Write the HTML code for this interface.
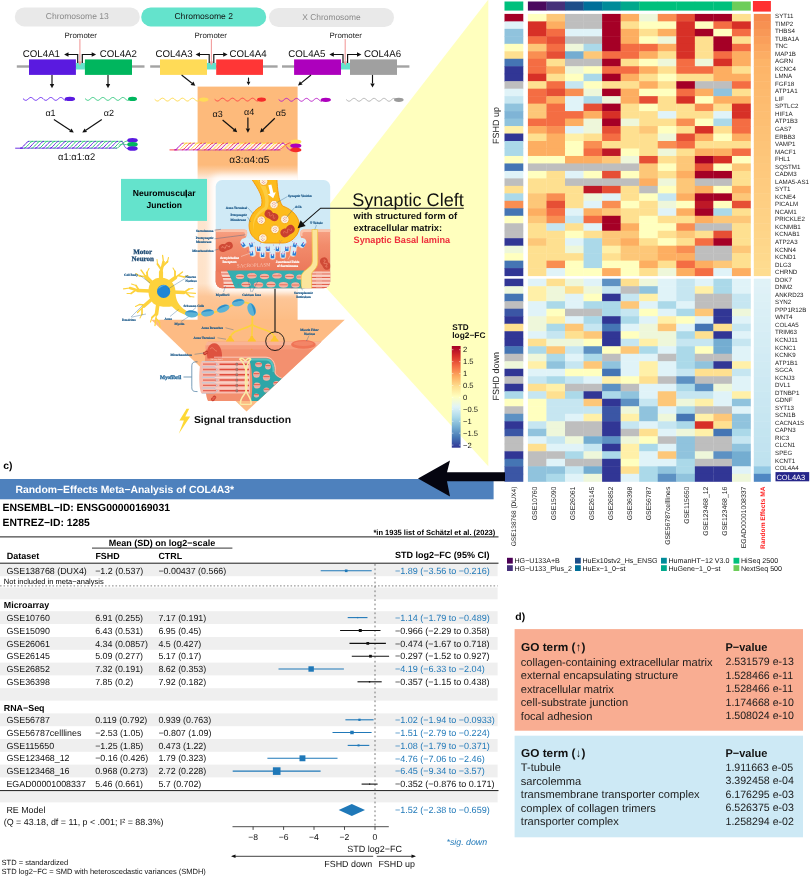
<!DOCTYPE html>
<html><head><meta charset="utf-8"><title>Figure</title>
<style>
html,body{margin:0;padding:0;background:#fff;}
body{width:811px;height:877px;overflow:hidden;font-family:"Liberation Sans",sans-serif;}
svg{display:block;font-family:"Liberation Sans",sans-serif;will-change:transform;text-rendering:geometricPrecision;}
</style></head><body>
<svg width="811" height="877" viewBox="0 0 811 877">
<rect width="811" height="877" fill="#fff"/>
<g id="diagram">
<polygon points="488.0,0 488.3,0 488.3,466.2 324,285.6 324,211.4" fill="#ffffbe"/>
<defs>
<linearGradient id="colg" x1="0" y1="0" x2="0" y2="1" gradientUnits="objectBoundingBox">
<stop offset="0" stop-color="#fdba7b"/><stop offset="0.334" stop-color="#fdba7b"/><stop offset="0.365" stop-color="#fdd2aa"/><stop offset="0.392" stop-color="#feeadb"/>
<stop offset="0.45" stop-color="#fee6d2"/><stop offset="0.84" stop-color="#fee2c8"/><stop offset="0.895" stop-color="#fdc698"/><stop offset="1" stop-color="#fdbd84"/>
</linearGradient>
<filter id="blur4" x="-20%" y="-20%" width="140%" height="140%"><feGaussianBlur stdDeviation="3"/></filter>
<filter id="blur1"><feGaussianBlur stdDeviation="0.6"/></filter>
<clipPath id="headclip"><polygon points="100,319.7 344.8,319.7 237,420.5 100,420.5"/></clipPath>
<clipPath id="insclip"><rect x="215.7" y="180" width="114.5" height="108.2" rx="6.5"/></clipPath>
<linearGradient id="musg" x1="0" y1="0" x2="0" y2="1"><stop offset="0" stop-color="#f7a284"/><stop offset="0.25" stop-color="#f28c6c"/><stop offset="1" stop-color="#e76a4e"/></linearGradient>
<linearGradient id="cbar" x1="0" y1="0" x2="0" y2="1">
<stop offset="0" stop-color="#a50026"/><stop offset="0.1" stop-color="#d73027"/><stop offset="0.2" stop-color="#f46d43"/><stop offset="0.3" stop-color="#fdae61"/><stop offset="0.4" stop-color="#fee090"/><stop offset="0.5" stop-color="#ffffbf"/><stop offset="0.6" stop-color="#e0f3f8"/><stop offset="0.7" stop-color="#abd9e9"/><stop offset="0.8" stop-color="#74add1"/><stop offset="0.9" stop-color="#4575b4"/><stop offset="1" stop-color="#313695"/>
</linearGradient>
</defs>
<rect x="197.60" y="86.60" width="100.00" height="234.40" fill="url(#colg)"/>
<polygon points="151.2,319.7 344.8,319.7 246.5,411.5" fill="#fdbb84"/>
<g clip-path="url(#colclip)"><rect x="210" y="175" width="126" height="118" rx="9" fill="#fff" opacity="0.95" filter="url(#blur4)"/></g>
<defs><clipPath id="colclip"><rect x="197.6" y="160" width="100" height="160"/></clipPath></defs>
<rect x="14.8" y="7.4" width="125.00000000000001" height="19.0" rx="9.5" fill="#e9e9e9"/>
<text x="77.3" y="19.4" font-size="8.5" text-anchor="middle" fill="#8a8a8a" textLength="63.0" lengthAdjust="spacingAndGlyphs">Chromosome 13</text>
<text x="80.8" y="37.7" font-size="7.8" text-anchor="middle" fill="#222" textLength="32.4" lengthAdjust="spacingAndGlyphs">Promoter</text>
<rect x="16.80" y="65.30" width="127.70" height="2.40" fill="#a3a3a3"/>
<rect x="75.90" y="62.90" width="9.00" height="6.60" fill="#64e3cc"/>
<rect x="29.00" y="59.40" width="46.90" height="15.50" fill="#5a1ae0"/>
<rect x="84.90" y="59.40" width="47.10" height="15.50" fill="#00b65e"/>
<line x1="79.9" y1="39" x2="79.9" y2="62.5" stroke="#f29c9c" stroke-width="1.1"/>
<polygon points="78.0,61.6 81.80000000000001,61.6 79.9,65.4" fill="#f29c9c"/>
<path d="M77.7,63 L77.7,54.5 L67.7,54.5" fill="none" stroke="#111" stroke-width="1.15"/>
<polygon points="64.10000000000001,54.5 68.5,52.3 68.5,56.7" fill="#111"/>
<path d="M82.30000000000001,63 L82.30000000000001,54.5 L92.30000000000001,54.5" fill="none" stroke="#111" stroke-width="1.15"/>
<polygon points="96.10000000000001,54.5 91.70000000000002,52.3 91.70000000000002,56.7" fill="#111"/>
<text x="22.8" y="56.7" font-size="9.8" fill="#111" textLength="37.2" lengthAdjust="spacingAndGlyphs">COL4A1</text>
<text x="99.7" y="56.7" font-size="9.8" fill="#111" textLength="37.2" lengthAdjust="spacingAndGlyphs">COL4A2</text>
<rect x="141.2" y="7.4" width="125.0" height="19.0" rx="9.5" fill="#64e3cc"/>
<text x="203.7" y="19.4" font-size="8.5" text-anchor="middle" fill="#111" textLength="58.5" lengthAdjust="spacingAndGlyphs">Chromosome 2</text>
<text x="210.8" y="37.7" font-size="7.8" text-anchor="middle" fill="#222" textLength="32.4" lengthAdjust="spacingAndGlyphs">Promoter</text>
<rect x="150.20" y="65.30" width="127.40" height="2.40" fill="#a3a3a3"/>
<rect x="207.00" y="62.90" width="9.20" height="6.60" fill="#64e3cc"/>
<rect x="160.00" y="59.40" width="47.00" height="15.50" fill="#ffdb57"/>
<rect x="216.20" y="59.40" width="46.80" height="15.50" fill="#ff3636"/>
<line x1="211.4" y1="39" x2="211.4" y2="62.5" stroke="#f29c9c" stroke-width="1.1"/>
<polygon points="209.5,61.6 213.3,61.6 211.4,65.4" fill="#f29c9c"/>
<path d="M209.20000000000002,63 L209.20000000000002,54.5 L199.20000000000002,54.5" fill="none" stroke="#111" stroke-width="1.15"/>
<polygon points="195.60000000000002,54.5 200.00000000000003,52.3 200.00000000000003,56.7" fill="#111"/>
<path d="M213.8,63 L213.8,54.5 L223.8,54.5" fill="none" stroke="#111" stroke-width="1.15"/>
<polygon points="227.60000000000002,54.5 223.20000000000002,52.3 223.20000000000002,56.7" fill="#111"/>
<text x="155.4" y="56.7" font-size="9.8" fill="#111" textLength="37.2" lengthAdjust="spacingAndGlyphs">COL4A3</text>
<text x="229.4" y="56.7" font-size="9.8" fill="#111" textLength="37.2" lengthAdjust="spacingAndGlyphs">COL4A4</text>
<rect x="269" y="8" width="125" height="19" rx="9.5" fill="#e9e9e9"/>
<text x="331.5" y="20.0" font-size="8.5" text-anchor="middle" fill="#8a8a8a" textLength="58.3" lengthAdjust="spacingAndGlyphs">X Chromosome</text>
<text x="345.7" y="37.7" font-size="7.8" text-anchor="middle" fill="#222" textLength="32.4" lengthAdjust="spacingAndGlyphs">Promoter</text>
<rect x="282.00" y="65.30" width="127.40" height="2.40" fill="#a3a3a3"/>
<rect x="341.00" y="62.90" width="9.00" height="6.60" fill="#64e3cc"/>
<rect x="294.10" y="59.40" width="46.90" height="15.50" fill="#ad00bd"/>
<rect x="350.00" y="59.40" width="47.00" height="15.50" fill="#a0a0a0"/>
<line x1="345.2" y1="39" x2="345.2" y2="62.5" stroke="#f29c9c" stroke-width="1.1"/>
<polygon points="343.3,61.6 347.09999999999997,61.6 345.2,65.4" fill="#f29c9c"/>
<path d="M343.0,63 L343.0,54.5 L333.0,54.5" fill="none" stroke="#111" stroke-width="1.15"/>
<polygon points="329.4,54.5 333.8,52.3 333.8,56.7" fill="#111"/>
<path d="M347.59999999999997,63 L347.59999999999997,54.5 L357.59999999999997,54.5" fill="none" stroke="#111" stroke-width="1.15"/>
<polygon points="361.4,54.5 356.99999999999994,52.3 356.99999999999994,56.7" fill="#111"/>
<text x="288.2" y="56.7" font-size="9.8" fill="#111" textLength="37.2" lengthAdjust="spacingAndGlyphs">COL4A5</text>
<text x="363.9" y="56.7" font-size="9.8" fill="#111" textLength="37.2" lengthAdjust="spacingAndGlyphs">COL4A6</text>
<line x1="52.0" y1="74.9" x2="52.0" y2="84.0" stroke="#111" stroke-width="1.15"/><polygon points="52.0,88.2 49.8,84.0 54.2,84.0" fill="#111"/>
<line x1="108.0" y1="74.9" x2="108.0" y2="84.0" stroke="#111" stroke-width="1.15"/><polygon points="108.0,88.2 105.8,84.0 110.2,84.0" fill="#111"/>
<line x1="181.6" y1="75.0" x2="192.0" y2="83.2" stroke="#111" stroke-width="1.15"/><polygon points="195.3,85.8 190.6,84.9 193.4,81.5" fill="#111"/>
<line x1="248.5" y1="77.6" x2="248.5" y2="81.7" stroke="#111" stroke-width="1.15"/><polygon points="248.5,85.3 246.6,81.7 250.4,81.7" fill="#111"/>
<line x1="311.0" y1="75.0" x2="301.3" y2="82.9" stroke="#111" stroke-width="1.15"/><polygon points="298.0,85.6 299.9,81.3 302.6,84.6" fill="#111"/>
<line x1="372.5" y1="74.9" x2="372.5" y2="83.4" stroke="#111" stroke-width="1.15"/><polygon points="372.5,87.6 370.3,83.4 374.7,83.4" fill="#111"/>
<polyline points="23.3,98.90 24.1,99.56 24.8,100.08 25.6,100.34 26.3,100.27 27.1,99.90 27.8,99.31 28.6,98.63 29.4,98.01 30.1,97.58 30.9,97.45 31.6,97.64 32.4,98.11 33.1,98.76 33.9,99.43 34.7,99.99 35.4,100.31 36.2,100.31 36.9,100.00 37.7,99.45 38.4,98.77 39.2,98.12 40.0,97.65 40.7,97.45 41.5,97.58 42.2,98.00 43.0,98.62 43.7,99.30 44.5,99.89 45.3,100.27 46.0,100.34 46.8,100.09 47.5,99.58 48.3,98.91 49.0,98.25 49.8,97.73 50.6,97.47 51.3,97.53 52.1,97.89 52.8,98.48 53.6,99.16 54.3,99.78 55.1,100.21 55.9,100.35 56.6,100.16 57.4,99.70 58.1,99.06 58.9,98.38 59.6,97.82 60.4,97.50 61.2,97.49 61.9,97.79 62.7,98.34 63.4,99.02 64.2,99.67 64.9,100.14 65.7,100.35" fill="none" stroke="#6a2af0" stroke-width="0.95" stroke-linecap="round"/><ellipse cx="69.9" cy="98.9" rx="5.2" ry="2.15" fill="#5a1ae0"/>
<polyline points="85.4,98.90 86.2,99.56 86.9,100.07 87.7,100.33 88.4,100.28 89.2,99.92 89.9,99.34 90.7,98.66 91.4,98.04 92.2,97.60 92.9,97.45 93.7,97.62 94.4,98.06 95.2,98.69 95.9,99.37 96.7,99.94 97.4,100.29 98.2,100.33 98.9,100.06 99.7,99.53 100.4,98.87 101.2,98.21 101.9,97.71 102.7,97.46 103.4,97.53 104.2,97.90 104.9,98.49 105.7,99.17 106.4,99.79 107.2,100.21 108.0,100.35 108.7,100.17 109.5,99.71 110.2,99.08 111.0,98.40 111.7,97.84 112.5,97.50 113.2,97.48 114.0,97.76 114.7,98.30 115.5,98.96 116.2,99.62 117.0,100.11 117.7,100.34 118.5,100.26 119.2,99.87 120.0,99.28 120.7,98.60 121.5,97.99 122.2,97.57 123.0,97.45 123.7,97.65 124.5,98.12 125.2,98.76 126.0,99.43 126.7,99.98 127.5,100.30 128.2,100.32 129.0,100.02" fill="none" stroke="#2fc77c" stroke-width="0.95" stroke-linecap="round"/><ellipse cx="132.5" cy="98.9" rx="4.5" ry="2.15" fill="#00b65e"/>
<polyline points="155.0,99.60 155.8,100.26 156.5,100.77 157.2,101.03 158.0,100.98 158.8,100.63 159.5,100.05 160.2,99.37 161.0,98.75 161.8,98.31 162.5,98.15 163.2,98.31 164.0,98.75 164.8,99.37 165.5,100.05 166.2,100.63 167.0,100.98 167.8,101.03 168.5,100.77 169.2,100.26 170.0,99.60 170.8,98.94 171.5,98.43 172.2,98.17 173.0,98.22 173.8,98.57 174.5,99.15 175.2,99.83 176.0,100.45 176.8,100.89 177.5,101.05 178.2,100.89 179.0,100.45 179.8,99.83 180.5,99.15 181.2,98.57 182.0,98.22 182.8,98.17 183.5,98.43 184.2,98.94 185.0,99.60 185.8,100.26 186.5,100.77 187.2,101.03 188.0,100.98 188.8,100.63 189.5,100.05 190.2,99.37 191.0,98.75 191.8,98.31 192.5,98.15 193.2,98.31 194.0,98.75 194.8,99.37 195.5,100.05 196.2,100.63 197.0,100.98 197.8,101.03 198.5,100.77 199.2,100.26 200.0,99.60" fill="none" stroke="#ffd84a" stroke-width="0.95" stroke-linecap="round"/><ellipse cx="203.7" cy="99.6" rx="4.7" ry="2.15" fill="#ffdb57"/>
<polyline points="215.0,99.60 215.8,100.26 216.5,100.78 217.3,101.03 218.0,100.97 218.8,100.61 219.5,100.03 220.3,99.35 221.0,98.72 221.8,98.29 222.5,98.15 223.3,98.33 224.1,98.79 224.8,99.42 225.6,100.10 226.3,100.67 227.1,101.00 227.8,101.02 228.6,100.73 229.3,100.19 230.1,99.52 230.8,98.87 231.6,98.38 232.4,98.16 233.1,98.25 233.9,98.65 234.6,99.25 235.4,99.93 236.1,100.54 236.9,100.94 237.6,101.05 238.4,100.83 239.1,100.35 239.9,99.70 240.6,99.02 241.4,98.48 242.2,98.18 242.9,98.20 243.7,98.52 244.4,99.08 245.2,99.76 245.9,100.40 246.7,100.86 247.4,101.05 248.2,100.91 248.9,100.49 249.7,99.87 250.5,99.19 251.2,98.60 252.0,98.23 252.7,98.16 253.5,98.41 254.2,98.92 255.0,99.58 255.7,100.25 256.5,100.77 257.2,101.03 258.0,100.98" fill="none" stroke="#ff4545" stroke-width="0.95" stroke-linecap="round"/><ellipse cx="261.5" cy="99.6" rx="4.5" ry="2.15" fill="#f52a2a"/>
<polyline points="279.0,99.80 279.8,100.47 280.5,100.99 281.3,101.24 282.1,101.16 282.8,100.78 283.6,100.18 284.3,99.49 285.1,98.88 285.9,98.46 286.6,98.35 287.4,98.57 288.1,99.06 288.9,99.72 289.7,100.40 290.4,100.94 291.2,101.22 292.0,101.19 292.7,100.84 293.5,100.26 294.2,99.57 295.0,98.94 295.8,98.50 296.5,98.35 297.3,98.53 298.1,98.99 298.8,99.64 299.6,100.32 300.4,100.89 301.1,101.21 301.9,101.21 302.6,100.90 303.4,100.33 304.2,99.65 304.9,99.00 305.7,98.53 306.4,98.35 307.2,98.49 308.0,98.93 308.7,99.56 309.5,100.25 310.3,100.83 311.0,101.19 311.8,101.23 312.6,100.95 313.3,100.41 314.1,99.73 314.8,99.07 315.6,98.58 316.4,98.36 317.1,98.46 317.9,98.87 318.6,99.48 319.4,100.17 320.2,100.78 320.9,101.16 321.7,101.24" fill="none" stroke="#b820c8" stroke-width="0.95" stroke-linecap="round"/><ellipse cx="325.8" cy="99.8" rx="5.1" ry="2.15" fill="#ad00bd"/>
<polyline points="346.5,99.80 347.3,100.46 348.0,100.98 348.8,101.24 349.5,101.17 350.3,100.80 351.0,100.21 351.8,99.52 352.6,98.90 353.3,98.48 354.1,98.35 354.8,98.55 355.6,99.02 356.4,99.66 357.1,100.34 357.9,100.90 358.6,101.21 359.4,101.21 360.1,100.89 360.9,100.34 361.7,99.66 362.4,99.01 363.2,98.54 363.9,98.35 364.7,98.48 365.4,98.91 366.2,99.53 367.0,100.21 367.7,100.80 368.5,101.17 369.2,101.23 370.0,100.98 370.8,100.46 371.5,99.79 372.3,99.13 373.0,98.61 373.8,98.36 374.5,98.43 375.3,98.81 376.1,99.40 376.8,100.08 377.6,100.70 378.3,101.12 379.1,101.25 379.8,101.05 380.6,100.58 381.4,99.93 382.1,99.25 382.9,98.70 383.6,98.39 384.4,98.39 385.1,98.71 385.9,99.27 386.7,99.95 387.4,100.59 388.2,101.06 388.9,101.25 389.7,101.11 390.5,100.69 391.2,100.06 392.0,99.38 392.7,98.79 393.5,98.43 394.2,98.37 395.0,98.63" fill="none" stroke="#b0b0b0" stroke-width="0.95" stroke-linecap="round"/><ellipse cx="398.8" cy="99.8" rx="4.8" ry="2.15" fill="#9a9a9a"/>
<text x="50.5" y="116.1" font-size="9.0" text-anchor="middle" fill="#111">α1</text>
<text x="108.8" y="116.1" font-size="9.0" text-anchor="middle" fill="#111">α2</text>
<line x1="53.9" y1="119.6" x2="70.3" y2="130.3" stroke="#111" stroke-width="1.2"/><polygon points="73.8,132.6 69.1,132.1 71.5,128.5" fill="#111"/>
<line x1="101.8" y1="119.6" x2="85.8" y2="130.3" stroke="#111" stroke-width="1.2"/><polygon points="82.3,132.6 84.6,128.5 87.0,132.1" fill="#111"/>
<text x="217.6" y="116.5" font-size="9.0" text-anchor="middle" fill="#111">α3</text>
<text x="249.2" y="114.8" font-size="9.0" text-anchor="middle" fill="#111">α4</text>
<text x="280.8" y="115.5" font-size="9.0" text-anchor="middle" fill="#111">α5</text>
<line x1="222.6" y1="120.0" x2="234.0" y2="129.5" stroke="#111" stroke-width="1.2"/><polygon points="237.2,132.2 232.6,131.2 235.4,127.8" fill="#111"/>
<line x1="247.9" y1="117.6" x2="247.9" y2="128.6" stroke="#111" stroke-width="1.2"/><polygon points="247.9,132.8 245.7,128.6 250.1,128.6" fill="#111"/>
<line x1="274.8" y1="118.3" x2="262.9" y2="129.7" stroke="#111" stroke-width="1.2"/><polygon points="259.9,132.6 261.4,128.1 264.4,131.3" fill="#111"/>
<path d="M15.2,148.2 L23.2,148.2" stroke="#5a1ae0" stroke-width="0.9" fill="none"/>
<polygon points="22.2,148.2 117,148.2 123,141.3 28.2,141.3" fill="#fff" opacity="0.8"/>
<line x1="20.2" y1="148.2" x2="117" y2="148.2" stroke="#5a1ae0" stroke-width="0.7"/>
<line x1="28.2" y1="141.3" x2="123" y2="141.3" stroke="#22c070" stroke-width="0.7"/>
<path d="M20.2,148.2 C23.2,148.2 26.2,141.3 29.2,141.3" stroke="#5a1ae0" stroke-width="0.95" fill="none"/>
<path d="M23.9,148.2 C26.9,148.2 29.9,141.3 32.9,141.3" stroke="#22c070" stroke-width="0.95" fill="none"/>
<path d="M27.6,148.2 C30.6,148.2 33.6,141.3 36.6,141.3" stroke="#5a1ae0" stroke-width="0.95" fill="none"/>
<path d="M31.3,148.2 C34.3,148.2 37.3,141.3 40.3,141.3" stroke="#22c070" stroke-width="0.95" fill="none"/>
<path d="M35.0,148.2 C38.0,148.2 41.0,141.3 44.0,141.3" stroke="#5a1ae0" stroke-width="0.95" fill="none"/>
<path d="M38.7,148.2 C41.7,148.2 44.7,141.3 47.7,141.3" stroke="#22c070" stroke-width="0.95" fill="none"/>
<path d="M42.4,148.2 C45.4,148.2 48.4,141.3 51.4,141.3" stroke="#5a1ae0" stroke-width="0.95" fill="none"/>
<path d="M46.1,148.2 C49.1,148.2 52.1,141.3 55.1,141.3" stroke="#22c070" stroke-width="0.95" fill="none"/>
<path d="M49.8,148.2 C52.8,148.2 55.8,141.3 58.8,141.3" stroke="#5a1ae0" stroke-width="0.95" fill="none"/>
<path d="M53.5,148.2 C56.5,148.2 59.5,141.3 62.5,141.3" stroke="#22c070" stroke-width="0.95" fill="none"/>
<path d="M57.2,148.2 C60.2,148.2 63.2,141.3 66.2,141.3" stroke="#5a1ae0" stroke-width="0.95" fill="none"/>
<path d="M60.9,148.2 C63.9,148.2 66.9,141.3 69.9,141.3" stroke="#22c070" stroke-width="0.95" fill="none"/>
<path d="M64.6,148.2 C67.6,148.2 70.6,141.3 73.6,141.3" stroke="#5a1ae0" stroke-width="0.95" fill="none"/>
<path d="M68.3,148.2 C71.3,148.2 74.3,141.3 77.3,141.3" stroke="#22c070" stroke-width="0.95" fill="none"/>
<path d="M72.0,148.2 C75.0,148.2 78.0,141.3 81.0,141.3" stroke="#5a1ae0" stroke-width="0.95" fill="none"/>
<path d="M75.7,148.2 C78.7,148.2 81.7,141.3 84.7,141.3" stroke="#22c070" stroke-width="0.95" fill="none"/>
<path d="M79.4,148.2 C82.4,148.2 85.4,141.3 88.4,141.3" stroke="#5a1ae0" stroke-width="0.95" fill="none"/>
<path d="M83.1,148.2 C86.1,148.2 89.1,141.3 92.1,141.3" stroke="#22c070" stroke-width="0.95" fill="none"/>
<path d="M86.8,148.2 C89.8,148.2 92.8,141.3 95.8,141.3" stroke="#5a1ae0" stroke-width="0.95" fill="none"/>
<path d="M90.5,148.2 C93.5,148.2 96.5,141.3 99.5,141.3" stroke="#22c070" stroke-width="0.95" fill="none"/>
<path d="M94.2,148.2 C97.2,148.2 100.2,141.3 103.2,141.3" stroke="#5a1ae0" stroke-width="0.95" fill="none"/>
<path d="M97.9,148.2 C100.9,148.2 103.9,141.3 106.9,141.3" stroke="#22c070" stroke-width="0.95" fill="none"/>
<path d="M101.6,148.2 C104.6,148.2 107.6,141.3 110.6,141.3" stroke="#5a1ae0" stroke-width="0.95" fill="none"/>
<path d="M105.3,148.2 C108.3,148.2 111.3,141.3 114.3,141.3" stroke="#22c070" stroke-width="0.95" fill="none"/>
<path d="M109.0,148.2 C112.0,148.2 115.0,141.3 118.0,141.3" stroke="#5a1ae0" stroke-width="0.95" fill="none"/>
<path d="M112.7,148.2 C115.7,148.2 118.7,141.3 121.7,141.3" stroke="#22c070" stroke-width="0.95" fill="none"/>
<path d="M120.7,141.3 C124.7,141.3 123.0,148.55 128.0,148.55" stroke="#5a1ae0" stroke-width="0.8" fill="none"/>
<path d="M115.7,148.2 C120.7,148.2 122.0,140.95 128.0,140.95" stroke="#22c070" stroke-width="0.8" fill="none"/>
<path d="M118.7,145.75 C121.7,142.75 124.0,144.75 128.0,144.75" stroke="#22c070" stroke-width="0.8" fill="none"/>
<ellipse cx="132.5" cy="140.3" rx="5.2" ry="2.3" fill="#5a1ae0"/>
<ellipse cx="132.5" cy="144.4" rx="5.2" ry="2.3" fill="#00b65e"/>
<ellipse cx="132.5" cy="148.5" rx="5.2" ry="2.3" fill="#5a1ae0"/>
<path d="M169.5,149.9 L177.5,149.9" stroke="#ff3636" stroke-width="0.9" fill="none"/>
<polygon points="176.5,149.9 280.5,149.9 286.5,143.1 182.5,143.1" fill="#fff" opacity="0.8"/>
<line x1="174.5" y1="149.9" x2="280.5" y2="149.9" stroke="#ad00bd" stroke-width="0.7"/>
<line x1="182.5" y1="143.1" x2="286.5" y2="143.1" stroke="#ffcf30" stroke-width="0.7"/>
<path d="M174.5,149.9 C177.5,149.9 180.5,143.1 183.5,143.1" stroke="#ad00bd" stroke-width="0.95" fill="none"/>
<path d="M178.2,149.9 C181.2,149.9 184.2,143.1 187.2,143.1" stroke="#ffcf30" stroke-width="0.95" fill="none"/>
<path d="M181.9,149.9 C184.9,149.9 187.9,143.1 190.9,143.1" stroke="#ff3636" stroke-width="0.95" fill="none"/>
<path d="M185.6,149.9 C188.6,149.9 191.6,143.1 194.6,143.1" stroke="#ad00bd" stroke-width="0.95" fill="none"/>
<path d="M189.3,149.9 C192.3,149.9 195.3,143.1 198.3,143.1" stroke="#ffcf30" stroke-width="0.95" fill="none"/>
<path d="M193.0,149.9 C196.0,149.9 199.0,143.1 202.0,143.1" stroke="#ff3636" stroke-width="0.95" fill="none"/>
<path d="M196.7,149.9 C199.7,149.9 202.7,143.1 205.7,143.1" stroke="#ad00bd" stroke-width="0.95" fill="none"/>
<path d="M200.4,149.9 C203.4,149.9 206.4,143.1 209.4,143.1" stroke="#ffcf30" stroke-width="0.95" fill="none"/>
<path d="M204.1,149.9 C207.1,149.9 210.1,143.1 213.1,143.1" stroke="#ff3636" stroke-width="0.95" fill="none"/>
<path d="M207.8,149.9 C210.8,149.9 213.8,143.1 216.8,143.1" stroke="#ad00bd" stroke-width="0.95" fill="none"/>
<path d="M211.5,149.9 C214.5,149.9 217.5,143.1 220.5,143.1" stroke="#ffcf30" stroke-width="0.95" fill="none"/>
<path d="M215.2,149.9 C218.2,149.9 221.2,143.1 224.2,143.1" stroke="#ff3636" stroke-width="0.95" fill="none"/>
<path d="M218.9,149.9 C221.9,149.9 224.9,143.1 227.9,143.1" stroke="#ad00bd" stroke-width="0.95" fill="none"/>
<path d="M222.6,149.9 C225.6,149.9 228.6,143.1 231.6,143.1" stroke="#ffcf30" stroke-width="0.95" fill="none"/>
<path d="M226.3,149.9 C229.3,149.9 232.3,143.1 235.3,143.1" stroke="#ff3636" stroke-width="0.95" fill="none"/>
<path d="M230.0,149.9 C233.0,149.9 236.0,143.1 239.0,143.1" stroke="#ad00bd" stroke-width="0.95" fill="none"/>
<path d="M233.7,149.9 C236.7,149.9 239.7,143.1 242.7,143.1" stroke="#ffcf30" stroke-width="0.95" fill="none"/>
<path d="M237.4,149.9 C240.4,149.9 243.4,143.1 246.4,143.1" stroke="#ff3636" stroke-width="0.95" fill="none"/>
<path d="M241.1,149.9 C244.1,149.9 247.1,143.1 250.1,143.1" stroke="#ad00bd" stroke-width="0.95" fill="none"/>
<path d="M244.8,149.9 C247.8,149.9 250.8,143.1 253.8,143.1" stroke="#ffcf30" stroke-width="0.95" fill="none"/>
<path d="M248.5,149.9 C251.5,149.9 254.5,143.1 257.5,143.1" stroke="#ff3636" stroke-width="0.95" fill="none"/>
<path d="M252.2,149.9 C255.2,149.9 258.2,143.1 261.2,143.1" stroke="#ad00bd" stroke-width="0.95" fill="none"/>
<path d="M255.9,149.9 C258.9,149.9 261.9,143.1 264.9,143.1" stroke="#ffcf30" stroke-width="0.95" fill="none"/>
<path d="M259.6,149.9 C262.6,149.9 265.6,143.1 268.6,143.1" stroke="#ff3636" stroke-width="0.95" fill="none"/>
<path d="M263.3,149.9 C266.3,149.9 269.3,143.1 272.3,143.1" stroke="#ad00bd" stroke-width="0.95" fill="none"/>
<path d="M267.0,149.9 C270.0,149.9 273.0,143.1 276.0,143.1" stroke="#ffcf30" stroke-width="0.95" fill="none"/>
<path d="M270.7,149.9 C273.7,149.9 276.7,143.1 279.7,143.1" stroke="#ff3636" stroke-width="0.95" fill="none"/>
<path d="M274.4,149.9 C277.4,149.9 280.4,143.1 283.4,143.1" stroke="#ad00bd" stroke-width="0.95" fill="none"/>
<path d="M282.4,143.1 C286.4,143.1 286.5,150.3 291.5,150.3" stroke="#ad00bd" stroke-width="0.8" fill="none"/>
<path d="M277.4,149.9 C282.4,149.9 285.5,142.7 291.5,142.7" stroke="#ff3636" stroke-width="0.8" fill="none"/>
<path d="M280.4,147.5 C283.4,144.5 287.5,146.5 291.5,146.5" stroke="#ffcf30" stroke-width="0.8" fill="none"/>
<ellipse cx="295.8" cy="141.8" rx="5.6" ry="2.4" fill="#ffdb57"/>
<ellipse cx="295.8" cy="145.8" rx="5.6" ry="2.4" fill="#ad00bd"/>
<ellipse cx="295.8" cy="149.9" rx="5.6" ry="2.4" fill="#f52a2a"/>
<text x="76.6" y="159.7" font-size="9.7" text-anchor="middle" fill="#111" textLength="37.1" lengthAdjust="spacingAndGlyphs">α1:α1:α2</text>
<text x="249.4" y="162.7" font-size="10.2" text-anchor="middle" fill="#111" textLength="40.1" lengthAdjust="spacingAndGlyphs">α3:α4:α5</text>
<rect x="121.00" y="178.90" width="86.00" height="42.00" fill="#64e3cc"/>
<text x="164.2" y="195.8" font-size="8.6" text-anchor="middle" font-weight="bold" fill="#000" textLength="62.8" lengthAdjust="spacingAndGlyphs">Neuromuscular</text>
<rect x="185.80" y="190.40" width="1.10" height="7.20" fill="#000"/>
<text x="164.2" y="208.1" font-size="8.6" text-anchor="middle" font-weight="bold" fill="#000" textLength="35.4" lengthAdjust="spacingAndGlyphs">Junction</text>
<text x="352.2" y="205.7" font-size="18.2" fill="#111" textLength="111.6" lengthAdjust="spacingAndGlyphs">Synaptic Cleft</text>
<text x="353.6" y="219.0" font-size="9.3" font-weight="bold" fill="#111" textLength="103.5" lengthAdjust="spacingAndGlyphs">with structured form of</text>
<text x="353.6" y="231.2" font-size="9.3" font-weight="bold" fill="#111" textLength="88.5" lengthAdjust="spacingAndGlyphs">extracellular matrix:</text>
<text x="353.6" y="243.4" font-size="9.3" font-weight="bold" fill="#ee2f3c" textLength="96.5" lengthAdjust="spacingAndGlyphs">Synaptic Basal lamina</text>
<text x="452.3" y="329.5" font-size="8.2" font-weight="bold" fill="#111" textLength="16.3" lengthAdjust="spacingAndGlyphs">STD</text>
<text x="452.3" y="338.3" font-size="8.2" font-weight="bold" fill="#111" textLength="33.2" lengthAdjust="spacingAndGlyphs">log2−FC</text>
<rect x="451.80" y="346.00" width="8.80" height="101.70" fill="url(#cbar)"/>
<line x1="451.8" y1="349.7" x2="453.4" y2="349.7" stroke="#fff" stroke-width="0.5"/>
<line x1="459.0" y1="349.7" x2="460.6" y2="349.7" stroke="#fff" stroke-width="0.5"/>
<text x="463.0" y="352.4" font-size="7.6" fill="#111">2</text>
<line x1="451.8" y1="361.6" x2="453.4" y2="361.6" stroke="#fff" stroke-width="0.5"/>
<line x1="459.0" y1="361.6" x2="460.6" y2="361.6" stroke="#fff" stroke-width="0.5"/>
<text x="463.0" y="364.3" font-size="7.6" fill="#111">1.5</text>
<line x1="451.8" y1="373.6" x2="453.4" y2="373.6" stroke="#fff" stroke-width="0.5"/>
<line x1="459.0" y1="373.6" x2="460.6" y2="373.6" stroke="#fff" stroke-width="0.5"/>
<text x="463.0" y="376.2" font-size="7.6" fill="#111">1</text>
<line x1="451.8" y1="385.5" x2="453.4" y2="385.5" stroke="#fff" stroke-width="0.5"/>
<line x1="459.0" y1="385.5" x2="460.6" y2="385.5" stroke="#fff" stroke-width="0.5"/>
<text x="463.0" y="388.2" font-size="7.6" fill="#111">0.5</text>
<line x1="451.8" y1="397.4" x2="453.4" y2="397.4" stroke="#fff" stroke-width="0.5"/>
<line x1="459.0" y1="397.4" x2="460.6" y2="397.4" stroke="#fff" stroke-width="0.5"/>
<text x="463.0" y="400.1" font-size="7.6" fill="#111">0</text>
<line x1="451.8" y1="409.3" x2="453.4" y2="409.3" stroke="#fff" stroke-width="0.5"/>
<line x1="459.0" y1="409.3" x2="460.6" y2="409.3" stroke="#fff" stroke-width="0.5"/>
<text x="463.0" y="412.0" font-size="7.6" fill="#111">−0.5</text>
<line x1="451.8" y1="421.3" x2="453.4" y2="421.3" stroke="#fff" stroke-width="0.5"/>
<line x1="459.0" y1="421.3" x2="460.6" y2="421.3" stroke="#fff" stroke-width="0.5"/>
<text x="463.0" y="423.9" font-size="7.6" fill="#111">−1</text>
<line x1="451.8" y1="433.2" x2="453.4" y2="433.2" stroke="#fff" stroke-width="0.5"/>
<line x1="459.0" y1="433.2" x2="460.6" y2="433.2" stroke="#fff" stroke-width="0.5"/>
<text x="463.0" y="435.9" font-size="7.6" fill="#111">−1.5</text>
<line x1="451.8" y1="445.1" x2="453.4" y2="445.1" stroke="#fff" stroke-width="0.5"/>
<line x1="459.0" y1="445.1" x2="460.6" y2="445.1" stroke="#fff" stroke-width="0.5"/>
<text x="463.0" y="447.8" font-size="7.6" fill="#111">−2</text>
<text x="193.9" y="422.6" font-size="10.2" font-weight="bold" fill="#111" textLength="97.2" lengthAdjust="spacingAndGlyphs">Signal transduction</text>
<polygon points="186.6,408.8 179.4,420.6 183.9,420.6 178.8,433.8 190.2,416.6 185.3,416.6 189.2,408.8" fill="#fdd835"/>
<g clip-path="url(#headclip)">
<path d="M208,341.8 L360,341.8 L360,401 L208,401 C203.5,394 203.5,350 208,341.8 Z" fill="#f3906f"/>
<path d="M207,341.8 L360,341.8 L360,345.4 L205.6,345.4 Z" fill="#f9b496"/>
<rect x="205" y="345.4" width="160" height="4" fill="#f6a283" opacity="0.7"/>
<ellipse cx="303.4" cy="344.4" rx="12.2" ry="4.4" fill="#f07456"/>
<ellipse cx="303.4" cy="343.6" rx="10" ry="2.4" fill="#f48a6c" opacity="0.8"/>
<path d="M207.5,358.5 C205.5,349.5 209,343 214.5,343.2 C219.5,343.4 222.5,350 222,358.5 Z" fill="#de5240"/>
<path d="M210,349 q2,-3 4,0 t3,2" fill="none" stroke="#f08a70" stroke-width="0.7"/>
<g transform="translate(205.6,352.8) rotate(-30)"><path d="M-2.7,0 C-2.7,-2.21 -0.54,-1.87 0,-1.19 C0.81,-2.04 2.7,-2.04 2.7,0 C2.7,2.21 0.54,1.7 0,1.7 C-1.08,2.04 -2.7,2.04 -2.7,0 Z" fill="#c63c2e"/><path d="M-1.62,0 q0.405,-1.19 0.81,0 t0.81,0 t0.81,0 t0.81,0" fill="none" stroke="#e8715a" stroke-width="0.7"/></g>
<path d="M214,357.2 L266,357.2 C274,357.2 276,366 275,372 C276,376 280,378 284,379" fill="none" stroke="#fbd9cf" stroke-width="0.8"/>
<path d="M201.5,361.6 L250,361.6 L250,393.6 L201.5,393.6 C198.5,390 198.5,365 201.5,361.6 Z" fill="#f8bcae"/>
<line x1="203.0" y1="364.2" x2="216.0" y2="364.2" stroke="#e8685a" stroke-width="1.3"/>
<line x1="219.5" y1="364.2" x2="249.0" y2="364.2" stroke="#e04c3c" stroke-width="1.5"/>
<line x1="202.0" y1="361.6" x2="249.0" y2="361.6" stroke="#fbe3dc" stroke-width="0.7"/>
<path d="M202,361.59999999999997 L214,361.59999999999997 L217.8,364.2 L214,366.8 L202,366.8" fill="none" stroke="#8fb6d8" stroke-width="0.4"/>
<rect x="235.60" y="363.00" width="2.40" height="2.40" fill="#9a6a62"/>
<line x1="203.0" y1="369.5" x2="216.0" y2="369.5" stroke="#e8685a" stroke-width="1.3"/>
<line x1="219.5" y1="369.5" x2="249.0" y2="369.5" stroke="#e04c3c" stroke-width="1.5"/>
<line x1="202.0" y1="366.9" x2="249.0" y2="366.9" stroke="#fbe3dc" stroke-width="0.7"/>
<path d="M202,366.9 L214,366.9 L217.8,369.5 L214,372.1 L202,372.1" fill="none" stroke="#8fb6d8" stroke-width="0.4"/>
<rect x="235.60" y="368.30" width="2.40" height="2.40" fill="#9a6a62"/>
<line x1="203.0" y1="374.8" x2="216.0" y2="374.8" stroke="#e8685a" stroke-width="1.3"/>
<line x1="219.5" y1="374.8" x2="249.0" y2="374.8" stroke="#e04c3c" stroke-width="1.5"/>
<line x1="202.0" y1="372.2" x2="249.0" y2="372.2" stroke="#fbe3dc" stroke-width="0.7"/>
<path d="M202,372.2 L214,372.2 L217.8,374.8 L214,377.40000000000003 L202,377.40000000000003" fill="none" stroke="#8fb6d8" stroke-width="0.4"/>
<rect x="235.60" y="373.60" width="2.40" height="2.40" fill="#9a6a62"/>
<line x1="203.0" y1="380.1" x2="216.0" y2="380.1" stroke="#e8685a" stroke-width="1.3"/>
<line x1="219.5" y1="380.1" x2="249.0" y2="380.1" stroke="#e04c3c" stroke-width="1.5"/>
<line x1="202.0" y1="377.5" x2="249.0" y2="377.5" stroke="#fbe3dc" stroke-width="0.7"/>
<path d="M202,377.5 L214,377.5 L217.8,380.1 L214,382.70000000000005 L202,382.70000000000005" fill="none" stroke="#8fb6d8" stroke-width="0.4"/>
<rect x="235.60" y="378.90" width="2.40" height="2.40" fill="#9a6a62"/>
<line x1="203.0" y1="385.4" x2="216.0" y2="385.4" stroke="#e8685a" stroke-width="1.3"/>
<line x1="219.5" y1="385.4" x2="249.0" y2="385.4" stroke="#e04c3c" stroke-width="1.5"/>
<line x1="202.0" y1="382.8" x2="249.0" y2="382.8" stroke="#fbe3dc" stroke-width="0.7"/>
<path d="M202,382.79999999999995 L214,382.79999999999995 L217.8,385.4 L214,388.0 L202,388.0" fill="none" stroke="#8fb6d8" stroke-width="0.4"/>
<rect x="235.60" y="384.20" width="2.40" height="2.40" fill="#9a6a62"/>
<line x1="203.0" y1="390.7" x2="216.0" y2="390.7" stroke="#e8685a" stroke-width="1.3"/>
<line x1="219.5" y1="390.7" x2="249.0" y2="390.7" stroke="#e04c3c" stroke-width="1.5"/>
<line x1="202.0" y1="388.1" x2="249.0" y2="388.1" stroke="#fbe3dc" stroke-width="0.7"/>
<path d="M202,388.09999999999997 L214,388.09999999999997 L217.8,390.7 L214,393.3 L202,393.3" fill="none" stroke="#8fb6d8" stroke-width="0.4"/>
<rect x="235.60" y="389.50" width="2.40" height="2.40" fill="#9a6a62"/>
<line x1="236.8" y1="362.0" x2="236.8" y2="393.0" stroke="#b88a80" stroke-width="0.5"/>
<path d="M249,358.4 L266,358.4 C273,358.4 275,366 274.2,372 C275,376 279,378 284,379.4 L284,386 L262,401 L251,401 C253,388 253,370 249,358.4 Z" fill="#2ea6a7"/>
<path d="M249,358.4 L266,358.4 C273,358.4 275,366 274.2,372 L272.5,372 C273,366 271,360.4 266,360.4 L249.6,360.4 Z" fill="#58c2bf"/>
<ellipse cx="258.6" cy="364.6" rx="3.4" ry="2.7" fill="#f6b1a2"/>
<line x1="255.60000000000002" y1="363.8" x2="261.6" y2="363.8" stroke="#e04c3c" stroke-width="0.9"/>
<line x1="255.8" y1="365.70000000000005" x2="261.4" y2="365.70000000000005" stroke="#8fb6d8" stroke-width="0.4"/>
<ellipse cx="268" cy="366.5" rx="2.9" ry="2.9" fill="#f6b1a2"/>
<line x1="265.5" y1="365.7" x2="270.5" y2="365.7" stroke="#e04c3c" stroke-width="0.9"/>
<line x1="265.70000000000005" y1="367.6" x2="270.29999999999995" y2="367.6" stroke="#8fb6d8" stroke-width="0.4"/>
<ellipse cx="256.5" cy="374.5" rx="3.3" ry="3.2" fill="#f6b1a2"/>
<line x1="253.6" y1="373.7" x2="259.40000000000003" y2="373.7" stroke="#e04c3c" stroke-width="0.9"/>
<line x1="253.79999999999998" y1="375.6" x2="259.2" y2="375.6" stroke="#8fb6d8" stroke-width="0.4"/>
<ellipse cx="266.5" cy="377.5" rx="3.6" ry="3.3" fill="#f6b1a2"/>
<line x1="263.29999999999995" y1="376.7" x2="269.70000000000005" y2="376.7" stroke="#e04c3c" stroke-width="0.9"/>
<line x1="263.5" y1="378.6" x2="269.5" y2="378.6" stroke="#8fb6d8" stroke-width="0.4"/>
<ellipse cx="276.5" cy="383.5" rx="3.2" ry="2.6" fill="#f6b1a2"/>
<line x1="273.7" y1="382.7" x2="279.3" y2="382.7" stroke="#e04c3c" stroke-width="0.9"/>
<line x1="273.90000000000003" y1="384.6" x2="279.09999999999997" y2="384.6" stroke="#8fb6d8" stroke-width="0.4"/>
<ellipse cx="257" cy="385.5" rx="3.4" ry="3" fill="#f6b1a2"/>
<line x1="254.0" y1="384.7" x2="260.0" y2="384.7" stroke="#e04c3c" stroke-width="0.9"/>
<line x1="254.2" y1="386.6" x2="259.79999999999995" y2="386.6" stroke="#8fb6d8" stroke-width="0.4"/>
<ellipse cx="266.5" cy="390" rx="3" ry="2.6" fill="#f6b1a2"/>
<line x1="263.9" y1="389.2" x2="269.1" y2="389.2" stroke="#e04c3c" stroke-width="0.9"/>
<line x1="264.1" y1="391.1" x2="268.9" y2="391.1" stroke="#8fb6d8" stroke-width="0.4"/>
<ellipse cx="256.5" cy="395.5" rx="2.6" ry="2" fill="#f6b1a2"/>
<line x1="254.3" y1="394.7" x2="258.70000000000005" y2="394.7" stroke="#e04c3c" stroke-width="0.9"/>
<line x1="254.5" y1="396.6" x2="258.5" y2="396.6" stroke="#8fb6d8" stroke-width="0.4"/>
<path d="M239.5,359 C247.5,363 249,388 244.5,394 C241.5,398 239.5,401 240.5,404.5" fill="none" stroke="#f9eca6" stroke-width="1.6"/>
<path d="M251,359 C245,363 244,388 247.5,394 C250,398 252,401 251,404.5" fill="none" stroke="#f9eca6" stroke-width="1.6"/>
<path d="M239.5,359.4 C242,356.6 243.8,359.6 245.3,360.8 C246.8,359.6 248.6,356.6 251,359.4" fill="none" stroke="#f9eca6" stroke-width="1.5"/>
<path d="M240.6,404.3 L251,404.3" stroke="#f9eca6" stroke-width="1.3"/>
<g transform="translate(213.6,398.4) rotate(-50)"><path d="M-3,0 C-3,-2.3400000000000003 -0.6000000000000001,-1.9800000000000002 0,-1.26 C0.8999999999999999,-2.16 3,-2.16 3,0 C3,2.3400000000000003 0.6000000000000001,1.8 0,1.8 C-1.2000000000000002,2.16 -3,2.16 -3,0 Z" fill="#d04434"/><path d="M-1.7999999999999998,0 q0.44999999999999996,-1.26 0.8999999999999999,0 t0.8999999999999999,0 t0.8999999999999999,0 t0.8999999999999999,0" fill="none" stroke="#e8715a" stroke-width="0.7"/></g>
<text x="210.5" y="360.2" font-size="2.6" font-family="Liberation Serif,serif" fill="#fde0d6">Sarcoplasm</text>
</g>
<path d="M252.3,318 L252.3,325.5" stroke="#fdd23c" stroke-width="1.8" fill="none"/>
<path d="M252.3,324.5 C246,329.5 232.5,329 230.2,337.5" stroke="#fdd23c" stroke-width="1.6" fill="none"/>
<path d="M252.3,324.5 L251.8,337.5" stroke="#fdd23c" stroke-width="1.6" fill="none"/>
<path d="M252.3,324.5 C258,329.5 272.5,329 274.6,337.5" stroke="#fdd23c" stroke-width="1.6" fill="none"/>
<path d="M229.2,336.0 L231.2,336.0 C231.6,338.8 234.0,339.2 234.39999999999998,341.40000000000003 L226.0,341.40000000000003 C226.39999999999998,339.2 228.79999999999998,338.8 229.2,336.0 Z" fill="#fdc62c"/>
<path d="M250.8,336.0 L252.8,336.0 C253.20000000000002,338.8 255.60000000000002,339.2 256.0,341.40000000000003 L247.60000000000002,341.40000000000003 C248.0,339.2 250.4,338.8 250.8,336.0 Z" fill="#fdc62c"/>
<path d="M273.6,336.0 L275.6,336.0 C276.0,338.8 278.40000000000003,339.2 278.8,341.40000000000003 L270.40000000000003,341.40000000000003 C270.8,339.2 273.20000000000005,338.8 273.6,336.0 Z" fill="#fdc62c"/>
<circle cx="251.8" cy="349.2" r="0.5" fill="#f5a020"/>
<circle cx="275" cy="341.2" r="9.3" fill="none" stroke="#111" stroke-width="0.9"/>
<line x1="275.0" y1="288.5" x2="275.0" y2="332.0" stroke="#111" stroke-width="1.1"/>
<text x="201.5" y="328.8" font-size="3.3" font-family="Liberation Serif,serif" font-weight="bold" fill="#1d5a8a" stroke="#1d5a8a" stroke-width="0.18">Axon Branches</text>
<line x1="225.5" y1="327.8" x2="233.5" y2="329.8" stroke="#1d5a8a" stroke-width="0.35"/>
<text x="193.5" y="338.8" font-size="3.3" font-family="Liberation Serif,serif" font-weight="bold" fill="#1d5a8a" stroke="#1d5a8a" stroke-width="0.18">Axon Terminal</text>
<line x1="217.5" y1="337.8" x2="226.0" y2="339.2" stroke="#1d5a8a" stroke-width="0.35"/>
<text x="309.5" y="330.6" font-size="3.3" font-family="Liberation Serif,serif" font-weight="bold" fill="#1d5a8a" stroke="#1d5a8a" stroke-width="0.18" text-anchor="middle">Muscle Fiber</text>
<text x="309.5" y="334.6" font-size="3.3" font-family="Liberation Serif,serif" font-weight="bold" fill="#1d5a8a" stroke="#1d5a8a" stroke-width="0.18" text-anchor="middle">Nucleus</text>
<line x1="309.0" y1="335.6" x2="306.5" y2="341.0" stroke="#1d5a8a" stroke-width="0.35"/>
<text x="170.5" y="355.5" font-size="3.3" font-family="Liberation Serif,serif" font-weight="bold" fill="#1d5a8a" stroke="#1d5a8a" stroke-width="0.18">Mitochondrion</text>
<line x1="194.5" y1="354.3" x2="204.0" y2="353.0" stroke="#1d5a8a" stroke-width="0.35"/>
<text x="160" y="378.8" font-size="5.4" font-family="Liberation Serif,serif" font-weight="bold" fill="#2b6d9e" stroke="#2b6d9e" stroke-width="0.3" textLength="21.2">Myofibril</text>
<line x1="183.5" y1="377.0" x2="191.5" y2="377.0" stroke="#1d5a8a" stroke-width="0.6"/>
<path d="M197.5,361.8 C192.5,361.8 191.8,363 191.8,367 L191.8,386.5 C191.8,390.5 192.5,391.6 197.5,391.6" fill="none" stroke="#1d5a8a" stroke-width="0.6"/>
<line x1="161.0" y1="285.0" x2="161.0" y2="272.0" stroke="#fdd23c" stroke-width="4.16" stroke-linecap="round"/><line x1="161.0" y1="272.0" x2="163.5" y2="262.0" stroke="#fdd23c" stroke-width="2.73" stroke-linecap="round"/><line x1="163.5" y1="262.0" x2="162.6" y2="255.5" stroke="#fdd23c" stroke-width="1.30" stroke-linecap="round"/>
<line x1="161.5" y1="270.0" x2="157.5" y2="264.0" stroke="#fdd23c" stroke-width="2.08" stroke-linecap="round"/><line x1="157.5" y1="264.0" x2="157.0" y2="259.5" stroke="#fdd23c" stroke-width="1.04" stroke-linecap="round"/>
<line x1="163.0" y1="266.0" x2="167.5" y2="261.5" stroke="#fdd23c" stroke-width="1.82" stroke-linecap="round"/><line x1="167.5" y1="261.5" x2="168.5" y2="257.5" stroke="#fdd23c" stroke-width="1.04" stroke-linecap="round"/>
<line x1="154.0" y1="285.0" x2="146.0" y2="277.0" stroke="#fdd23c" stroke-width="3.90" stroke-linecap="round"/><line x1="146.0" y1="277.0" x2="141.0" y2="270.0" stroke="#fdd23c" stroke-width="1.30" stroke-linecap="round"/>
<line x1="147.5" y1="279.0" x2="147.0" y2="272.5" stroke="#fdd23c" stroke-width="1.82" stroke-linecap="round"/><line x1="147.0" y1="272.5" x2="149.0" y2="268.5" stroke="#fdd23c" stroke-width="1.04" stroke-linecap="round"/>
<line x1="145.0" y1="276.5" x2="139.5" y2="276.0" stroke="#fdd23c" stroke-width="1.69" stroke-linecap="round"/><line x1="139.5" y1="276.0" x2="136.0" y2="273.5" stroke="#fdd23c" stroke-width="1.04" stroke-linecap="round"/>
<line x1="150.0" y1="291.0" x2="138.0" y2="290.5" stroke="#fdd23c" stroke-width="3.64" stroke-linecap="round"/><line x1="138.0" y1="290.5" x2="130.0" y2="288.0" stroke="#fdd23c" stroke-width="2.40" stroke-linecap="round"/><line x1="130.0" y1="288.0" x2="123.5" y2="288.8" stroke="#fdd23c" stroke-width="1.17" stroke-linecap="round"/>
<line x1="136.0" y1="290.0" x2="131.0" y2="293.5" stroke="#fdd23c" stroke-width="1.69" stroke-linecap="round"/><line x1="131.0" y1="293.5" x2="127.0" y2="293.5" stroke="#fdd23c" stroke-width="1.04" stroke-linecap="round"/>
<line x1="139.0" y1="290.3" x2="136.0" y2="285.5" stroke="#fdd23c" stroke-width="1.69" stroke-linecap="round"/><line x1="136.0" y1="285.5" x2="131.5" y2="284.0" stroke="#fdd23c" stroke-width="1.04" stroke-linecap="round"/>
<line x1="152.0" y1="299.0" x2="144.0" y2="306.0" stroke="#fdd23c" stroke-width="3.64" stroke-linecap="round"/><line x1="144.0" y1="306.0" x2="137.5" y2="312.5" stroke="#fdd23c" stroke-width="1.30" stroke-linecap="round"/>
<line x1="145.0" y1="305.0" x2="139.5" y2="304.5" stroke="#fdd23c" stroke-width="1.69" stroke-linecap="round"/><line x1="139.5" y1="304.5" x2="135.5" y2="306.5" stroke="#fdd23c" stroke-width="1.04" stroke-linecap="round"/>
<line x1="142.0" y1="308.5" x2="142.0" y2="314.0" stroke="#fdd23c" stroke-width="1.69" stroke-linecap="round"/><line x1="142.0" y1="314.0" x2="140.0" y2="318.0" stroke="#fdd23c" stroke-width="1.04" stroke-linecap="round"/>
<line x1="158.0" y1="303.0" x2="156.5" y2="314.0" stroke="#fdd23c" stroke-width="3.64" stroke-linecap="round"/><line x1="156.5" y1="314.0" x2="155.0" y2="325.5" stroke="#fdd23c" stroke-width="1.30" stroke-linecap="round"/>
<line x1="156.8" y1="313.0" x2="152.0" y2="317.5" stroke="#fdd23c" stroke-width="1.82" stroke-linecap="round"/><line x1="152.0" y1="317.5" x2="150.5" y2="322.0" stroke="#fdd23c" stroke-width="1.04" stroke-linecap="round"/>
<line x1="156.0" y1="318.5" x2="159.5" y2="322.5" stroke="#fdd23c" stroke-width="1.69" stroke-linecap="round"/><line x1="159.5" y1="322.5" x2="160.0" y2="327.0" stroke="#fdd23c" stroke-width="1.04" stroke-linecap="round"/>
<line x1="168.0" y1="283.0" x2="175.5" y2="277.5" stroke="#fdd23c" stroke-width="3.64" stroke-linecap="round"/><line x1="175.5" y1="277.5" x2="182.5" y2="272.0" stroke="#fdd23c" stroke-width="1.30" stroke-linecap="round"/>
<line x1="175.0" y1="278.0" x2="175.0" y2="271.5" stroke="#fdd23c" stroke-width="1.82" stroke-linecap="round"/><line x1="175.0" y1="271.5" x2="173.0" y2="268.0" stroke="#fdd23c" stroke-width="1.04" stroke-linecap="round"/>
<line x1="178.0" y1="275.5" x2="184.0" y2="277.0" stroke="#fdd23c" stroke-width="1.69" stroke-linecap="round"/><line x1="184.0" y1="277.0" x2="188.0" y2="275.5" stroke="#fdd23c" stroke-width="1.04" stroke-linecap="round"/>
<line x1="173.0" y1="292.0" x2="184.0" y2="292.5" stroke="#fdd23c" stroke-width="3.38" stroke-linecap="round"/><line x1="184.0" y1="292.5" x2="195.5" y2="293.3" stroke="#fdd23c" stroke-width="1.17" stroke-linecap="round"/>
<line x1="184.0" y1="292.5" x2="189.0" y2="289.0" stroke="#fdd23c" stroke-width="1.69" stroke-linecap="round"/><line x1="189.0" y1="289.0" x2="193.0" y2="288.5" stroke="#fdd23c" stroke-width="1.04" stroke-linecap="round"/>
<line x1="186.0" y1="292.8" x2="190.0" y2="296.5" stroke="#fdd23c" stroke-width="1.69" stroke-linecap="round"/><line x1="190.0" y1="296.5" x2="194.0" y2="297.0" stroke="#fdd23c" stroke-width="1.04" stroke-linecap="round"/>
<path d="M148.5,291 C148.5,282 154,277.5 161,277.8 C170,278 175.5,284 175.5,291.5 C175.5,298 177,303 183,308.5 C186,311 188,312 190,312.5 L188.5,315.5 C183,314.5 177,311.5 172,306.5 C168,306.8 160,307.5 155,304.5 C150.5,301.8 148.5,297 148.5,291 Z" fill="#fdd23c"/>
<circle cx="163.6" cy="291.4" r="6.6" fill="#1f86d6"/>
<path d="M158.2,289.5 C159,285.5 163,284.5 166,285.6 C162.5,286 160,287.5 158.2,289.5 Z" fill="#5fb4ec"/>
<text x="142.7" y="253.6" font-size="7" font-family="Liberation Serif,serif" font-weight="bold" fill="#17456f" stroke="#17456f" stroke-width="0.25" text-anchor="middle">Motor</text>
<text x="142.7" y="261.2" font-size="7" font-family="Liberation Serif,serif" font-weight="bold" fill="#17456f" stroke="#17456f" stroke-width="0.25" text-anchor="middle">Neuron</text>
<text x="124.0" y="275.5" font-size="3.3" font-family="Liberation Serif,serif" font-weight="bold" fill="#1d5a8a" stroke="#1d5a8a" stroke-width="0.18">Cell Body</text>
<line x1="139.5" y1="275.0" x2="150.0" y2="283.0" stroke="#1d5a8a" stroke-width="0.35"/>
<text x="185.5" y="278.0" font-size="3.3" font-family="Liberation Serif,serif" font-weight="bold" fill="#1d5a8a" stroke="#1d5a8a" stroke-width="0.18">Neuron</text>
<text x="185.5" y="282.2" font-size="3.3" font-family="Liberation Serif,serif" font-weight="bold" fill="#1d5a8a" stroke="#1d5a8a" stroke-width="0.18">Nucleus</text>
<line x1="185.0" y1="278.5" x2="168.0" y2="289.0" stroke="#1d5a8a" stroke-width="0.35"/>
<text x="122.0" y="320.7" font-size="3.3" font-family="Liberation Serif,serif" font-weight="bold" fill="#1d5a8a" stroke="#1d5a8a" stroke-width="0.18">Dendrites</text>
<line x1="131.0" y1="317.0" x2="142.5" y2="305.5" stroke="#1d5a8a" stroke-width="0.35"/>
<line x1="131.5" y1="317.2" x2="146.0" y2="314.0" stroke="#1d5a8a" stroke-width="0.35"/>
<text x="164.5" y="319.8" font-size="3.3" font-family="Liberation Serif,serif" font-weight="bold" fill="#1d5a8a" stroke="#1d5a8a" stroke-width="0.18">Axon</text>
<line x1="170.0" y1="316.5" x2="178.5" y2="309.5" stroke="#1d5a8a" stroke-width="0.35"/>
<text x="183.5" y="306.7" font-size="3.3" font-family="Liberation Serif,serif" font-weight="bold" fill="#1d5a8a" stroke="#1d5a8a" stroke-width="0.18">Schwann Cells</text>
<line x1="196.0" y1="307.5" x2="192.0" y2="311.0" stroke="#1d5a8a" stroke-width="0.35"/>
<text x="174.5" y="324.8" font-size="3.3" font-family="Liberation Serif,serif" font-weight="bold" fill="#1d5a8a" stroke="#1d5a8a" stroke-width="0.18">Myelin</text>
<line x1="181.0" y1="321.5" x2="190.5" y2="315.5" stroke="#1d5a8a" stroke-width="0.35"/>
<path d="M186,313.8 C200,316 215,313 226,308.5 C236,303 243,300.5 249,303.5 C253,306 253,312 252.4,318.5" fill="none" stroke="#fdd23c" stroke-width="1.6"/>
<g transform="translate(191.5,313.8) rotate(4)"><ellipse rx="6.6" ry="3.6" fill="#5cb3d6"/><path d="M-6.0,-0.9 C-3.9599999999999995,-4.1 3.9599999999999995,-4.1 6.0,-0.9 C3.3,-1.62 -3.3,-1.62 -6.0,-0.9 Z" fill="#2f8cc6"/></g>
<g transform="translate(207.6,312.8) rotate(-8)"><ellipse rx="6.6" ry="3.6" fill="#5cb3d6"/><path d="M-6.0,-0.9 C-3.9599999999999995,-4.1 3.9599999999999995,-4.1 6.0,-0.9 C3.3,-1.62 -3.3,-1.62 -6.0,-0.9 Z" fill="#2f8cc6"/></g>
<g transform="translate(223.2,308.6) rotate(-22)"><ellipse rx="6.6" ry="3.6" fill="#5cb3d6"/><path d="M-6.0,-0.9 C-3.9599999999999995,-4.1 3.9599999999999995,-4.1 6.0,-0.9 C3.3,-1.62 -3.3,-1.62 -6.0,-0.9 Z" fill="#2f8cc6"/></g>
<g transform="translate(238.2,302.6) rotate(-10)"><ellipse rx="6.4" ry="3.6" fill="#5cb3d6"/><path d="M-5.800000000000001,-0.9 C-3.84,-4.1 3.84,-4.1 5.800000000000001,-0.9 C3.2,-1.62 -3.2,-1.62 -5.800000000000001,-0.9 Z" fill="#2f8cc6"/></g>
<g transform="translate(251.6,309.5) rotate(72)"><ellipse rx="6.6" ry="3.9" fill="#5cb3d6"/><path d="M-6.0,-0.9 C-3.9599999999999995,-4.4 3.9599999999999995,-4.4 6.0,-0.9 C3.3,-1.755 -3.3,-1.755 -6.0,-0.9 Z" fill="#2f8cc6"/></g>
<g clip-path="url(#insclip)">
<rect x="215.00" y="179.00" width="116.00" height="111.00" fill="#d0eaf6"/>
<path d="M215,229.5 L244,229.5 C247,229.5 248,232 246.5,236 C245,240 241,240 241,243 L306,243 C306,240 301,239.5 300.5,236 C299.5,232 301,229.5 304,229.5 L331,229.5 L331,290 L215,290 Z" fill="url(#musg)"/>
<path d="M215,229.5 L244,229.5 C247,229.5 248,232 246.5,236 L244.5,236 C245.5,233 245,232 243,232 L215,232 Z" fill="#fbc3aa"/>
<path d="M331,229.5 L304,229.5 C301,229.5 299.5,232 300.5,236 L302.6,236 C302,233 302.5,232 304.5,232 L331,232 Z" fill="#fbc3aa"/>
<rect x="240.8" y="240" width="5.2" height="7.8" rx="2.4" fill="#d6edf8" stroke="#fbc3aa" stroke-width="1.1" transform="rotate(-21.0 243.4 242)"/>
<rect x="248.7" y="240" width="5.2" height="8.0" rx="2.4" fill="#d6edf8" stroke="#fbc3aa" stroke-width="1.1" transform="rotate(-9.0 251.3 242)"/>
<rect x="292.1" y="240" width="5.2" height="8.0" rx="2.4" fill="#d6edf8" stroke="#fbc3aa" stroke-width="1.1" transform="rotate(9.0 294.7 242)"/>
<rect x="300.4" y="240" width="5.2" height="7.8" rx="2.4" fill="#d6edf8" stroke="#fbc3aa" stroke-width="1.1" transform="rotate(21.0 303 242)"/>
<rect x="256.1" y="240" width="5.2" height="11.8" rx="2.4" fill="#d6edf8" stroke="#fbc3aa" stroke-width="1.1" transform="rotate(0.0 258.7 242)"/>
<rect x="265.4" y="240" width="5.2" height="12.0" rx="2.4" fill="#d6edf8" stroke="#fbc3aa" stroke-width="1.1" transform="rotate(0.0 268 242)"/>
<rect x="274.8" y="240" width="5.2" height="12.0" rx="2.4" fill="#d6edf8" stroke="#fbc3aa" stroke-width="1.1" transform="rotate(0.0 277.4 242)"/>
<rect x="284.2" y="240" width="5.2" height="11.8" rx="2.4" fill="#d6edf8" stroke="#fbc3aa" stroke-width="1.1" transform="rotate(0.0 286.8 242)"/>
<rect x="248.9" y="240" width="5.2" height="16.4" rx="2.4" fill="#d6edf8" stroke="#fbc3aa" stroke-width="1.1" transform="rotate(-6.0 251.5 242)"/>
<rect x="260.0" y="240" width="5.2" height="18.0" rx="2.4" fill="#d6edf8" stroke="#fbc3aa" stroke-width="1.1" transform="rotate(0.0 262.6 242)"/>
<rect x="269.9" y="240" width="5.2" height="19.2" rx="2.4" fill="#d6edf8" stroke="#fbc3aa" stroke-width="1.1" transform="rotate(0.0 272.5 242)"/>
<rect x="280.4" y="240" width="5.2" height="18.4" rx="2.4" fill="#d6edf8" stroke="#fbc3aa" stroke-width="1.1" transform="rotate(0.0 283 242)"/>
<rect x="291.7" y="240" width="5.2" height="16.4" rx="2.4" fill="#d6edf8" stroke="#fbc3aa" stroke-width="1.1" transform="rotate(6.0 294.3 242)"/>
<path d="M241.5,239.5 C243,237.5 249,237.5 252,239.5 L297,239.5 C300,237.5 304,237.5 305.5,239.5 C308,243 305,246.5 301,246.5 L246,246.5 C241.5,246.5 239,243 241.5,239.5 Z" fill="#d6edf8"/>
<rect x="240.8" y="240" width="5.2" height="7.8" rx="2.4" fill="#d6edf8" transform="rotate(-21.0 243.4 242)"/>
<rect x="248.7" y="240" width="5.2" height="8.0" rx="2.4" fill="#d6edf8" transform="rotate(-9.0 251.3 242)"/>
<rect x="292.1" y="240" width="5.2" height="8.0" rx="2.4" fill="#d6edf8" transform="rotate(9.0 294.7 242)"/>
<rect x="300.4" y="240" width="5.2" height="7.8" rx="2.4" fill="#d6edf8" transform="rotate(21.0 303 242)"/>
<rect x="256.1" y="240" width="5.2" height="11.8" rx="2.4" fill="#d6edf8" transform="rotate(0.0 258.7 242)"/>
<rect x="265.4" y="240" width="5.2" height="12.0" rx="2.4" fill="#d6edf8" transform="rotate(0.0 268 242)"/>
<rect x="274.8" y="240" width="5.2" height="12.0" rx="2.4" fill="#d6edf8" transform="rotate(0.0 277.4 242)"/>
<rect x="284.2" y="240" width="5.2" height="11.8" rx="2.4" fill="#d6edf8" transform="rotate(0.0 286.8 242)"/>
<rect x="248.9" y="240" width="5.2" height="16.4" rx="2.4" fill="#d6edf8" transform="rotate(-6.0 251.5 242)"/>
<rect x="260.0" y="240" width="5.2" height="18.0" rx="2.4" fill="#d6edf8" transform="rotate(0.0 262.6 242)"/>
<rect x="269.9" y="240" width="5.2" height="19.2" rx="2.4" fill="#d6edf8" transform="rotate(0.0 272.5 242)"/>
<rect x="280.4" y="240" width="5.2" height="18.4" rx="2.4" fill="#d6edf8" transform="rotate(0.0 283 242)"/>
<rect x="291.7" y="240" width="5.2" height="16.4" rx="2.4" fill="#d6edf8" transform="rotate(6.0 294.3 242)"/>
<path d="M251,178 C259,190 263.5,197 261.5,206 C251,211 246.5,223 250.5,233 C254,240 262,243 266,243 L283,243 C290,243 298,237 299.3,228 C300.5,218 293,209.5 282.5,206 C278.5,200 277.5,190 276.8,178 Z" fill="#fdbc1c" stroke="#f39a10" stroke-width="1"/>
<path d="M256,178 C263,190 267,198 264.5,207 C255,212 251,223 254,231 C252.5,222 257,214 266,210 C271,205 268.5,190 262,178 Z" fill="#fdd04a" opacity="0.8"/>
<path d="M268.3,185.2 L271.4,184.6 L273.4,192.8 L275.8,192.2 L273.2,198.2 L267.8,194.2 L270.2,193.6 Z" fill="#fff"/>
<circle cx="263.6" cy="181.2" r="4.3" fill="#fdf0d2" stroke="#f5a314" stroke-width="0.9"/><circle cx="262.3" cy="180.0" r="0.42" fill="#c0307a"/><circle cx="264.8" cy="179.8" r="0.42" fill="#c0307a"/><circle cx="263.6" cy="181.3" r="0.42" fill="#c0307a"/><circle cx="262.2" cy="182.5" r="0.42" fill="#c0307a"/><circle cx="264.9" cy="182.4" r="0.42" fill="#c0307a"/><circle cx="263.6" cy="179.0" r="0.42" fill="#c0307a"/><circle cx="263.8" cy="183.4" r="0.42" fill="#c0307a"/>
<circle cx="274" cy="204.6" r="4.3" fill="#fdf0d2" stroke="#f5a314" stroke-width="0.9"/><circle cx="272.7" cy="203.4" r="0.42" fill="#c0307a"/><circle cx="275.2" cy="203.2" r="0.42" fill="#c0307a"/><circle cx="274.0" cy="204.7" r="0.42" fill="#c0307a"/><circle cx="272.6" cy="205.9" r="0.42" fill="#c0307a"/><circle cx="275.3" cy="205.8" r="0.42" fill="#c0307a"/><circle cx="274.0" cy="202.4" r="0.42" fill="#c0307a"/><circle cx="274.2" cy="206.8" r="0.42" fill="#c0307a"/>
<circle cx="261.2" cy="220.2" r="4.3" fill="#fdf0d2" stroke="#f5a314" stroke-width="0.9"/><circle cx="259.9" cy="219.0" r="0.42" fill="#c0307a"/><circle cx="262.4" cy="218.8" r="0.42" fill="#c0307a"/><circle cx="261.2" cy="220.3" r="0.42" fill="#c0307a"/><circle cx="259.8" cy="221.5" r="0.42" fill="#c0307a"/><circle cx="262.5" cy="221.4" r="0.42" fill="#c0307a"/><circle cx="261.2" cy="218.0" r="0.42" fill="#c0307a"/><circle cx="261.4" cy="222.4" r="0.42" fill="#c0307a"/>
<circle cx="284.8" cy="219.4" r="4.3" fill="#fdf0d2" stroke="#f5a314" stroke-width="0.9"/><circle cx="283.5" cy="218.2" r="0.42" fill="#c0307a"/><circle cx="286.0" cy="218.0" r="0.42" fill="#c0307a"/><circle cx="284.8" cy="219.5" r="0.42" fill="#c0307a"/><circle cx="283.4" cy="220.7" r="0.42" fill="#c0307a"/><circle cx="286.1" cy="220.6" r="0.42" fill="#c0307a"/><circle cx="284.8" cy="217.2" r="0.42" fill="#c0307a"/><circle cx="285.0" cy="221.6" r="0.42" fill="#c0307a"/>
<circle cx="275" cy="229.4" r="4.3" fill="#fdf0d2" stroke="#f5a314" stroke-width="0.9"/><circle cx="273.7" cy="228.2" r="0.42" fill="#c0307a"/><circle cx="276.2" cy="228.0" r="0.42" fill="#c0307a"/><circle cx="275.0" cy="229.5" r="0.42" fill="#c0307a"/><circle cx="273.6" cy="230.7" r="0.42" fill="#c0307a"/><circle cx="276.3" cy="230.6" r="0.42" fill="#c0307a"/><circle cx="275.0" cy="227.2" r="0.42" fill="#c0307a"/><circle cx="275.2" cy="231.6" r="0.42" fill="#c0307a"/>
<circle cx="262.8" cy="238" r="4.3" fill="#fdf0d2" stroke="#f5a314" stroke-width="0.9"/><circle cx="261.5" cy="236.8" r="0.42" fill="#c0307a"/><circle cx="264.0" cy="236.6" r="0.42" fill="#c0307a"/><circle cx="262.8" cy="238.1" r="0.42" fill="#c0307a"/><circle cx="261.4" cy="239.3" r="0.42" fill="#c0307a"/><circle cx="264.1" cy="239.2" r="0.42" fill="#c0307a"/><circle cx="262.8" cy="235.8" r="0.42" fill="#c0307a"/><circle cx="263.0" cy="240.2" r="0.42" fill="#c0307a"/>
<g transform="translate(271.5,215.4) rotate(32)"><path d="M-7.4,0 C-7.4,-5.07 -1.4800000000000002,-4.29 0,-2.73 C2.22,-4.68 7.4,-4.68 7.4,0 C7.4,5.07 1.4800000000000002,3.9 0,3.9 C-2.9600000000000004,4.68 -7.4,4.68 -7.4,0 Z" fill="#c8402f"/><path d="M-4.44,0 q1.11,-2.73 2.22,0 t2.22,0 t2.22,0 t2.22,0" fill="none" stroke="#e8715a" stroke-width="0.7"/></g>
<g transform="translate(287.6,231.0) rotate(-32)"><path d="M-7.6,0 C-7.6,-5.460000000000001 -1.52,-4.620000000000001 0,-2.94 C2.28,-5.04 7.6,-5.04 7.6,0 C7.6,5.460000000000001 1.52,4.2 0,4.2 C-3.04,5.04 -7.6,5.04 -7.6,0 Z" fill="#c8402f"/><path d="M-4.56,0 q1.14,-2.94 2.28,0 t2.28,0 t2.28,0 t2.28,0" fill="none" stroke="#e8715a" stroke-width="0.7"/></g>
<g transform="translate(225.8,246.8) rotate(-18)"><path d="M-7.2,0 C-7.2,-4.9399999999999995 -1.4400000000000002,-4.18 0,-2.6599999999999997 C2.16,-4.56 7.2,-4.56 7.2,0 C7.2,4.9399999999999995 1.4400000000000002,3.8 0,3.8 C-2.8800000000000003,4.56 -7.2,4.56 -7.2,0 Z" fill="#d04a36"/><path d="M-4.32,0 q1.08,-2.6599999999999997 2.16,0 t2.16,0 t2.16,0 t2.16,0" fill="none" stroke="#f08a70" stroke-width="0.7"/></g>
<g transform="translate(325.5,263.5) rotate(60)"><path d="M-6.5,0 C-6.5,-4.9399999999999995 -1.3,-4.18 0,-2.6599999999999997 C1.95,-4.56 6.5,-4.56 6.5,0 C6.5,4.9399999999999995 1.3,3.8 0,3.8 C-2.6,4.56 -6.5,4.56 -6.5,0 Z" fill="#d04a36"/><path d="M-3.9,0 q0.975,-2.6599999999999997 1.95,0 t1.95,0 t1.95,0 t1.95,0" fill="none" stroke="#f08a70" stroke-width="0.7"/></g>
<g transform="translate(243.4,245.2) rotate(-35)"><path d="M-1.7,-1.9 L-1.7,1.7 L1.7,1.7 L1.7,-1.9 L0.6,-1.9 L0.6,-0.5 L-0.6,-0.5 L-0.6,-1.9 Z" fill="#2b7fd3"/><circle cx="-1.2" cy="-2.3" r="0.5" fill="#b03aa0"/><circle cx="1.2" cy="-2.3" r="0.5" fill="#b03aa0"/></g>
<g transform="translate(251.3,245.4) rotate(-15)"><path d="M-1.7,-1.9 L-1.7,1.7 L1.7,1.7 L1.7,-1.9 L0.6,-1.9 L0.6,-0.5 L-0.6,-0.5 L-0.6,-1.9 Z" fill="#2b7fd3"/><circle cx="-1.2" cy="-2.3" r="0.5" fill="#b03aa0"/><circle cx="1.2" cy="-2.3" r="0.5" fill="#b03aa0"/></g>
<g transform="translate(294.7,245.4) rotate(15)"><path d="M-1.7,-1.9 L-1.7,1.7 L1.7,1.7 L1.7,-1.9 L0.6,-1.9 L0.6,-0.5 L-0.6,-0.5 L-0.6,-1.9 Z" fill="#2b7fd3"/><circle cx="-1.2" cy="-2.3" r="0.5" fill="#b03aa0"/><circle cx="1.2" cy="-2.3" r="0.5" fill="#b03aa0"/></g>
<g transform="translate(303.0,245.2) rotate(35)"><path d="M-1.7,-1.9 L-1.7,1.7 L1.7,1.7 L1.7,-1.9 L0.6,-1.9 L0.6,-0.5 L-0.6,-0.5 L-0.6,-1.9 Z" fill="#2b7fd3"/><circle cx="-1.2" cy="-2.3" r="0.5" fill="#b03aa0"/><circle cx="1.2" cy="-2.3" r="0.5" fill="#b03aa0"/></g>
<g transform="translate(258.7,249.2) rotate(0)"><path d="M-1.7,-1.9 L-1.7,1.7 L1.7,1.7 L1.7,-1.9 L0.6,-1.9 L0.6,-0.5 L-0.6,-0.5 L-0.6,-1.9 Z" fill="#2b7fd3"/><circle cx="-1.2" cy="-2.3" r="0.5" fill="#b03aa0"/><circle cx="1.2" cy="-2.3" r="0.5" fill="#b03aa0"/></g>
<g transform="translate(268.0,249.4) rotate(0)"><path d="M-1.7,-1.9 L-1.7,1.7 L1.7,1.7 L1.7,-1.9 L0.6,-1.9 L0.6,-0.5 L-0.6,-0.5 L-0.6,-1.9 Z" fill="#2b7fd3"/><circle cx="-1.2" cy="-2.3" r="0.5" fill="#b03aa0"/><circle cx="1.2" cy="-2.3" r="0.5" fill="#b03aa0"/></g>
<g transform="translate(277.4,249.4) rotate(0)"><path d="M-1.7,-1.9 L-1.7,1.7 L1.7,1.7 L1.7,-1.9 L0.6,-1.9 L0.6,-0.5 L-0.6,-0.5 L-0.6,-1.9 Z" fill="#2b7fd3"/><circle cx="-1.2" cy="-2.3" r="0.5" fill="#b03aa0"/><circle cx="1.2" cy="-2.3" r="0.5" fill="#b03aa0"/></g>
<g transform="translate(286.8,249.2) rotate(0)"><path d="M-1.7,-1.9 L-1.7,1.7 L1.7,1.7 L1.7,-1.9 L0.6,-1.9 L0.6,-0.5 L-0.6,-0.5 L-0.6,-1.9 Z" fill="#2b7fd3"/><circle cx="-1.2" cy="-2.3" r="0.5" fill="#b03aa0"/><circle cx="1.2" cy="-2.3" r="0.5" fill="#b03aa0"/></g>
<g transform="translate(251.5,253.8) rotate(-10)"><path d="M-1.7,-1.9 L-1.7,1.7 L1.7,1.7 L1.7,-1.9 L0.6,-1.9 L0.6,-0.5 L-0.6,-0.5 L-0.6,-1.9 Z" fill="#2b7fd3"/><circle cx="-1.2" cy="-2.3" r="0.5" fill="#b03aa0"/><circle cx="1.2" cy="-2.3" r="0.5" fill="#b03aa0"/></g>
<g transform="translate(262.6,255.4) rotate(0)"><path d="M-1.7,-1.9 L-1.7,1.7 L1.7,1.7 L1.7,-1.9 L0.6,-1.9 L0.6,-0.5 L-0.6,-0.5 L-0.6,-1.9 Z" fill="#2b7fd3"/><circle cx="-1.2" cy="-2.3" r="0.5" fill="#b03aa0"/><circle cx="1.2" cy="-2.3" r="0.5" fill="#b03aa0"/></g>
<g transform="translate(272.5,256.6) rotate(0)"><path d="M-1.7,-1.9 L-1.7,1.7 L1.7,1.7 L1.7,-1.9 L0.6,-1.9 L0.6,-0.5 L-0.6,-0.5 L-0.6,-1.9 Z" fill="#2b7fd3"/><circle cx="-1.2" cy="-2.3" r="0.5" fill="#b03aa0"/><circle cx="1.2" cy="-2.3" r="0.5" fill="#b03aa0"/></g>
<g transform="translate(283.0,255.8) rotate(0)"><path d="M-1.7,-1.9 L-1.7,1.7 L1.7,1.7 L1.7,-1.9 L0.6,-1.9 L0.6,-0.5 L-0.6,-0.5 L-0.6,-1.9 Z" fill="#2b7fd3"/><circle cx="-1.2" cy="-2.3" r="0.5" fill="#b03aa0"/><circle cx="1.2" cy="-2.3" r="0.5" fill="#b03aa0"/></g>
<g transform="translate(294.3,253.8) rotate(10)"><path d="M-1.7,-1.9 L-1.7,1.7 L1.7,1.7 L1.7,-1.9 L0.6,-1.9 L0.6,-0.5 L-0.6,-0.5 L-0.6,-1.9 Z" fill="#2b7fd3"/><circle cx="-1.2" cy="-2.3" r="0.5" fill="#b03aa0"/><circle cx="1.2" cy="-2.3" r="0.5" fill="#b03aa0"/></g>
<circle cx="259.4" cy="247.1" r="0.4" fill="#a040a0"/>
<circle cx="266.2" cy="247.9" r="0.4" fill="#a040a0"/>
<circle cx="279.5" cy="240.9" r="0.4" fill="#a040a0"/>
<circle cx="247.7" cy="250.9" r="0.4" fill="#a040a0"/>
<circle cx="260.5" cy="243.0" r="0.4" fill="#a040a0"/>
<circle cx="298.8" cy="246.1" r="0.4" fill="#a040a0"/>
<circle cx="290.5" cy="246.2" r="0.4" fill="#a040a0"/>
<circle cx="280.2" cy="242.0" r="0.4" fill="#a040a0"/>
<circle cx="280.0" cy="251.3" r="0.4" fill="#a040a0"/>
<circle cx="274.2" cy="249.6" r="0.4" fill="#a040a0"/>
<circle cx="281.9" cy="240.8" r="0.4" fill="#a040a0"/>
<circle cx="286.4" cy="247.7" r="0.4" fill="#a040a0"/>
<circle cx="262.7" cy="240.4" r="0.4" fill="#a040a0"/>
<circle cx="292.0" cy="246.1" r="0.4" fill="#a040a0"/>
<circle cx="284.4" cy="251.4" r="0.4" fill="#a040a0"/>
<circle cx="284.1" cy="252.0" r="0.4" fill="#a040a0"/>
<circle cx="267.5" cy="250.4" r="0.4" fill="#a040a0"/>
<circle cx="270.1" cy="252.2" r="0.4" fill="#a040a0"/>
<circle cx="292.7" cy="241.3" r="0.4" fill="#a040a0"/>
<circle cx="254.1" cy="242.8" r="0.4" fill="#a040a0"/>
<circle cx="297.2" cy="245.7" r="0.4" fill="#a040a0"/>
<circle cx="279.6" cy="243.9" r="0.4" fill="#a040a0"/>
<circle cx="273.4" cy="245.0" r="0.4" fill="#a040a0"/>
<circle cx="265.2" cy="247.6" r="0.4" fill="#a040a0"/>
<circle cx="277.4" cy="251.8" r="0.4" fill="#a040a0"/>
<circle cx="282.5" cy="252.1" r="0.4" fill="#a040a0"/>
<rect x="221.00" y="271.50" width="110.00" height="18.50" fill="#f8c9bb"/>
<line x1="221.0" y1="274.0" x2="331.0" y2="274.0" stroke="#e2604c" stroke-width="1.0"/>
<line x1="221.0" y1="275.3" x2="331.0" y2="275.3" stroke="#fbe0d8" stroke-width="0.6"/>
<line x1="221.0" y1="277.5" x2="331.0" y2="277.5" stroke="#e2604c" stroke-width="1.0"/>
<line x1="221.0" y1="278.8" x2="331.0" y2="278.8" stroke="#fbe0d8" stroke-width="0.6"/>
<line x1="221.0" y1="281.0" x2="331.0" y2="281.0" stroke="#e2604c" stroke-width="1.0"/>
<line x1="221.0" y1="282.3" x2="331.0" y2="282.3" stroke="#fbe0d8" stroke-width="0.6"/>
<line x1="221.0" y1="284.5" x2="331.0" y2="284.5" stroke="#e2604c" stroke-width="1.0"/>
<line x1="221.0" y1="285.8" x2="331.0" y2="285.8" stroke="#fbe0d8" stroke-width="0.6"/>
<line x1="221.0" y1="287.5" x2="331.0" y2="287.5" stroke="#e2604c" stroke-width="1.0"/>
<line x1="221.0" y1="288.8" x2="331.0" y2="288.8" stroke="#fbe0d8" stroke-width="0.6"/>
<rect x="316.00" y="271.50" width="6.00" height="18.50" fill="#f8c9bb" opacity="0.3"/>
<path d="M227,270.5 L304.5,270.5 L304.5,290 L236,290 C233,284 231,277 227,270.5 Z" fill="#35aeb0"/>
<ellipse cx="240" cy="276.5" rx="4.2" ry="2.6" fill="#f6b3a2"/>
<line x1="236.4" y1="276.5" x2="243.6" y2="276.5" stroke="#e2604c" stroke-width="0.8"/>
<ellipse cx="252" cy="275.8" rx="4.8" ry="2.8" fill="#f6b3a2"/>
<line x1="247.79999999999998" y1="275.8" x2="256.2" y2="275.8" stroke="#e2604c" stroke-width="0.8"/>
<ellipse cx="264.5" cy="276.5" rx="4.6" ry="2.8" fill="#f6b3a2"/>
<line x1="260.5" y1="276.5" x2="268.5" y2="276.5" stroke="#e2604c" stroke-width="0.8"/>
<ellipse cx="277" cy="275.8" rx="4.8" ry="2.8" fill="#f6b3a2"/>
<line x1="272.8" y1="275.8" x2="281.2" y2="275.8" stroke="#e2604c" stroke-width="0.8"/>
<ellipse cx="289.5" cy="276.5" rx="4.6" ry="2.8" fill="#f6b3a2"/>
<line x1="285.5" y1="276.5" x2="293.5" y2="276.5" stroke="#e2604c" stroke-width="0.8"/>
<ellipse cx="299.5" cy="277" rx="3.2" ry="2.6" fill="#f6b3a2"/>
<line x1="296.90000000000003" y1="277" x2="302.09999999999997" y2="277" stroke="#e2604c" stroke-width="0.8"/>
<ellipse cx="246" cy="284.5" rx="4.6" ry="2.8" fill="#f6b3a2"/>
<line x1="242.0" y1="284.5" x2="250.0" y2="284.5" stroke="#e2604c" stroke-width="0.8"/>
<ellipse cx="258.5" cy="284.8" rx="4.8" ry="2.9" fill="#f6b3a2"/>
<line x1="254.29999999999998" y1="284.8" x2="262.7" y2="284.8" stroke="#e2604c" stroke-width="0.8"/>
<ellipse cx="271" cy="284.5" rx="4.6" ry="2.9" fill="#f6b3a2"/>
<line x1="267.0" y1="284.5" x2="275.0" y2="284.5" stroke="#e2604c" stroke-width="0.8"/>
<ellipse cx="283.5" cy="284.8" rx="4.8" ry="2.9" fill="#f6b3a2"/>
<line x1="279.3" y1="284.8" x2="287.7" y2="284.8" stroke="#e2604c" stroke-width="0.8"/>
<ellipse cx="295.5" cy="285" rx="4.2" ry="2.8" fill="#f6b3a2"/>
<line x1="291.90000000000003" y1="285" x2="299.09999999999997" y2="285" stroke="#e2604c" stroke-width="0.8"/>
<circle cx="291.9" cy="287.9" r="0.45" fill="#d03a8a"/>
<circle cx="279.0" cy="274.6" r="0.45" fill="#d03a8a"/>
<circle cx="292.2" cy="287.4" r="0.45" fill="#d03a8a"/>
<circle cx="295.3" cy="281.1" r="0.45" fill="#d03a8a"/>
<circle cx="282.0" cy="275.4" r="0.45" fill="#d03a8a"/>
<circle cx="290.2" cy="281.2" r="0.45" fill="#d03a8a"/>
<circle cx="251.9" cy="273.0" r="0.45" fill="#d03a8a"/>
<circle cx="291.8" cy="287.8" r="0.45" fill="#d03a8a"/>
<circle cx="238.2" cy="284.8" r="0.45" fill="#d03a8a"/>
<circle cx="260.7" cy="274.4" r="0.45" fill="#d03a8a"/>
<circle cx="252.6" cy="284.3" r="0.45" fill="#d03a8a"/>
<circle cx="293.1" cy="272.7" r="0.45" fill="#d03a8a"/>
<circle cx="275.0" cy="272.7" r="0.45" fill="#d03a8a"/>
<circle cx="282.3" cy="277.3" r="0.45" fill="#d03a8a"/>
<path d="M312,229.5 L317.6,229.5 L317.8,262 C317.8,268 313.5,270 311.6,273.5 L311.6,290 L301.2,290 L301.2,277 C301.2,270 312.4,268.5 312.4,261 Z" fill="#fbe59c" stroke="#f4c640" stroke-width="0.7"/>
<path d="M215,271 C222,271 225,280 223,290 L215,290 Z" fill="#ee7d60"/>
<text x="237" y="266.8" font-size="4.8" font-family="Liberation Serif,serif" fill="#f9c5b4" textLength="33.5" transform="rotate(-2 254 265)">SACROPLASM</text>
<text x="288.0" y="197.2" font-size="3.3" font-family="Liberation Serif,serif" font-weight="bold" fill="#1d5a8a" stroke="#1d5a8a" stroke-width="0.18">Synaptic Vesicles</text>
<line x1="276.0" y1="203.0" x2="287.5" y2="196.5" stroke="#1d5a8a" stroke-width="0.35"/>
<text x="295.0" y="207.7" font-size="3.3" font-family="Liberation Serif,serif" font-weight="bold" fill="#1d5a8a" stroke="#1d5a8a" stroke-width="0.18">ACh</text>
<line x1="286.5" y1="217.5" x2="294.5" y2="207.5" stroke="#1d5a8a" stroke-width="0.35"/>
<text x="247.0" y="208.7" font-size="3.3" font-family="Liberation Serif,serif" font-weight="bold" fill="#1d5a8a" stroke="#1d5a8a" stroke-width="0.18" text-anchor="end">Axon Terminal</text>
<line x1="247.5" y1="207.5" x2="253.0" y2="213.5" stroke="#1d5a8a" stroke-width="0.35"/>
<text x="247.0" y="216.4" font-size="3.3" font-family="Liberation Serif,serif" font-weight="bold" fill="#1d5a8a" stroke="#1d5a8a" stroke-width="0.18" text-anchor="end">Presynaptic</text>
<text x="246.0" y="220.7" font-size="3.3" font-family="Liberation Serif,serif" font-weight="bold" fill="#1d5a8a" stroke="#1d5a8a" stroke-width="0.18" text-anchor="end">Membrane</text>
<line x1="247.5" y1="217.0" x2="250.5" y2="222.0" stroke="#1d5a8a" stroke-width="0.35"/>
<text x="310.0" y="223.7" font-size="3.3" font-family="Liberation Serif,serif" font-weight="bold" fill="#1d5a8a" stroke="#1d5a8a" stroke-width="0.18">T Tubule</text>
<line x1="316.5" y1="225.0" x2="314.8" y2="229.5" stroke="#1d5a8a" stroke-width="0.35"/>
<text x="229.5" y="258.7" font-size="3.3" font-family="Liberation Serif,serif" font-weight="bold" fill="#fff" stroke="#fff" stroke-width="0.18" text-anchor="middle">Acetylcholine</text>
<text x="229.5" y="262.8" font-size="3.3" font-family="Liberation Serif,serif" font-weight="bold" fill="#fff" stroke="#fff" stroke-width="0.18" text-anchor="middle">Receptors</text>
<line x1="241.0" y1="256.5" x2="252.0" y2="252.5" stroke="#fff" stroke-width="0.35"/>
<text x="287.5" y="263.0" font-size="3.3" font-family="Liberation Serif,serif" font-weight="bold" fill="#fff" stroke="#fff" stroke-width="0.18" text-anchor="middle">Junctional Folds</text>
<text x="287.5" y="267.1" font-size="3.3" font-family="Liberation Serif,serif" font-weight="bold" fill="#fff" stroke="#fff" stroke-width="0.18" text-anchor="middle">of Sarcolemma</text>
<line x1="291.0" y1="254.0" x2="288.0" y2="259.5" stroke="#fff" stroke-width="0.35"/>
</g>
<text x="213.5" y="231.5" font-size="3.3" font-family="Liberation Serif,serif" font-weight="bold" fill="#1d5a8a" stroke="#1d5a8a" stroke-width="0.18" text-anchor="end">Sarcolemma</text>
<line x1="214.5" y1="230.2" x2="221.0" y2="229.3" stroke="#1d5a8a" stroke-width="0.35"/>
<text x="213.5" y="238.5" font-size="3.3" font-family="Liberation Serif,serif" font-weight="bold" fill="#1d5a8a" stroke="#1d5a8a" stroke-width="0.18" text-anchor="end">Postsynaptic</text>
<text x="211.5" y="242.5" font-size="3.3" font-family="Liberation Serif,serif" font-weight="bold" fill="#1d5a8a" stroke="#1d5a8a" stroke-width="0.18" text-anchor="end">Membrane</text>
<line x1="214.5" y1="238.8" x2="245.5" y2="234.8" stroke="#1d5a8a" stroke-width="0.35"/>
<text x="213.5" y="251.7" font-size="3.3" font-family="Liberation Serif,serif" font-weight="bold" fill="#1d5a8a" stroke="#1d5a8a" stroke-width="0.18" text-anchor="end">Mitochondrion</text>
<line x1="214.5" y1="250.3" x2="219.0" y2="249.0" stroke="#1d5a8a" stroke-width="0.35"/>
<text x="222.6" y="295.5" font-size="3.3" font-family="Liberation Serif,serif" font-weight="bold" fill="#1d5a8a" stroke="#1d5a8a" stroke-width="0.18" text-anchor="middle">Myofibril</text>
<line x1="223.5" y1="292.0" x2="225.5" y2="286.0" stroke="#1d5a8a" stroke-width="0.35"/>
<text x="251.6" y="295.5" font-size="3.3" font-family="Liberation Serif,serif" font-weight="bold" fill="#1d5a8a" stroke="#1d5a8a" stroke-width="0.18" text-anchor="middle">Calcium Ions</text>
<line x1="251.0" y1="292.0" x2="248.0" y2="279.5" stroke="#1d5a8a" stroke-width="0.35"/>
<line x1="252.0" y1="292.0" x2="258.0" y2="281.0" stroke="#1d5a8a" stroke-width="0.35"/>
<text x="303.5" y="293.5" font-size="3.3" font-family="Liberation Serif,serif" font-weight="bold" fill="#1d5a8a" stroke="#1d5a8a" stroke-width="0.18" text-anchor="middle">Sarcoplasmic</text>
<text x="303.5" y="297.5" font-size="3.3" font-family="Liberation Serif,serif" font-weight="bold" fill="#1d5a8a" stroke="#1d5a8a" stroke-width="0.18" text-anchor="middle">Reticulum</text>
<line x1="302.5" y1="290.3" x2="299.5" y2="283.0" stroke="#1d5a8a" stroke-width="0.35"/>
<path d="M463.8,208.2 L320.6,208.2 L301.4,224.8" fill="none" stroke="#111" stroke-width="1.05"/>
<polygon points="297.6,228.2 305.6,225.9 300.6,220.2" fill="#111"/>
</g>
<g id="heatmap">
<rect x="504.50" y="1.50" width="18.80" height="9.10" fill="#00c07c"/>
<rect x="527.90" y="1.50" width="18.85" height="9.10" fill="#4b0a5e"/>
<rect x="546.45" y="1.50" width="18.85" height="9.10" fill="#45307a"/>
<rect x="565.00" y="1.50" width="18.85" height="9.10" fill="#1d4e89"/>
<rect x="583.55" y="1.50" width="18.85" height="9.10" fill="#006f99"/>
<rect x="602.10" y="1.50" width="18.85" height="9.10" fill="#008b99"/>
<rect x="620.65" y="1.50" width="18.85" height="9.10" fill="#00a88c"/>
<rect x="639.20" y="1.50" width="18.85" height="9.10" fill="#00c07c"/>
<rect x="657.75" y="1.50" width="18.85" height="9.10" fill="#00c07c"/>
<rect x="676.30" y="1.50" width="18.85" height="9.10" fill="#00c07c"/>
<rect x="694.85" y="1.50" width="18.85" height="9.10" fill="#00c07c"/>
<rect x="713.40" y="1.50" width="18.85" height="9.10" fill="#00c07c"/>
<rect x="731.95" y="1.50" width="18.85" height="9.10" fill="#6dcd59"/>
<rect x="752.90" y="1.00" width="18.00" height="10.60" fill="#ff3030"/>
<rect x="504.50" y="13.90" width="18.80" height="7.98" fill="#a50026"/>
<rect x="527.90" y="13.90" width="18.85" height="7.98" fill="#ffffbf"/>
<rect x="546.45" y="13.90" width="18.85" height="7.98" fill="#fdc778"/>
<rect x="565.00" y="13.90" width="18.85" height="7.98" fill="#bebebe"/>
<rect x="583.55" y="13.90" width="18.85" height="7.98" fill="#bebebe"/>
<rect x="602.10" y="13.90" width="18.85" height="7.98" fill="#a50026"/>
<rect x="620.65" y="13.90" width="18.85" height="7.98" fill="#fdae61"/>
<rect x="639.20" y="13.90" width="18.85" height="7.98" fill="#eef7da"/>
<rect x="657.75" y="13.90" width="18.85" height="7.98" fill="#f98e52"/>
<rect x="676.30" y="13.90" width="18.85" height="7.98" fill="#e64f35"/>
<rect x="694.85" y="13.90" width="18.85" height="7.98" fill="#a50026"/>
<rect x="713.40" y="13.90" width="18.85" height="7.98" fill="#a50026"/>
<rect x="731.95" y="13.90" width="18.85" height="7.98" fill="#fee090"/>
<rect x="753.80" y="13.90" width="17.00" height="7.98" fill="#f68a4e"/>
<text x="775.0" y="17.97" font-size="6.2" fill="#222">SYT11</text>
<rect x="504.50" y="21.38" width="18.80" height="7.98" fill="#e0f3f8"/>
<rect x="527.90" y="21.38" width="18.85" height="7.98" fill="#d73027"/>
<rect x="546.45" y="21.38" width="18.85" height="7.98" fill="#fdae61"/>
<rect x="565.00" y="21.38" width="18.85" height="7.98" fill="#bebebe"/>
<rect x="583.55" y="21.38" width="18.85" height="7.98" fill="#bebebe"/>
<rect x="602.10" y="21.38" width="18.85" height="7.98" fill="#a50026"/>
<rect x="620.65" y="21.38" width="18.85" height="7.98" fill="#fee090"/>
<rect x="639.20" y="21.38" width="18.85" height="7.98" fill="#ffffbf"/>
<rect x="657.75" y="21.38" width="18.85" height="7.98" fill="#ffffbf"/>
<rect x="676.30" y="21.38" width="18.85" height="7.98" fill="#d73027"/>
<rect x="694.85" y="21.38" width="18.85" height="7.98" fill="#ffffbf"/>
<rect x="713.40" y="21.38" width="18.85" height="7.98" fill="#f46d43"/>
<rect x="731.95" y="21.38" width="18.85" height="7.98" fill="#d73027"/>
<rect x="753.80" y="21.38" width="17.00" height="7.98" fill="#f79152"/>
<text x="775.0" y="25.51" font-size="6.2" fill="#222">TIMP2</text>
<rect x="504.50" y="28.85" width="18.80" height="7.98" fill="#90c3dd"/>
<rect x="527.90" y="28.85" width="18.85" height="7.98" fill="#d73027"/>
<rect x="546.45" y="28.85" width="18.85" height="7.98" fill="#f46d43"/>
<rect x="565.00" y="28.85" width="18.85" height="7.98" fill="#e0f3f8"/>
<rect x="583.55" y="28.85" width="18.85" height="7.98" fill="#e0f3f8"/>
<rect x="602.10" y="28.85" width="18.85" height="7.98" fill="#a50026"/>
<rect x="620.65" y="28.85" width="18.85" height="7.98" fill="#fdae61"/>
<rect x="639.20" y="28.85" width="18.85" height="7.98" fill="#fee090"/>
<rect x="657.75" y="28.85" width="18.85" height="7.98" fill="#fdae61"/>
<rect x="676.30" y="28.85" width="18.85" height="7.98" fill="#d73027"/>
<rect x="694.85" y="28.85" width="18.85" height="7.98" fill="#a50026"/>
<rect x="713.40" y="28.85" width="18.85" height="7.98" fill="#ffffbf"/>
<rect x="731.95" y="28.85" width="18.85" height="7.98" fill="#f46d43"/>
<rect x="753.80" y="28.85" width="17.00" height="7.98" fill="#f89857"/>
<text x="775.0" y="33.04" font-size="6.2" fill="#222">THBS4</text>
<rect x="504.50" y="36.33" width="18.80" height="7.98" fill="#90c3dd"/>
<rect x="527.90" y="36.33" width="18.85" height="7.98" fill="#f46d43"/>
<rect x="546.45" y="36.33" width="18.85" height="7.98" fill="#e64f35"/>
<rect x="565.00" y="36.33" width="18.85" height="7.98" fill="#bebebe"/>
<rect x="583.55" y="36.33" width="18.85" height="7.98" fill="#bebebe"/>
<rect x="602.10" y="36.33" width="18.85" height="7.98" fill="#a50026"/>
<rect x="620.65" y="36.33" width="18.85" height="7.98" fill="#fdae61"/>
<rect x="639.20" y="36.33" width="18.85" height="7.98" fill="#ffffbf"/>
<rect x="657.75" y="36.33" width="18.85" height="7.98" fill="#eef7da"/>
<rect x="676.30" y="36.33" width="18.85" height="7.98" fill="#d73027"/>
<rect x="694.85" y="36.33" width="18.85" height="7.98" fill="#fee090"/>
<rect x="713.40" y="36.33" width="18.85" height="7.98" fill="#a50026"/>
<rect x="731.95" y="36.33" width="18.85" height="7.98" fill="#fee090"/>
<rect x="753.80" y="36.33" width="17.00" height="7.98" fill="#fa9f5b"/>
<text x="775.0" y="40.58" font-size="6.2" fill="#222">TUBA1A</text>
<rect x="504.50" y="43.81" width="18.80" height="7.98" fill="#ffffbf"/>
<rect x="527.90" y="43.81" width="18.85" height="7.98" fill="#fdc778"/>
<rect x="546.45" y="43.81" width="18.85" height="7.98" fill="#f46d43"/>
<rect x="565.00" y="43.81" width="18.85" height="7.98" fill="#eef7da"/>
<rect x="583.55" y="43.81" width="18.85" height="7.98" fill="#abd9e9"/>
<rect x="602.10" y="43.81" width="18.85" height="7.98" fill="#a50026"/>
<rect x="620.65" y="43.81" width="18.85" height="7.98" fill="#f46d43"/>
<rect x="639.20" y="43.81" width="18.85" height="7.98" fill="#f46d43"/>
<rect x="657.75" y="43.81" width="18.85" height="7.98" fill="#fdae61"/>
<rect x="676.30" y="43.81" width="18.85" height="7.98" fill="#d73027"/>
<rect x="694.85" y="43.81" width="18.85" height="7.98" fill="#fee090"/>
<rect x="713.40" y="43.81" width="18.85" height="7.98" fill="#a50026"/>
<rect x="731.95" y="43.81" width="18.85" height="7.98" fill="#f46d43"/>
<rect x="753.80" y="43.81" width="17.00" height="7.98" fill="#fba65f"/>
<text x="775.0" y="48.11" font-size="6.2" fill="#222">TNC</text>
<rect x="504.50" y="51.29" width="18.80" height="7.98" fill="#fee090"/>
<rect x="527.90" y="51.29" width="18.85" height="7.98" fill="#f98e52"/>
<rect x="546.45" y="51.29" width="18.85" height="7.98" fill="#e64f35"/>
<rect x="565.00" y="51.29" width="18.85" height="7.98" fill="#74add1"/>
<rect x="583.55" y="51.29" width="18.85" height="7.98" fill="#fdc778"/>
<rect x="602.10" y="51.29" width="18.85" height="7.98" fill="#f46d43"/>
<rect x="620.65" y="51.29" width="18.85" height="7.98" fill="#f46d43"/>
<rect x="639.20" y="51.29" width="18.85" height="7.98" fill="#fdae61"/>
<rect x="657.75" y="51.29" width="18.85" height="7.98" fill="#fee090"/>
<rect x="676.30" y="51.29" width="18.85" height="7.98" fill="#d73027"/>
<rect x="694.85" y="51.29" width="18.85" height="7.98" fill="#fee090"/>
<rect x="713.40" y="51.29" width="18.85" height="7.98" fill="#f46d43"/>
<rect x="731.95" y="51.29" width="18.85" height="7.98" fill="#fdae61"/>
<rect x="753.80" y="51.29" width="17.00" height="7.98" fill="#fcad64"/>
<text x="775.0" y="55.64" font-size="6.2" fill="#222">MAP1B</text>
<rect x="504.50" y="58.76" width="18.80" height="7.98" fill="#4575b4"/>
<rect x="527.90" y="58.76" width="18.85" height="7.98" fill="#f46d43"/>
<rect x="546.45" y="58.76" width="18.85" height="7.98" fill="#fee090"/>
<rect x="565.00" y="58.76" width="18.85" height="7.98" fill="#bebebe"/>
<rect x="583.55" y="58.76" width="18.85" height="7.98" fill="#bebebe"/>
<rect x="602.10" y="58.76" width="18.85" height="7.98" fill="#a50026"/>
<rect x="620.65" y="58.76" width="18.85" height="7.98" fill="#fee090"/>
<rect x="639.20" y="58.76" width="18.85" height="7.98" fill="#ffffbf"/>
<rect x="657.75" y="58.76" width="18.85" height="7.98" fill="#eef7da"/>
<rect x="676.30" y="58.76" width="18.85" height="7.98" fill="#f46d43"/>
<rect x="694.85" y="58.76" width="18.85" height="7.98" fill="#eef7da"/>
<rect x="713.40" y="58.76" width="18.85" height="7.98" fill="#d73027"/>
<rect x="731.95" y="58.76" width="18.85" height="7.98" fill="#fdae61"/>
<rect x="753.80" y="58.76" width="17.00" height="7.98" fill="#fdb468"/>
<text x="775.0" y="63.18" font-size="6.2" fill="#222">AGRN</text>
<rect x="504.50" y="66.24" width="18.80" height="7.98" fill="#313695"/>
<rect x="527.90" y="66.24" width="18.85" height="7.98" fill="#f46d43"/>
<rect x="546.45" y="66.24" width="18.85" height="7.98" fill="#fdae61"/>
<rect x="565.00" y="66.24" width="18.85" height="7.98" fill="#eef7da"/>
<rect x="583.55" y="66.24" width="18.85" height="7.98" fill="#ffffbf"/>
<rect x="602.10" y="66.24" width="18.85" height="7.98" fill="#f46d43"/>
<rect x="620.65" y="66.24" width="18.85" height="7.98" fill="#f46d43"/>
<rect x="639.20" y="66.24" width="18.85" height="7.98" fill="#fdae61"/>
<rect x="657.75" y="66.24" width="18.85" height="7.98" fill="#fee090"/>
<rect x="676.30" y="66.24" width="18.85" height="7.98" fill="#f46d43"/>
<rect x="694.85" y="66.24" width="18.85" height="7.98" fill="#f46d43"/>
<rect x="713.40" y="66.24" width="18.85" height="7.98" fill="#fdae61"/>
<rect x="731.95" y="66.24" width="18.85" height="7.98" fill="#fee090"/>
<rect x="753.80" y="66.24" width="17.00" height="7.98" fill="#fdb569"/>
<text x="775.0" y="70.72" font-size="6.2" fill="#222">KCNC4</text>
<rect x="504.50" y="73.72" width="18.80" height="7.98" fill="#313695"/>
<rect x="527.90" y="73.72" width="18.85" height="7.98" fill="#d73027"/>
<rect x="546.45" y="73.72" width="18.85" height="7.98" fill="#fee090"/>
<rect x="565.00" y="73.72" width="18.85" height="7.98" fill="#ffffbf"/>
<rect x="583.55" y="73.72" width="18.85" height="7.98" fill="#abd9e9"/>
<rect x="602.10" y="73.72" width="18.85" height="7.98" fill="#a50026"/>
<rect x="620.65" y="73.72" width="18.85" height="7.98" fill="#fdae61"/>
<rect x="639.20" y="73.72" width="18.85" height="7.98" fill="#fee090"/>
<rect x="657.75" y="73.72" width="18.85" height="7.98" fill="#ffffbf"/>
<rect x="676.30" y="73.72" width="18.85" height="7.98" fill="#fee090"/>
<rect x="694.85" y="73.72" width="18.85" height="7.98" fill="#fee090"/>
<rect x="713.40" y="73.72" width="18.85" height="7.98" fill="#fdae61"/>
<rect x="731.95" y="73.72" width="18.85" height="7.98" fill="#fdae61"/>
<rect x="753.80" y="73.72" width="17.00" height="7.98" fill="#fdb76b"/>
<text x="775.0" y="78.25" font-size="6.2" fill="#222">LMNA</text>
<rect x="504.50" y="81.19" width="18.80" height="7.98" fill="#bebebe"/>
<rect x="527.90" y="81.19" width="18.85" height="7.98" fill="#fee090"/>
<rect x="546.45" y="81.19" width="18.85" height="7.98" fill="#f46d43"/>
<rect x="565.00" y="81.19" width="18.85" height="7.98" fill="#c6e6f1"/>
<rect x="583.55" y="81.19" width="18.85" height="7.98" fill="#ffffbf"/>
<rect x="602.10" y="81.19" width="18.85" height="7.98" fill="#fee090"/>
<rect x="620.65" y="81.19" width="18.85" height="7.98" fill="#fee090"/>
<rect x="639.20" y="81.19" width="18.85" height="7.98" fill="#fdae61"/>
<rect x="657.75" y="81.19" width="18.85" height="7.98" fill="#fee090"/>
<rect x="676.30" y="81.19" width="18.85" height="7.98" fill="#a50026"/>
<rect x="694.85" y="81.19" width="18.85" height="7.98" fill="#bebebe"/>
<rect x="713.40" y="81.19" width="18.85" height="7.98" fill="#bebebe"/>
<rect x="731.95" y="81.19" width="18.85" height="7.98" fill="#f46d43"/>
<rect x="753.80" y="81.19" width="17.00" height="7.98" fill="#fdb86c"/>
<text x="775.0" y="85.78" font-size="6.2" fill="#222">FGF18</text>
<rect x="504.50" y="88.67" width="18.80" height="7.98" fill="#e0f3f8"/>
<rect x="527.90" y="88.67" width="18.85" height="7.98" fill="#f46d43"/>
<rect x="546.45" y="88.67" width="18.85" height="7.98" fill="#e64f35"/>
<rect x="565.00" y="88.67" width="18.85" height="7.98" fill="#f98e52"/>
<rect x="583.55" y="88.67" width="18.85" height="7.98" fill="#eef7da"/>
<rect x="602.10" y="88.67" width="18.85" height="7.98" fill="#a50026"/>
<rect x="620.65" y="88.67" width="18.85" height="7.98" fill="#fdae61"/>
<rect x="639.20" y="88.67" width="18.85" height="7.98" fill="#ffffbf"/>
<rect x="657.75" y="88.67" width="18.85" height="7.98" fill="#ffffbf"/>
<rect x="676.30" y="88.67" width="18.85" height="7.98" fill="#f46d43"/>
<rect x="694.85" y="88.67" width="18.85" height="7.98" fill="#fdae61"/>
<rect x="713.40" y="88.67" width="18.85" height="7.98" fill="#90c3dd"/>
<rect x="731.95" y="88.67" width="18.85" height="7.98" fill="#fee090"/>
<rect x="753.80" y="88.67" width="17.00" height="7.98" fill="#fdba6e"/>
<text x="775.0" y="93.32" font-size="6.2" fill="#222">ATP1A1</text>
<rect x="504.50" y="96.15" width="18.80" height="7.98" fill="#c6e6f1"/>
<rect x="527.90" y="96.15" width="18.85" height="7.98" fill="#f46d43"/>
<rect x="546.45" y="96.15" width="18.85" height="7.98" fill="#fdae61"/>
<rect x="565.00" y="96.15" width="18.85" height="7.98" fill="#e0f3f8"/>
<rect x="583.55" y="96.15" width="18.85" height="7.98" fill="#abd9e9"/>
<rect x="602.10" y="96.15" width="18.85" height="7.98" fill="#eef7da"/>
<rect x="620.65" y="96.15" width="18.85" height="7.98" fill="#fdae61"/>
<rect x="639.20" y="96.15" width="18.85" height="7.98" fill="#e64f35"/>
<rect x="657.75" y="96.15" width="18.85" height="7.98" fill="#fee090"/>
<rect x="676.30" y="96.15" width="18.85" height="7.98" fill="#d73027"/>
<rect x="694.85" y="96.15" width="18.85" height="7.98" fill="#ffffbf"/>
<rect x="713.40" y="96.15" width="18.85" height="7.98" fill="#fdae61"/>
<rect x="731.95" y="96.15" width="18.85" height="7.98" fill="#fdae61"/>
<rect x="753.80" y="96.15" width="17.00" height="7.98" fill="#fdbb6f"/>
<text x="775.0" y="100.86" font-size="6.2" fill="#222">LIF</text>
<rect x="504.50" y="103.62" width="18.80" height="7.98" fill="#90c3dd"/>
<rect x="527.90" y="103.62" width="18.85" height="7.98" fill="#fdc778"/>
<rect x="546.45" y="103.62" width="18.85" height="7.98" fill="#f46d43"/>
<rect x="565.00" y="103.62" width="18.85" height="7.98" fill="#e0f3f8"/>
<rect x="583.55" y="103.62" width="18.85" height="7.98" fill="#e64f35"/>
<rect x="602.10" y="103.62" width="18.85" height="7.98" fill="#a50026"/>
<rect x="620.65" y="103.62" width="18.85" height="7.98" fill="#fee090"/>
<rect x="639.20" y="103.62" width="18.85" height="7.98" fill="#ffffbf"/>
<rect x="657.75" y="103.62" width="18.85" height="7.98" fill="#fee090"/>
<rect x="676.30" y="103.62" width="18.85" height="7.98" fill="#fee090"/>
<rect x="694.85" y="103.62" width="18.85" height="7.98" fill="#f98e52"/>
<rect x="713.40" y="103.62" width="18.85" height="7.98" fill="#fee090"/>
<rect x="731.95" y="103.62" width="18.85" height="7.98" fill="#d73027"/>
<rect x="753.80" y="103.62" width="17.00" height="7.98" fill="#fdbd71"/>
<text x="775.0" y="108.39" font-size="6.2" fill="#222">SPTLC2</text>
<rect x="504.50" y="111.10" width="18.80" height="7.98" fill="#7fb4d6"/>
<rect x="527.90" y="111.10" width="18.85" height="7.98" fill="#fdc778"/>
<rect x="546.45" y="111.10" width="18.85" height="7.98" fill="#f46d43"/>
<rect x="565.00" y="111.10" width="18.85" height="7.98" fill="#f46d43"/>
<rect x="583.55" y="111.10" width="18.85" height="7.98" fill="#fdae61"/>
<rect x="602.10" y="111.10" width="18.85" height="7.98" fill="#d73027"/>
<rect x="620.65" y="111.10" width="18.85" height="7.98" fill="#fee090"/>
<rect x="639.20" y="111.10" width="18.85" height="7.98" fill="#fee090"/>
<rect x="657.75" y="111.10" width="18.85" height="7.98" fill="#e0f3f8"/>
<rect x="676.30" y="111.10" width="18.85" height="7.98" fill="#fee090"/>
<rect x="694.85" y="111.10" width="18.85" height="7.98" fill="#fee090"/>
<rect x="713.40" y="111.10" width="18.85" height="7.98" fill="#e0f3f8"/>
<rect x="731.95" y="111.10" width="18.85" height="7.98" fill="#d73027"/>
<rect x="753.80" y="111.10" width="17.00" height="7.98" fill="#fdbe72"/>
<text x="775.0" y="115.92" font-size="6.2" fill="#222">HIF1A</text>
<rect x="504.50" y="118.58" width="18.80" height="7.98" fill="#90c3dd"/>
<rect x="527.90" y="118.58" width="18.85" height="7.98" fill="#f46d43"/>
<rect x="546.45" y="118.58" width="18.85" height="7.98" fill="#f46d43"/>
<rect x="565.00" y="118.58" width="18.85" height="7.98" fill="#fdae61"/>
<rect x="583.55" y="118.58" width="18.85" height="7.98" fill="#eef7da"/>
<rect x="602.10" y="118.58" width="18.85" height="7.98" fill="#a50026"/>
<rect x="620.65" y="118.58" width="18.85" height="7.98" fill="#eef7da"/>
<rect x="639.20" y="118.58" width="18.85" height="7.98" fill="#fee090"/>
<rect x="657.75" y="118.58" width="18.85" height="7.98" fill="#fee090"/>
<rect x="676.30" y="118.58" width="18.85" height="7.98" fill="#f98e52"/>
<rect x="694.85" y="118.58" width="18.85" height="7.98" fill="#ffffbf"/>
<rect x="713.40" y="118.58" width="18.85" height="7.98" fill="#abd9e9"/>
<rect x="731.95" y="118.58" width="18.85" height="7.98" fill="#f46d43"/>
<rect x="753.80" y="118.58" width="17.00" height="7.98" fill="#fdbf73"/>
<text x="775.0" y="123.46" font-size="6.2" fill="#222">ATP1B3</text>
<rect x="504.50" y="126.06" width="18.80" height="7.98" fill="#fff0a8"/>
<rect x="527.90" y="126.06" width="18.85" height="7.98" fill="#fdae61"/>
<rect x="546.45" y="126.06" width="18.85" height="7.98" fill="#f98e52"/>
<rect x="565.00" y="126.06" width="18.85" height="7.98" fill="#e0f3f8"/>
<rect x="583.55" y="126.06" width="18.85" height="7.98" fill="#eef7da"/>
<rect x="602.10" y="126.06" width="18.85" height="7.98" fill="#e64f35"/>
<rect x="620.65" y="126.06" width="18.85" height="7.98" fill="#fee090"/>
<rect x="639.20" y="126.06" width="18.85" height="7.98" fill="#fdc778"/>
<rect x="657.75" y="126.06" width="18.85" height="7.98" fill="#ffffbf"/>
<rect x="676.30" y="126.06" width="18.85" height="7.98" fill="#fee090"/>
<rect x="694.85" y="126.06" width="18.85" height="7.98" fill="#d73027"/>
<rect x="713.40" y="126.06" width="18.85" height="7.98" fill="#fee090"/>
<rect x="731.95" y="126.06" width="18.85" height="7.98" fill="#f46d43"/>
<rect x="753.80" y="126.06" width="17.00" height="7.98" fill="#fdc175"/>
<text x="775.0" y="131.00" font-size="6.2" fill="#222">GAS7</text>
<rect x="504.50" y="133.53" width="18.80" height="7.98" fill="#313695"/>
<rect x="527.90" y="133.53" width="18.85" height="7.98" fill="#fee090"/>
<rect x="546.45" y="133.53" width="18.85" height="7.98" fill="#fdae61"/>
<rect x="565.00" y="133.53" width="18.85" height="7.98" fill="#fff0a8"/>
<rect x="583.55" y="133.53" width="18.85" height="7.98" fill="#fee090"/>
<rect x="602.10" y="133.53" width="18.85" height="7.98" fill="#f46d43"/>
<rect x="620.65" y="133.53" width="18.85" height="7.98" fill="#fee090"/>
<rect x="639.20" y="133.53" width="18.85" height="7.98" fill="#fee090"/>
<rect x="657.75" y="133.53" width="18.85" height="7.98" fill="#eef7da"/>
<rect x="676.30" y="133.53" width="18.85" height="7.98" fill="#e64f35"/>
<rect x="694.85" y="133.53" width="18.85" height="7.98" fill="#fdae61"/>
<rect x="713.40" y="133.53" width="18.85" height="7.98" fill="#ffffbf"/>
<rect x="731.95" y="133.53" width="18.85" height="7.98" fill="#fdae61"/>
<rect x="753.80" y="133.53" width="17.00" height="7.98" fill="#fdc276"/>
<text x="775.0" y="138.53" font-size="6.2" fill="#222">ERBB3</text>
<rect x="504.50" y="141.01" width="18.80" height="7.98" fill="#abd9e9"/>
<rect x="527.90" y="141.01" width="18.85" height="7.98" fill="#fdae61"/>
<rect x="546.45" y="141.01" width="18.85" height="7.98" fill="#fdae61"/>
<rect x="565.00" y="141.01" width="18.85" height="7.98" fill="#ffffbf"/>
<rect x="583.55" y="141.01" width="18.85" height="7.98" fill="#f98e52"/>
<rect x="602.10" y="141.01" width="18.85" height="7.98" fill="#fee090"/>
<rect x="620.65" y="141.01" width="18.85" height="7.98" fill="#fee090"/>
<rect x="639.20" y="141.01" width="18.85" height="7.98" fill="#fee090"/>
<rect x="657.75" y="141.01" width="18.85" height="7.98" fill="#f98e52"/>
<rect x="676.30" y="141.01" width="18.85" height="7.98" fill="#f46d43"/>
<rect x="694.85" y="141.01" width="18.85" height="7.98" fill="#fee090"/>
<rect x="713.40" y="141.01" width="18.85" height="7.98" fill="#fee090"/>
<rect x="731.95" y="141.01" width="18.85" height="7.98" fill="#fee090"/>
<rect x="753.80" y="141.01" width="17.00" height="7.98" fill="#fdc478"/>
<text x="775.0" y="146.06" font-size="6.2" fill="#222">VAMP1</text>
<rect x="504.50" y="148.49" width="18.80" height="7.98" fill="#abd9e9"/>
<rect x="527.90" y="148.49" width="18.85" height="7.98" fill="#fdae61"/>
<rect x="546.45" y="148.49" width="18.85" height="7.98" fill="#fdae61"/>
<rect x="565.00" y="148.49" width="18.85" height="7.98" fill="#ffffbf"/>
<rect x="583.55" y="148.49" width="18.85" height="7.98" fill="#f46d43"/>
<rect x="602.10" y="148.49" width="18.85" height="7.98" fill="#be1827"/>
<rect x="620.65" y="148.49" width="18.85" height="7.98" fill="#ffffbf"/>
<rect x="639.20" y="148.49" width="18.85" height="7.98" fill="#fee090"/>
<rect x="657.75" y="148.49" width="18.85" height="7.98" fill="#eef7da"/>
<rect x="676.30" y="148.49" width="18.85" height="7.98" fill="#fee090"/>
<rect x="694.85" y="148.49" width="18.85" height="7.98" fill="#fdae61"/>
<rect x="713.40" y="148.49" width="18.85" height="7.98" fill="#fdae61"/>
<rect x="731.95" y="148.49" width="18.85" height="7.98" fill="#f46d43"/>
<rect x="753.80" y="148.49" width="17.00" height="7.98" fill="#fdc579"/>
<text x="775.0" y="153.60" font-size="6.2" fill="#222">MACF1</text>
<rect x="504.50" y="155.96" width="18.80" height="7.98" fill="#ffffbf"/>
<rect x="527.90" y="155.96" width="18.85" height="7.98" fill="#ffffbf"/>
<rect x="546.45" y="155.96" width="18.85" height="7.98" fill="#ffffbf"/>
<rect x="565.00" y="155.96" width="18.85" height="7.98" fill="#fdae61"/>
<rect x="583.55" y="155.96" width="18.85" height="7.98" fill="#fdae61"/>
<rect x="602.10" y="155.96" width="18.85" height="7.98" fill="#fdc778"/>
<rect x="620.65" y="155.96" width="18.85" height="7.98" fill="#eef7da"/>
<rect x="639.20" y="155.96" width="18.85" height="7.98" fill="#e64f35"/>
<rect x="657.75" y="155.96" width="18.85" height="7.98" fill="#fee090"/>
<rect x="676.30" y="155.96" width="18.85" height="7.98" fill="#fdc778"/>
<rect x="694.85" y="155.96" width="18.85" height="7.98" fill="#a50026"/>
<rect x="713.40" y="155.96" width="18.85" height="7.98" fill="#d73027"/>
<rect x="731.95" y="155.96" width="18.85" height="7.98" fill="#ffffbf"/>
<rect x="753.80" y="155.96" width="17.00" height="7.98" fill="#fdc77b"/>
<text x="775.0" y="161.13" font-size="6.2" fill="#222">FHL1</text>
<rect x="504.50" y="163.44" width="18.80" height="7.98" fill="#4575b4"/>
<rect x="527.90" y="163.44" width="18.85" height="7.98" fill="#bebebe"/>
<rect x="546.45" y="163.44" width="18.85" height="7.98" fill="#bebebe"/>
<rect x="565.00" y="163.44" width="18.85" height="7.98" fill="#bebebe"/>
<rect x="583.55" y="163.44" width="18.85" height="7.98" fill="#bebebe"/>
<rect x="602.10" y="163.44" width="18.85" height="7.98" fill="#bebebe"/>
<rect x="620.65" y="163.44" width="18.85" height="7.98" fill="#bebebe"/>
<rect x="639.20" y="163.44" width="18.85" height="7.98" fill="#fdc778"/>
<rect x="657.75" y="163.44" width="18.85" height="7.98" fill="#ffffbf"/>
<rect x="676.30" y="163.44" width="18.85" height="7.98" fill="#fdc778"/>
<rect x="694.85" y="163.44" width="18.85" height="7.98" fill="#e64f35"/>
<rect x="713.40" y="163.44" width="18.85" height="7.98" fill="#ffffbf"/>
<rect x="731.95" y="163.44" width="18.85" height="7.98" fill="#fdc778"/>
<rect x="753.80" y="163.44" width="17.00" height="7.98" fill="#fec87c"/>
<text x="775.0" y="168.67" font-size="6.2" fill="#222">SQSTM1</text>
<rect x="504.50" y="170.92" width="18.80" height="7.98" fill="#e0f3f8"/>
<rect x="527.90" y="170.92" width="18.85" height="7.98" fill="#ffffbf"/>
<rect x="546.45" y="170.92" width="18.85" height="7.98" fill="#fee090"/>
<rect x="565.00" y="170.92" width="18.85" height="7.98" fill="#e0f3f8"/>
<rect x="583.55" y="170.92" width="18.85" height="7.98" fill="#ffffbf"/>
<rect x="602.10" y="170.92" width="18.85" height="7.98" fill="#e64f35"/>
<rect x="620.65" y="170.92" width="18.85" height="7.98" fill="#ffffbf"/>
<rect x="639.20" y="170.92" width="18.85" height="7.98" fill="#fdc778"/>
<rect x="657.75" y="170.92" width="18.85" height="7.98" fill="#fee090"/>
<rect x="676.30" y="170.92" width="18.85" height="7.98" fill="#fdae61"/>
<rect x="694.85" y="170.92" width="18.85" height="7.98" fill="#a50026"/>
<rect x="713.40" y="170.92" width="18.85" height="7.98" fill="#a50026"/>
<rect x="731.95" y="170.92" width="18.85" height="7.98" fill="#fee090"/>
<rect x="753.80" y="170.92" width="17.00" height="7.98" fill="#fec97d"/>
<text x="775.0" y="176.21" font-size="6.2" fill="#222">CADM3</text>
<rect x="504.50" y="178.39" width="18.80" height="7.98" fill="#bebebe"/>
<rect x="527.90" y="178.39" width="18.85" height="7.98" fill="#fee090"/>
<rect x="546.45" y="178.39" width="18.85" height="7.98" fill="#fee090"/>
<rect x="565.00" y="178.39" width="18.85" height="7.98" fill="#bebebe"/>
<rect x="583.55" y="178.39" width="18.85" height="7.98" fill="#bebebe"/>
<rect x="602.10" y="178.39" width="18.85" height="7.98" fill="#bebebe"/>
<rect x="620.65" y="178.39" width="18.85" height="7.98" fill="#bebebe"/>
<rect x="639.20" y="178.39" width="18.85" height="7.98" fill="#fdae61"/>
<rect x="657.75" y="178.39" width="18.85" height="7.98" fill="#eef7da"/>
<rect x="676.30" y="178.39" width="18.85" height="7.98" fill="#fdc778"/>
<rect x="694.85" y="178.39" width="18.85" height="7.98" fill="#bebebe"/>
<rect x="713.40" y="178.39" width="18.85" height="7.98" fill="#bebebe"/>
<rect x="731.95" y="178.39" width="18.85" height="7.98" fill="#fee090"/>
<rect x="753.80" y="178.39" width="17.00" height="7.98" fill="#fecb7f"/>
<text x="775.0" y="183.74" font-size="6.2" fill="#222">LAMA5-AS1</text>
<rect x="504.50" y="185.87" width="18.80" height="7.98" fill="#fee090"/>
<rect x="527.90" y="185.87" width="18.85" height="7.98" fill="#fee090"/>
<rect x="546.45" y="185.87" width="18.85" height="7.98" fill="#fee090"/>
<rect x="565.00" y="185.87" width="18.85" height="7.98" fill="#fee090"/>
<rect x="583.55" y="185.87" width="18.85" height="7.98" fill="#be1827"/>
<rect x="602.10" y="185.87" width="18.85" height="7.98" fill="#e64f35"/>
<rect x="620.65" y="185.87" width="18.85" height="7.98" fill="#fee090"/>
<rect x="639.20" y="185.87" width="18.85" height="7.98" fill="#bebebe"/>
<rect x="657.75" y="185.87" width="18.85" height="7.98" fill="#ffffbf"/>
<rect x="676.30" y="185.87" width="18.85" height="7.98" fill="#fdc778"/>
<rect x="694.85" y="185.87" width="18.85" height="7.98" fill="#fdae61"/>
<rect x="713.40" y="185.87" width="18.85" height="7.98" fill="#ffffbf"/>
<rect x="731.95" y="185.87" width="18.85" height="7.98" fill="#fdae61"/>
<rect x="753.80" y="185.87" width="17.00" height="7.98" fill="#fecc80"/>
<text x="775.0" y="191.28" font-size="6.2" fill="#222">SYT1</text>
<rect x="504.50" y="193.35" width="18.80" height="7.98" fill="#abd9e9"/>
<rect x="527.90" y="193.35" width="18.85" height="7.98" fill="#fdc778"/>
<rect x="546.45" y="193.35" width="18.85" height="7.98" fill="#f98e52"/>
<rect x="565.00" y="193.35" width="18.85" height="7.98" fill="#fee090"/>
<rect x="583.55" y="193.35" width="18.85" height="7.98" fill="#eef7da"/>
<rect x="602.10" y="193.35" width="18.85" height="7.98" fill="#e0f3f8"/>
<rect x="620.65" y="193.35" width="18.85" height="7.98" fill="#fee090"/>
<rect x="639.20" y="193.35" width="18.85" height="7.98" fill="#ffffbf"/>
<rect x="657.75" y="193.35" width="18.85" height="7.98" fill="#c6e6f1"/>
<rect x="676.30" y="193.35" width="18.85" height="7.98" fill="#fdae61"/>
<rect x="694.85" y="193.35" width="18.85" height="7.98" fill="#a50026"/>
<rect x="713.40" y="193.35" width="18.85" height="7.98" fill="#a50026"/>
<rect x="731.95" y="193.35" width="18.85" height="7.98" fill="#fdc778"/>
<rect x="753.80" y="193.35" width="17.00" height="7.98" fill="#fece82"/>
<text x="775.0" y="198.81" font-size="6.2" fill="#222">KCNE4</text>
<rect x="504.50" y="200.83" width="18.80" height="7.98" fill="#f98e52"/>
<rect x="527.90" y="200.83" width="18.85" height="7.98" fill="#fdc778"/>
<rect x="546.45" y="200.83" width="18.85" height="7.98" fill="#e64f35"/>
<rect x="565.00" y="200.83" width="18.85" height="7.98" fill="#fee090"/>
<rect x="583.55" y="200.83" width="18.85" height="7.98" fill="#e0f3f8"/>
<rect x="602.10" y="200.83" width="18.85" height="7.98" fill="#f98e52"/>
<rect x="620.65" y="200.83" width="18.85" height="7.98" fill="#ffffbf"/>
<rect x="639.20" y="200.83" width="18.85" height="7.98" fill="#fee090"/>
<rect x="657.75" y="200.83" width="18.85" height="7.98" fill="#eef7da"/>
<rect x="676.30" y="200.83" width="18.85" height="7.98" fill="#ffffbf"/>
<rect x="694.85" y="200.83" width="18.85" height="7.98" fill="#be1827"/>
<rect x="713.40" y="200.83" width="18.85" height="7.98" fill="#ffffbf"/>
<rect x="731.95" y="200.83" width="18.85" height="7.98" fill="#e64f35"/>
<rect x="753.80" y="200.83" width="17.00" height="7.98" fill="#fecf83"/>
<text x="775.0" y="206.34" font-size="6.2" fill="#222">PICALM</text>
<rect x="504.50" y="208.30" width="18.80" height="7.98" fill="#4575b4"/>
<rect x="527.90" y="208.30" width="18.85" height="7.98" fill="#fdae61"/>
<rect x="546.45" y="208.30" width="18.85" height="7.98" fill="#f46d43"/>
<rect x="565.00" y="208.30" width="18.85" height="7.98" fill="#e0f3f8"/>
<rect x="583.55" y="208.30" width="18.85" height="7.98" fill="#fdae61"/>
<rect x="602.10" y="208.30" width="18.85" height="7.98" fill="#fdc778"/>
<rect x="620.65" y="208.30" width="18.85" height="7.98" fill="#fee090"/>
<rect x="639.20" y="208.30" width="18.85" height="7.98" fill="#fee090"/>
<rect x="657.75" y="208.30" width="18.85" height="7.98" fill="#e0f3f8"/>
<rect x="676.30" y="208.30" width="18.85" height="7.98" fill="#fdae61"/>
<rect x="694.85" y="208.30" width="18.85" height="7.98" fill="#a50026"/>
<rect x="713.40" y="208.30" width="18.85" height="7.98" fill="#abd9e9"/>
<rect x="731.95" y="208.30" width="18.85" height="7.98" fill="#fee090"/>
<rect x="753.80" y="208.30" width="17.00" height="7.98" fill="#fed185"/>
<text x="775.0" y="213.88" font-size="6.2" fill="#222">NCAM1</text>
<rect x="504.50" y="215.78" width="18.80" height="7.98" fill="#ffffbf"/>
<rect x="527.90" y="215.78" width="18.85" height="7.98" fill="#fdc778"/>
<rect x="546.45" y="215.78" width="18.85" height="7.98" fill="#f98e52"/>
<rect x="565.00" y="215.78" width="18.85" height="7.98" fill="#c6e6f1"/>
<rect x="583.55" y="215.78" width="18.85" height="7.98" fill="#f46d43"/>
<rect x="602.10" y="215.78" width="18.85" height="7.98" fill="#a50026"/>
<rect x="620.65" y="215.78" width="18.85" height="7.98" fill="#fee090"/>
<rect x="639.20" y="215.78" width="18.85" height="7.98" fill="#ffffbf"/>
<rect x="657.75" y="215.78" width="18.85" height="7.98" fill="#fee090"/>
<rect x="676.30" y="215.78" width="18.85" height="7.98" fill="#fee090"/>
<rect x="694.85" y="215.78" width="18.85" height="7.98" fill="#fdae61"/>
<rect x="713.40" y="215.78" width="18.85" height="7.98" fill="#fdc778"/>
<rect x="731.95" y="215.78" width="18.85" height="7.98" fill="#fdc778"/>
<rect x="753.80" y="215.78" width="17.00" height="7.98" fill="#fed286"/>
<text x="775.0" y="221.41" font-size="6.2" fill="#222">PRICKLE2</text>
<rect x="504.50" y="223.26" width="18.80" height="7.98" fill="#bebebe"/>
<rect x="527.90" y="223.26" width="18.85" height="7.98" fill="#fee090"/>
<rect x="546.45" y="223.26" width="18.85" height="7.98" fill="#c6e6f1"/>
<rect x="565.00" y="223.26" width="18.85" height="7.98" fill="#fee090"/>
<rect x="583.55" y="223.26" width="18.85" height="7.98" fill="#e0f3f8"/>
<rect x="602.10" y="223.26" width="18.85" height="7.98" fill="#a50026"/>
<rect x="620.65" y="223.26" width="18.85" height="7.98" fill="#fdae61"/>
<rect x="639.20" y="223.26" width="18.85" height="7.98" fill="#ffffbf"/>
<rect x="657.75" y="223.26" width="18.85" height="7.98" fill="#ffffbf"/>
<rect x="676.30" y="223.26" width="18.85" height="7.98" fill="#f98e52"/>
<rect x="694.85" y="223.26" width="18.85" height="7.98" fill="#bebebe"/>
<rect x="713.40" y="223.26" width="18.85" height="7.98" fill="#bebebe"/>
<rect x="731.95" y="223.26" width="18.85" height="7.98" fill="#fee090"/>
<rect x="753.80" y="223.26" width="17.00" height="7.98" fill="#fed387"/>
<text x="775.0" y="228.95" font-size="6.2" fill="#222">KCNMB1</text>
<rect x="504.50" y="230.73" width="18.80" height="7.98" fill="#bebebe"/>
<rect x="527.90" y="230.73" width="18.85" height="7.98" fill="#fee090"/>
<rect x="546.45" y="230.73" width="18.85" height="7.98" fill="#fee090"/>
<rect x="565.00" y="230.73" width="18.85" height="7.98" fill="#ffffbf"/>
<rect x="583.55" y="230.73" width="18.85" height="7.98" fill="#fee090"/>
<rect x="602.10" y="230.73" width="18.85" height="7.98" fill="#fdc778"/>
<rect x="620.65" y="230.73" width="18.85" height="7.98" fill="#fdc778"/>
<rect x="639.20" y="230.73" width="18.85" height="7.98" fill="#ffffbf"/>
<rect x="657.75" y="230.73" width="18.85" height="7.98" fill="#fee090"/>
<rect x="676.30" y="230.73" width="18.85" height="7.98" fill="#fdc778"/>
<rect x="694.85" y="230.73" width="18.85" height="7.98" fill="#fee090"/>
<rect x="713.40" y="230.73" width="18.85" height="7.98" fill="#e64f35"/>
<rect x="731.95" y="230.73" width="18.85" height="7.98" fill="#fee090"/>
<rect x="753.80" y="230.73" width="17.00" height="7.98" fill="#fed589"/>
<text x="775.0" y="236.49" font-size="6.2" fill="#222">KCNAB1</text>
<rect x="504.50" y="238.21" width="18.80" height="7.98" fill="#313695"/>
<rect x="527.90" y="238.21" width="18.85" height="7.98" fill="#fdc778"/>
<rect x="546.45" y="238.21" width="18.85" height="7.98" fill="#fee090"/>
<rect x="565.00" y="238.21" width="18.85" height="7.98" fill="#e0f3f8"/>
<rect x="583.55" y="238.21" width="18.85" height="7.98" fill="#abd9e9"/>
<rect x="602.10" y="238.21" width="18.85" height="7.98" fill="#fdc778"/>
<rect x="620.65" y="238.21" width="18.85" height="7.98" fill="#fdae61"/>
<rect x="639.20" y="238.21" width="18.85" height="7.98" fill="#fee090"/>
<rect x="657.75" y="238.21" width="18.85" height="7.98" fill="#ffffbf"/>
<rect x="676.30" y="238.21" width="18.85" height="7.98" fill="#fee090"/>
<rect x="694.85" y="238.21" width="18.85" height="7.98" fill="#f46d43"/>
<rect x="713.40" y="238.21" width="18.85" height="7.98" fill="#a50026"/>
<rect x="731.95" y="238.21" width="18.85" height="7.98" fill="#fee090"/>
<rect x="753.80" y="238.21" width="17.00" height="7.98" fill="#fed68a"/>
<text x="775.0" y="244.02" font-size="6.2" fill="#222">ATP2A3</text>
<rect x="504.50" y="245.69" width="18.80" height="7.98" fill="#eef7da"/>
<rect x="527.90" y="245.69" width="18.85" height="7.98" fill="#fee090"/>
<rect x="546.45" y="245.69" width="18.85" height="7.98" fill="#fee090"/>
<rect x="565.00" y="245.69" width="18.85" height="7.98" fill="#eef7da"/>
<rect x="583.55" y="245.69" width="18.85" height="7.98" fill="#abd9e9"/>
<rect x="602.10" y="245.69" width="18.85" height="7.98" fill="#fff0a8"/>
<rect x="620.65" y="245.69" width="18.85" height="7.98" fill="#fdc778"/>
<rect x="639.20" y="245.69" width="18.85" height="7.98" fill="#fdc778"/>
<rect x="657.75" y="245.69" width="18.85" height="7.98" fill="#fdae61"/>
<rect x="676.30" y="245.69" width="18.85" height="7.98" fill="#f98e52"/>
<rect x="694.85" y="245.69" width="18.85" height="7.98" fill="#bebebe"/>
<rect x="713.40" y="245.69" width="18.85" height="7.98" fill="#bebebe"/>
<rect x="731.95" y="245.69" width="18.85" height="7.98" fill="#fdc778"/>
<rect x="753.80" y="245.69" width="17.00" height="7.98" fill="#fed88c"/>
<text x="775.0" y="251.56" font-size="6.2" fill="#222">KCNN4</text>
<rect x="504.50" y="253.16" width="18.80" height="7.98" fill="#ffffbf"/>
<rect x="527.90" y="253.16" width="18.85" height="7.98" fill="#fee090"/>
<rect x="546.45" y="253.16" width="18.85" height="7.98" fill="#fee090"/>
<rect x="565.00" y="253.16" width="18.85" height="7.98" fill="#fee090"/>
<rect x="583.55" y="253.16" width="18.85" height="7.98" fill="#abd9e9"/>
<rect x="602.10" y="253.16" width="18.85" height="7.98" fill="#fee090"/>
<rect x="620.65" y="253.16" width="18.85" height="7.98" fill="#fdc778"/>
<rect x="639.20" y="253.16" width="18.85" height="7.98" fill="#fdc778"/>
<rect x="657.75" y="253.16" width="18.85" height="7.98" fill="#fdae61"/>
<rect x="676.30" y="253.16" width="18.85" height="7.98" fill="#fdae61"/>
<rect x="694.85" y="253.16" width="18.85" height="7.98" fill="#bebebe"/>
<rect x="713.40" y="253.16" width="18.85" height="7.98" fill="#bebebe"/>
<rect x="731.95" y="253.16" width="18.85" height="7.98" fill="#fee090"/>
<rect x="753.80" y="253.16" width="17.00" height="7.98" fill="#fed98d"/>
<text x="775.0" y="259.09" font-size="6.2" fill="#222">KCND1</text>
<rect x="504.50" y="260.64" width="18.80" height="7.98" fill="#4575b4"/>
<rect x="527.90" y="260.64" width="18.85" height="7.98" fill="#fee090"/>
<rect x="546.45" y="260.64" width="18.85" height="7.98" fill="#f98e52"/>
<rect x="565.00" y="260.64" width="18.85" height="7.98" fill="#ffffbf"/>
<rect x="583.55" y="260.64" width="18.85" height="7.98" fill="#abd9e9"/>
<rect x="602.10" y="260.64" width="18.85" height="7.98" fill="#ffffbf"/>
<rect x="620.65" y="260.64" width="18.85" height="7.98" fill="#ffffbf"/>
<rect x="639.20" y="260.64" width="18.85" height="7.98" fill="#fdae61"/>
<rect x="657.75" y="260.64" width="18.85" height="7.98" fill="#fee090"/>
<rect x="676.30" y="260.64" width="18.85" height="7.98" fill="#f46d43"/>
<rect x="694.85" y="260.64" width="18.85" height="7.98" fill="#fdae61"/>
<rect x="713.40" y="260.64" width="18.85" height="7.98" fill="#fdc778"/>
<rect x="731.95" y="260.64" width="18.85" height="7.98" fill="#fee090"/>
<rect x="753.80" y="260.64" width="17.00" height="7.98" fill="#fedb8f"/>
<text x="775.0" y="266.62" font-size="6.2" fill="#222">DLG3</text>
<rect x="504.50" y="268.12" width="18.80" height="7.98" fill="#313695"/>
<rect x="527.90" y="268.12" width="18.85" height="7.98" fill="#fee090"/>
<rect x="546.45" y="268.12" width="18.85" height="7.98" fill="#e0f3f8"/>
<rect x="565.00" y="268.12" width="18.85" height="7.98" fill="#ffffbf"/>
<rect x="583.55" y="268.12" width="18.85" height="7.98" fill="#ffffbf"/>
<rect x="602.10" y="268.12" width="18.85" height="7.98" fill="#fdae61"/>
<rect x="620.65" y="268.12" width="18.85" height="7.98" fill="#ffffbf"/>
<rect x="639.20" y="268.12" width="18.85" height="7.98" fill="#fee090"/>
<rect x="657.75" y="268.12" width="18.85" height="7.98" fill="#eef7da"/>
<rect x="676.30" y="268.12" width="18.85" height="7.98" fill="#fdae61"/>
<rect x="694.85" y="268.12" width="18.85" height="7.98" fill="#f46d43"/>
<rect x="713.40" y="268.12" width="18.85" height="7.98" fill="#e0f3f8"/>
<rect x="731.95" y="268.12" width="18.85" height="7.98" fill="#fdae61"/>
<rect x="753.80" y="268.12" width="17.00" height="7.98" fill="#fedc90"/>
<text x="775.0" y="274.16" font-size="6.2" fill="#222">CHRND</text>
<rect x="504.50" y="278.70" width="18.80" height="8.00" fill="#313695"/>
<rect x="527.90" y="278.70" width="18.85" height="8.00" fill="#e0f3f8"/>
<rect x="546.45" y="278.70" width="18.85" height="8.00" fill="#fee090"/>
<rect x="565.00" y="278.70" width="18.85" height="8.00" fill="#eef7da"/>
<rect x="583.55" y="278.70" width="18.85" height="8.00" fill="#e0f3f8"/>
<rect x="602.10" y="278.70" width="18.85" height="8.00" fill="#5d91c3"/>
<rect x="620.65" y="278.70" width="18.85" height="8.00" fill="#fee090"/>
<rect x="639.20" y="278.70" width="18.85" height="8.00" fill="#eef7da"/>
<rect x="657.75" y="278.70" width="18.85" height="8.00" fill="#e0f3f8"/>
<rect x="676.30" y="278.70" width="18.85" height="8.00" fill="#c6e6f1"/>
<rect x="694.85" y="278.70" width="18.85" height="8.00" fill="#e0f3f8"/>
<rect x="713.40" y="278.70" width="18.85" height="8.00" fill="#abd9e9"/>
<rect x="731.95" y="278.70" width="18.85" height="8.00" fill="#e0f3f8"/>
<rect x="753.80" y="278.70" width="17.00" height="8.00" fill="#e0f2f7"/>
<text x="775.0" y="281.70" font-size="6.2" fill="#222">DOK7</text>
<rect x="504.50" y="286.20" width="18.80" height="8.00" fill="#eef7da"/>
<rect x="527.90" y="286.20" width="18.85" height="8.00" fill="#fff0a8"/>
<rect x="546.45" y="286.20" width="18.85" height="8.00" fill="#eef7da"/>
<rect x="565.00" y="286.20" width="18.85" height="8.00" fill="#fee090"/>
<rect x="583.55" y="286.20" width="18.85" height="8.00" fill="#eef7da"/>
<rect x="602.10" y="286.20" width="18.85" height="8.00" fill="#c6e6f1"/>
<rect x="620.65" y="286.20" width="18.85" height="8.00" fill="#bebebe"/>
<rect x="639.20" y="286.20" width="18.85" height="8.00" fill="#90c3dd"/>
<rect x="657.75" y="286.20" width="18.85" height="8.00" fill="#e0f3f8"/>
<rect x="676.30" y="286.20" width="18.85" height="8.00" fill="#c6e6f1"/>
<rect x="694.85" y="286.20" width="18.85" height="8.00" fill="#fff0a8"/>
<rect x="713.40" y="286.20" width="18.85" height="8.00" fill="#abd9e9"/>
<rect x="731.95" y="286.20" width="18.85" height="8.00" fill="#e0f3f8"/>
<rect x="753.80" y="286.20" width="17.00" height="8.00" fill="#dff1f7"/>
<text x="775.0" y="289.23" font-size="6.2" fill="#222">DNM2</text>
<rect x="504.50" y="293.71" width="18.80" height="8.00" fill="#4575b4"/>
<rect x="527.90" y="293.71" width="18.85" height="8.00" fill="#fff0a8"/>
<rect x="546.45" y="293.71" width="18.85" height="8.00" fill="#eef7da"/>
<rect x="565.00" y="293.71" width="18.85" height="8.00" fill="#e0f3f8"/>
<rect x="583.55" y="293.71" width="18.85" height="8.00" fill="#ffffbf"/>
<rect x="602.10" y="293.71" width="18.85" height="8.00" fill="#313695"/>
<rect x="620.65" y="293.71" width="18.85" height="8.00" fill="#c6e6f1"/>
<rect x="639.20" y="293.71" width="18.85" height="8.00" fill="#fff0a8"/>
<rect x="657.75" y="293.71" width="18.85" height="8.00" fill="#e0f3f8"/>
<rect x="676.30" y="293.71" width="18.85" height="8.00" fill="#c6e6f1"/>
<rect x="694.85" y="293.71" width="18.85" height="8.00" fill="#bebebe"/>
<rect x="713.40" y="293.71" width="18.85" height="8.00" fill="#bebebe"/>
<rect x="731.95" y="293.71" width="18.85" height="8.00" fill="#c6e6f1"/>
<rect x="753.80" y="293.71" width="17.00" height="8.00" fill="#ddf1f6"/>
<text x="775.0" y="296.77" font-size="6.2" fill="#222">ANKRD23</text>
<rect x="504.50" y="301.21" width="18.80" height="8.00" fill="#bebebe"/>
<rect x="527.90" y="301.21" width="18.85" height="8.00" fill="#e0f3f8"/>
<rect x="546.45" y="301.21" width="18.85" height="8.00" fill="#abd9e9"/>
<rect x="565.00" y="301.21" width="18.85" height="8.00" fill="#e0f3f8"/>
<rect x="583.55" y="301.21" width="18.85" height="8.00" fill="#abd9e9"/>
<rect x="602.10" y="301.21" width="18.85" height="8.00" fill="#abd9e9"/>
<rect x="620.65" y="301.21" width="18.85" height="8.00" fill="#fdc778"/>
<rect x="639.20" y="301.21" width="18.85" height="8.00" fill="#e0f3f8"/>
<rect x="657.75" y="301.21" width="18.85" height="8.00" fill="#abd9e9"/>
<rect x="676.30" y="301.21" width="18.85" height="8.00" fill="#e0f3f8"/>
<rect x="694.85" y="301.21" width="18.85" height="8.00" fill="#bebebe"/>
<rect x="713.40" y="301.21" width="18.85" height="8.00" fill="#bebebe"/>
<rect x="731.95" y="301.21" width="18.85" height="8.00" fill="#c6e6f1"/>
<rect x="753.80" y="301.21" width="17.00" height="8.00" fill="#dcf0f6"/>
<text x="775.0" y="304.30" font-size="6.2" fill="#222">SYN2</text>
<rect x="504.50" y="308.72" width="18.80" height="8.00" fill="#3b56a5"/>
<rect x="527.90" y="308.72" width="18.85" height="8.00" fill="#e0f3f8"/>
<rect x="546.45" y="308.72" width="18.85" height="8.00" fill="#ffffbf"/>
<rect x="565.00" y="308.72" width="18.85" height="8.00" fill="#bebebe"/>
<rect x="583.55" y="308.72" width="18.85" height="8.00" fill="#bebebe"/>
<rect x="602.10" y="308.72" width="18.85" height="8.00" fill="#abd9e9"/>
<rect x="620.65" y="308.72" width="18.85" height="8.00" fill="#c6e6f1"/>
<rect x="639.20" y="308.72" width="18.85" height="8.00" fill="#ffffbf"/>
<rect x="657.75" y="308.72" width="18.85" height="8.00" fill="#e0f3f8"/>
<rect x="676.30" y="308.72" width="18.85" height="8.00" fill="#abd9e9"/>
<rect x="694.85" y="308.72" width="18.85" height="8.00" fill="#fdc778"/>
<rect x="713.40" y="308.72" width="18.85" height="8.00" fill="#313695"/>
<rect x="731.95" y="308.72" width="18.85" height="8.00" fill="#eef7da"/>
<rect x="753.80" y="308.72" width="17.00" height="8.00" fill="#daeff6"/>
<text x="775.0" y="311.84" font-size="6.2" fill="#222">PPP1R12B</text>
<rect x="504.50" y="316.22" width="18.80" height="8.00" fill="#313695"/>
<rect x="527.90" y="316.22" width="18.85" height="8.00" fill="#eef7da"/>
<rect x="546.45" y="316.22" width="18.85" height="8.00" fill="#fff0a8"/>
<rect x="565.00" y="316.22" width="18.85" height="8.00" fill="#e0f3f8"/>
<rect x="583.55" y="316.22" width="18.85" height="8.00" fill="#abd9e9"/>
<rect x="602.10" y="316.22" width="18.85" height="8.00" fill="#313695"/>
<rect x="620.65" y="316.22" width="18.85" height="8.00" fill="#abd9e9"/>
<rect x="639.20" y="316.22" width="18.85" height="8.00" fill="#e0f3f8"/>
<rect x="657.75" y="316.22" width="18.85" height="8.00" fill="#fff0a8"/>
<rect x="676.30" y="316.22" width="18.85" height="8.00" fill="#ffffbf"/>
<rect x="694.85" y="316.22" width="18.85" height="8.00" fill="#e0f3f8"/>
<rect x="713.40" y="316.22" width="18.85" height="8.00" fill="#313695"/>
<rect x="731.95" y="316.22" width="18.85" height="8.00" fill="#e0f3f8"/>
<rect x="753.80" y="316.22" width="17.00" height="8.00" fill="#d9eff5"/>
<text x="775.0" y="319.37" font-size="6.2" fill="#222">WNT4</text>
<rect x="504.50" y="323.72" width="18.80" height="8.00" fill="#fee090"/>
<rect x="527.90" y="323.72" width="18.85" height="8.00" fill="#eef7da"/>
<rect x="546.45" y="323.72" width="18.85" height="8.00" fill="#abd9e9"/>
<rect x="565.00" y="323.72" width="18.85" height="8.00" fill="#fdc778"/>
<rect x="583.55" y="323.72" width="18.85" height="8.00" fill="#c6e6f1"/>
<rect x="602.10" y="323.72" width="18.85" height="8.00" fill="#4575b4"/>
<rect x="620.65" y="323.72" width="18.85" height="8.00" fill="#e0f3f8"/>
<rect x="639.20" y="323.72" width="18.85" height="8.00" fill="#eef7da"/>
<rect x="657.75" y="323.72" width="18.85" height="8.00" fill="#fdc778"/>
<rect x="676.30" y="323.72" width="18.85" height="8.00" fill="#e0f3f8"/>
<rect x="694.85" y="323.72" width="18.85" height="8.00" fill="#4575b4"/>
<rect x="713.40" y="323.72" width="18.85" height="8.00" fill="#fee090"/>
<rect x="731.95" y="323.72" width="18.85" height="8.00" fill="#c6e6f1"/>
<rect x="753.80" y="323.72" width="17.00" height="8.00" fill="#d8eef5"/>
<text x="775.0" y="326.91" font-size="6.2" fill="#222">COL4A5</text>
<rect x="504.50" y="331.23" width="18.80" height="8.00" fill="#313695"/>
<rect x="527.90" y="331.23" width="18.85" height="8.00" fill="#e0f3f8"/>
<rect x="546.45" y="331.23" width="18.85" height="8.00" fill="#c6e6f1"/>
<rect x="565.00" y="331.23" width="18.85" height="8.00" fill="#fee090"/>
<rect x="583.55" y="331.23" width="18.85" height="8.00" fill="#fdc778"/>
<rect x="602.10" y="331.23" width="18.85" height="8.00" fill="#313695"/>
<rect x="620.65" y="331.23" width="18.85" height="8.00" fill="#ffffbf"/>
<rect x="639.20" y="331.23" width="18.85" height="8.00" fill="#eef7da"/>
<rect x="657.75" y="331.23" width="18.85" height="8.00" fill="#eef7da"/>
<rect x="676.30" y="331.23" width="18.85" height="8.00" fill="#abd9e9"/>
<rect x="694.85" y="331.23" width="18.85" height="8.00" fill="#fee090"/>
<rect x="713.40" y="331.23" width="18.85" height="8.00" fill="#313695"/>
<rect x="731.95" y="331.23" width="18.85" height="8.00" fill="#e0f3f8"/>
<rect x="753.80" y="331.23" width="17.00" height="8.00" fill="#d6edf5"/>
<text x="775.0" y="334.44" font-size="6.2" fill="#222">TRIM63</text>
<rect x="504.50" y="338.73" width="18.80" height="8.00" fill="#313695"/>
<rect x="527.90" y="338.73" width="18.85" height="8.00" fill="#fee090"/>
<rect x="546.45" y="338.73" width="18.85" height="8.00" fill="#eef7da"/>
<rect x="565.00" y="338.73" width="18.85" height="8.00" fill="#eef7da"/>
<rect x="583.55" y="338.73" width="18.85" height="8.00" fill="#ffffbf"/>
<rect x="602.10" y="338.73" width="18.85" height="8.00" fill="#313695"/>
<rect x="620.65" y="338.73" width="18.85" height="8.00" fill="#c6e6f1"/>
<rect x="639.20" y="338.73" width="18.85" height="8.00" fill="#fff0a8"/>
<rect x="657.75" y="338.73" width="18.85" height="8.00" fill="#eef7da"/>
<rect x="676.30" y="338.73" width="18.85" height="8.00" fill="#c6e6f1"/>
<rect x="694.85" y="338.73" width="18.85" height="8.00" fill="#c6e6f1"/>
<rect x="713.40" y="338.73" width="18.85" height="8.00" fill="#74add1"/>
<rect x="731.95" y="338.73" width="18.85" height="8.00" fill="#c6e6f1"/>
<rect x="753.80" y="338.73" width="17.00" height="8.00" fill="#d5edf4"/>
<text x="775.0" y="341.98" font-size="6.2" fill="#222">KCNJ11</text>
<rect x="504.50" y="346.24" width="18.80" height="8.00" fill="#4575b4"/>
<rect x="527.90" y="346.24" width="18.85" height="8.00" fill="#abd9e9"/>
<rect x="546.45" y="346.24" width="18.85" height="8.00" fill="#fdc778"/>
<rect x="565.00" y="346.24" width="18.85" height="8.00" fill="#c6e6f1"/>
<rect x="583.55" y="346.24" width="18.85" height="8.00" fill="#5d91c3"/>
<rect x="602.10" y="346.24" width="18.85" height="8.00" fill="#ffffbf"/>
<rect x="620.65" y="346.24" width="18.85" height="8.00" fill="#fdc778"/>
<rect x="639.20" y="346.24" width="18.85" height="8.00" fill="#abd9e9"/>
<rect x="657.75" y="346.24" width="18.85" height="8.00" fill="#e0f3f8"/>
<rect x="676.30" y="346.24" width="18.85" height="8.00" fill="#abd9e9"/>
<rect x="694.85" y="346.24" width="18.85" height="8.00" fill="#ffffbf"/>
<rect x="713.40" y="346.24" width="18.85" height="8.00" fill="#74add1"/>
<rect x="731.95" y="346.24" width="18.85" height="8.00" fill="#e0f3f8"/>
<rect x="753.80" y="346.24" width="17.00" height="8.00" fill="#d4ecf4"/>
<text x="775.0" y="349.51" font-size="6.2" fill="#222">KCNC1</text>
<rect x="504.50" y="353.74" width="18.80" height="8.00" fill="#bebebe"/>
<rect x="527.90" y="353.74" width="18.85" height="8.00" fill="#eef7da"/>
<rect x="546.45" y="353.74" width="18.85" height="8.00" fill="#abd9e9"/>
<rect x="565.00" y="353.74" width="18.85" height="8.00" fill="#e0f3f8"/>
<rect x="583.55" y="353.74" width="18.85" height="8.00" fill="#abd9e9"/>
<rect x="602.10" y="353.74" width="18.85" height="8.00" fill="#bebebe"/>
<rect x="620.65" y="353.74" width="18.85" height="8.00" fill="#e0f3f8"/>
<rect x="639.20" y="353.74" width="18.85" height="8.00" fill="#e0f3f8"/>
<rect x="657.75" y="353.74" width="18.85" height="8.00" fill="#bebebe"/>
<rect x="676.30" y="353.74" width="18.85" height="8.00" fill="#abd9e9"/>
<rect x="694.85" y="353.74" width="18.85" height="8.00" fill="#bebebe"/>
<rect x="713.40" y="353.74" width="18.85" height="8.00" fill="#bebebe"/>
<rect x="731.95" y="353.74" width="18.85" height="8.00" fill="#e0f3f8"/>
<rect x="753.80" y="353.74" width="17.00" height="8.00" fill="#d2ebf4"/>
<text x="775.0" y="357.05" font-size="6.2" fill="#222">KCNK9</text>
<rect x="504.50" y="361.24" width="18.80" height="8.00" fill="#eef7da"/>
<rect x="527.90" y="361.24" width="18.85" height="8.00" fill="#fff0a8"/>
<rect x="546.45" y="361.24" width="18.85" height="8.00" fill="#90c3dd"/>
<rect x="565.00" y="361.24" width="18.85" height="8.00" fill="#c6e6f1"/>
<rect x="583.55" y="361.24" width="18.85" height="8.00" fill="#fdc778"/>
<rect x="602.10" y="361.24" width="18.85" height="8.00" fill="#90c3dd"/>
<rect x="620.65" y="361.24" width="18.85" height="8.00" fill="#e0f3f8"/>
<rect x="639.20" y="361.24" width="18.85" height="8.00" fill="#fff0a8"/>
<rect x="657.75" y="361.24" width="18.85" height="8.00" fill="#e0f3f8"/>
<rect x="676.30" y="361.24" width="18.85" height="8.00" fill="#abd9e9"/>
<rect x="694.85" y="361.24" width="18.85" height="8.00" fill="#90c3dd"/>
<rect x="713.40" y="361.24" width="18.85" height="8.00" fill="#313695"/>
<rect x="731.95" y="361.24" width="18.85" height="8.00" fill="#fff0a8"/>
<rect x="753.80" y="361.24" width="17.00" height="8.00" fill="#d1ebf3"/>
<text x="775.0" y="364.58" font-size="6.2" fill="#222">ATP1B1</text>
<rect x="504.50" y="368.75" width="18.80" height="8.00" fill="#313695"/>
<rect x="527.90" y="368.75" width="18.85" height="8.00" fill="#e0f3f8"/>
<rect x="546.45" y="368.75" width="18.85" height="8.00" fill="#e0f3f8"/>
<rect x="565.00" y="368.75" width="18.85" height="8.00" fill="#ffffbf"/>
<rect x="583.55" y="368.75" width="18.85" height="8.00" fill="#ffffbf"/>
<rect x="602.10" y="368.75" width="18.85" height="8.00" fill="#4575b4"/>
<rect x="620.65" y="368.75" width="18.85" height="8.00" fill="#e0f3f8"/>
<rect x="639.20" y="368.75" width="18.85" height="8.00" fill="#fff0a8"/>
<rect x="657.75" y="368.75" width="18.85" height="8.00" fill="#e0f3f8"/>
<rect x="676.30" y="368.75" width="18.85" height="8.00" fill="#c6e6f1"/>
<rect x="694.85" y="368.75" width="18.85" height="8.00" fill="#fee090"/>
<rect x="713.40" y="368.75" width="18.85" height="8.00" fill="#fee090"/>
<rect x="731.95" y="368.75" width="18.85" height="8.00" fill="#c6e6f1"/>
<rect x="753.80" y="368.75" width="17.00" height="8.00" fill="#d0eaf3"/>
<text x="775.0" y="372.12" font-size="6.2" fill="#222">SGCA</text>
<rect x="504.50" y="376.25" width="18.80" height="8.00" fill="#bebebe"/>
<rect x="527.90" y="376.25" width="18.85" height="8.00" fill="#c6e6f1"/>
<rect x="546.45" y="376.25" width="18.85" height="8.00" fill="#abd9e9"/>
<rect x="565.00" y="376.25" width="18.85" height="8.00" fill="#c6e6f1"/>
<rect x="583.55" y="376.25" width="18.85" height="8.00" fill="#e0f3f8"/>
<rect x="602.10" y="376.25" width="18.85" height="8.00" fill="#fff0a8"/>
<rect x="620.65" y="376.25" width="18.85" height="8.00" fill="#ffffbf"/>
<rect x="639.20" y="376.25" width="18.85" height="8.00" fill="#fee090"/>
<rect x="657.75" y="376.25" width="18.85" height="8.00" fill="#bebebe"/>
<rect x="676.30" y="376.25" width="18.85" height="8.00" fill="#5d91c3"/>
<rect x="694.85" y="376.25" width="18.85" height="8.00" fill="#bebebe"/>
<rect x="713.40" y="376.25" width="18.85" height="8.00" fill="#bebebe"/>
<rect x="731.95" y="376.25" width="18.85" height="8.00" fill="#e0f3f8"/>
<rect x="753.80" y="376.25" width="17.00" height="8.00" fill="#cee9f3"/>
<text x="775.0" y="379.65" font-size="6.2" fill="#222">KCNJ3</text>
<rect x="504.50" y="383.76" width="18.80" height="8.00" fill="#313695"/>
<rect x="527.90" y="383.76" width="18.85" height="8.00" fill="#fee090"/>
<rect x="546.45" y="383.76" width="18.85" height="8.00" fill="#fff0a8"/>
<rect x="565.00" y="383.76" width="18.85" height="8.00" fill="#bebebe"/>
<rect x="583.55" y="383.76" width="18.85" height="8.00" fill="#bebebe"/>
<rect x="602.10" y="383.76" width="18.85" height="8.00" fill="#5d91c3"/>
<rect x="620.65" y="383.76" width="18.85" height="8.00" fill="#bebebe"/>
<rect x="639.20" y="383.76" width="18.85" height="8.00" fill="#e0f3f8"/>
<rect x="657.75" y="383.76" width="18.85" height="8.00" fill="#e0f3f8"/>
<rect x="676.30" y="383.76" width="18.85" height="8.00" fill="#abd9e9"/>
<rect x="694.85" y="383.76" width="18.85" height="8.00" fill="#5d91c3"/>
<rect x="713.40" y="383.76" width="18.85" height="8.00" fill="#eef7da"/>
<rect x="731.95" y="383.76" width="18.85" height="8.00" fill="#e0f3f8"/>
<rect x="753.80" y="383.76" width="17.00" height="8.00" fill="#cde9f2"/>
<text x="775.0" y="387.19" font-size="6.2" fill="#222">DVL1</text>
<rect x="504.50" y="391.26" width="18.80" height="8.00" fill="#abd9e9"/>
<rect x="527.90" y="391.26" width="18.85" height="8.00" fill="#c6e6f1"/>
<rect x="546.45" y="391.26" width="18.85" height="8.00" fill="#fee090"/>
<rect x="565.00" y="391.26" width="18.85" height="8.00" fill="#abd9e9"/>
<rect x="583.55" y="391.26" width="18.85" height="8.00" fill="#313695"/>
<rect x="602.10" y="391.26" width="18.85" height="8.00" fill="#abd9e9"/>
<rect x="620.65" y="391.26" width="18.85" height="8.00" fill="#90c3dd"/>
<rect x="639.20" y="391.26" width="18.85" height="8.00" fill="#e0f3f8"/>
<rect x="657.75" y="391.26" width="18.85" height="8.00" fill="#fdc778"/>
<rect x="676.30" y="391.26" width="18.85" height="8.00" fill="#c6e6f1"/>
<rect x="694.85" y="391.26" width="18.85" height="8.00" fill="#c6e6f1"/>
<rect x="713.40" y="391.26" width="18.85" height="8.00" fill="#e0f3f8"/>
<rect x="731.95" y="391.26" width="18.85" height="8.00" fill="#fff0a8"/>
<rect x="753.80" y="391.26" width="17.00" height="8.00" fill="#cbe8f2"/>
<text x="775.0" y="394.72" font-size="6.2" fill="#222">DTNBP1</text>
<rect x="504.50" y="398.76" width="18.80" height="8.00" fill="#ffffbf"/>
<rect x="527.90" y="398.76" width="18.85" height="8.00" fill="#ffffbf"/>
<rect x="546.45" y="398.76" width="18.85" height="8.00" fill="#c6e6f1"/>
<rect x="565.00" y="398.76" width="18.85" height="8.00" fill="#c6e6f1"/>
<rect x="583.55" y="398.76" width="18.85" height="8.00" fill="#fdc778"/>
<rect x="602.10" y="398.76" width="18.85" height="8.00" fill="#313695"/>
<rect x="620.65" y="398.76" width="18.85" height="8.00" fill="#5d91c3"/>
<rect x="639.20" y="398.76" width="18.85" height="8.00" fill="#c6e6f1"/>
<rect x="657.75" y="398.76" width="18.85" height="8.00" fill="#fdc778"/>
<rect x="676.30" y="398.76" width="18.85" height="8.00" fill="#eef7da"/>
<rect x="694.85" y="398.76" width="18.85" height="8.00" fill="#fff0a8"/>
<rect x="713.40" y="398.76" width="18.85" height="8.00" fill="#e0f3f8"/>
<rect x="731.95" y="398.76" width="18.85" height="8.00" fill="#90c3dd"/>
<rect x="753.80" y="398.76" width="17.00" height="8.00" fill="#cae7f2"/>
<text x="775.0" y="402.26" font-size="6.2" fill="#222">GDNF</text>
<rect x="504.50" y="406.27" width="18.80" height="8.00" fill="#bebebe"/>
<rect x="527.90" y="406.27" width="18.85" height="8.00" fill="#ffffbf"/>
<rect x="546.45" y="406.27" width="18.85" height="8.00" fill="#c6e6f1"/>
<rect x="565.00" y="406.27" width="18.85" height="8.00" fill="#c6e6f1"/>
<rect x="583.55" y="406.27" width="18.85" height="8.00" fill="#c6e6f1"/>
<rect x="602.10" y="406.27" width="18.85" height="8.00" fill="#3b56a5"/>
<rect x="620.65" y="406.27" width="18.85" height="8.00" fill="#eef7da"/>
<rect x="639.20" y="406.27" width="18.85" height="8.00" fill="#90c3dd"/>
<rect x="657.75" y="406.27" width="18.85" height="8.00" fill="#e0f3f8"/>
<rect x="676.30" y="406.27" width="18.85" height="8.00" fill="#abd9e9"/>
<rect x="694.85" y="406.27" width="18.85" height="8.00" fill="#bebebe"/>
<rect x="713.40" y="406.27" width="18.85" height="8.00" fill="#bebebe"/>
<rect x="731.95" y="406.27" width="18.85" height="8.00" fill="#e0f3f8"/>
<rect x="753.80" y="406.27" width="17.00" height="8.00" fill="#c9e7f1"/>
<text x="775.0" y="409.79" font-size="6.2" fill="#222">SYT13</text>
<rect x="504.50" y="413.77" width="18.80" height="8.00" fill="#5d91c3"/>
<rect x="527.90" y="413.77" width="18.85" height="8.00" fill="#ffffbf"/>
<rect x="546.45" y="413.77" width="18.85" height="8.00" fill="#c6e6f1"/>
<rect x="565.00" y="413.77" width="18.85" height="8.00" fill="#e0f3f8"/>
<rect x="583.55" y="413.77" width="18.85" height="8.00" fill="#fff0a8"/>
<rect x="602.10" y="413.77" width="18.85" height="8.00" fill="#3b56a5"/>
<rect x="620.65" y="413.77" width="18.85" height="8.00" fill="#fff0a8"/>
<rect x="639.20" y="413.77" width="18.85" height="8.00" fill="#90c3dd"/>
<rect x="657.75" y="413.77" width="18.85" height="8.00" fill="#eef7da"/>
<rect x="676.30" y="413.77" width="18.85" height="8.00" fill="#4575b4"/>
<rect x="694.85" y="413.77" width="18.85" height="8.00" fill="#fff0a8"/>
<rect x="713.40" y="413.77" width="18.85" height="8.00" fill="#fdc778"/>
<rect x="731.95" y="413.77" width="18.85" height="8.00" fill="#90c3dd"/>
<rect x="753.80" y="413.77" width="17.00" height="8.00" fill="#c7e6f1"/>
<text x="775.0" y="417.33" font-size="6.2" fill="#222">SCN1B</text>
<rect x="504.50" y="421.28" width="18.80" height="8.00" fill="#313695"/>
<rect x="527.90" y="421.28" width="18.85" height="8.00" fill="#c6e6f1"/>
<rect x="546.45" y="421.28" width="18.85" height="8.00" fill="#eef7da"/>
<rect x="565.00" y="421.28" width="18.85" height="8.00" fill="#bebebe"/>
<rect x="583.55" y="421.28" width="18.85" height="8.00" fill="#bebebe"/>
<rect x="602.10" y="421.28" width="18.85" height="8.00" fill="#313695"/>
<rect x="620.65" y="421.28" width="18.85" height="8.00" fill="#c6e6f1"/>
<rect x="639.20" y="421.28" width="18.85" height="8.00" fill="#e0f3f8"/>
<rect x="657.75" y="421.28" width="18.85" height="8.00" fill="#c6e6f1"/>
<rect x="676.30" y="421.28" width="18.85" height="8.00" fill="#abd9e9"/>
<rect x="694.85" y="421.28" width="18.85" height="8.00" fill="#d73027"/>
<rect x="713.40" y="421.28" width="18.85" height="8.00" fill="#fee090"/>
<rect x="731.95" y="421.28" width="18.85" height="8.00" fill="#90c3dd"/>
<rect x="753.80" y="421.28" width="17.00" height="8.00" fill="#c6e5f1"/>
<text x="775.0" y="424.86" font-size="6.2" fill="#222">CACNA1S</text>
<rect x="504.50" y="428.78" width="18.80" height="8.00" fill="#3b56a5"/>
<rect x="527.90" y="428.78" width="18.85" height="8.00" fill="#90c3dd"/>
<rect x="546.45" y="428.78" width="18.85" height="8.00" fill="#eef7da"/>
<rect x="565.00" y="428.78" width="18.85" height="8.00" fill="#bebebe"/>
<rect x="583.55" y="428.78" width="18.85" height="8.00" fill="#bebebe"/>
<rect x="602.10" y="428.78" width="18.85" height="8.00" fill="#313695"/>
<rect x="620.65" y="428.78" width="18.85" height="8.00" fill="#bebebe"/>
<rect x="639.20" y="428.78" width="18.85" height="8.00" fill="#fee090"/>
<rect x="657.75" y="428.78" width="18.85" height="8.00" fill="#e0f3f8"/>
<rect x="676.30" y="428.78" width="18.85" height="8.00" fill="#eef7da"/>
<rect x="694.85" y="428.78" width="18.85" height="8.00" fill="#fff0a8"/>
<rect x="713.40" y="428.78" width="18.85" height="8.00" fill="#4575b4"/>
<rect x="731.95" y="428.78" width="18.85" height="8.00" fill="#abd9e9"/>
<rect x="753.80" y="428.78" width="17.00" height="8.00" fill="#c4e5f0"/>
<text x="775.0" y="432.40" font-size="6.2" fill="#222">CAPN3</text>
<rect x="504.50" y="436.28" width="18.80" height="8.00" fill="#bebebe"/>
<rect x="527.90" y="436.28" width="18.85" height="8.00" fill="#e0f3f8"/>
<rect x="546.45" y="436.28" width="18.85" height="8.00" fill="#c6e6f1"/>
<rect x="565.00" y="436.28" width="18.85" height="8.00" fill="#eef7da"/>
<rect x="583.55" y="436.28" width="18.85" height="8.00" fill="#74add1"/>
<rect x="602.10" y="436.28" width="18.85" height="8.00" fill="#5d91c3"/>
<rect x="620.65" y="436.28" width="18.85" height="8.00" fill="#eef7da"/>
<rect x="639.20" y="436.28" width="18.85" height="8.00" fill="#ffffbf"/>
<rect x="657.75" y="436.28" width="18.85" height="8.00" fill="#bebebe"/>
<rect x="676.30" y="436.28" width="18.85" height="8.00" fill="#90c3dd"/>
<rect x="694.85" y="436.28" width="18.85" height="8.00" fill="#bebebe"/>
<rect x="713.40" y="436.28" width="18.85" height="8.00" fill="#bebebe"/>
<rect x="731.95" y="436.28" width="18.85" height="8.00" fill="#c6e6f1"/>
<rect x="753.80" y="436.28" width="17.00" height="8.00" fill="#c3e4f0"/>
<text x="775.0" y="439.93" font-size="6.2" fill="#222">RIC3</text>
<rect x="504.50" y="443.79" width="18.80" height="8.00" fill="#bebebe"/>
<rect x="527.90" y="443.79" width="18.85" height="8.00" fill="#fee090"/>
<rect x="546.45" y="443.79" width="18.85" height="8.00" fill="#e0f3f8"/>
<rect x="565.00" y="443.79" width="18.85" height="8.00" fill="#e0f3f8"/>
<rect x="583.55" y="443.79" width="18.85" height="8.00" fill="#c6e6f1"/>
<rect x="602.10" y="443.79" width="18.85" height="8.00" fill="#313695"/>
<rect x="620.65" y="443.79" width="18.85" height="8.00" fill="#fff0a8"/>
<rect x="639.20" y="443.79" width="18.85" height="8.00" fill="#abd9e9"/>
<rect x="657.75" y="443.79" width="18.85" height="8.00" fill="#e0f3f8"/>
<rect x="676.30" y="443.79" width="18.85" height="8.00" fill="#90c3dd"/>
<rect x="694.85" y="443.79" width="18.85" height="8.00" fill="#bebebe"/>
<rect x="713.40" y="443.79" width="18.85" height="8.00" fill="#bebebe"/>
<rect x="731.95" y="443.79" width="18.85" height="8.00" fill="#90c3dd"/>
<rect x="753.80" y="443.79" width="17.00" height="8.00" fill="#c2e3f0"/>
<text x="775.0" y="447.47" font-size="6.2" fill="#222">CLCN1</text>
<rect x="504.50" y="451.29" width="18.80" height="8.00" fill="#313695"/>
<rect x="527.90" y="451.29" width="18.85" height="8.00" fill="#bebebe"/>
<rect x="546.45" y="451.29" width="18.85" height="8.00" fill="#bebebe"/>
<rect x="565.00" y="451.29" width="18.85" height="8.00" fill="#abd9e9"/>
<rect x="583.55" y="451.29" width="18.85" height="8.00" fill="#eef7da"/>
<rect x="602.10" y="451.29" width="18.85" height="8.00" fill="#abd9e9"/>
<rect x="620.65" y="451.29" width="18.85" height="8.00" fill="#fff0a8"/>
<rect x="639.20" y="451.29" width="18.85" height="8.00" fill="#e0f3f8"/>
<rect x="657.75" y="451.29" width="18.85" height="8.00" fill="#fdc778"/>
<rect x="676.30" y="451.29" width="18.85" height="8.00" fill="#90c3dd"/>
<rect x="694.85" y="451.29" width="18.85" height="8.00" fill="#eef7da"/>
<rect x="713.40" y="451.29" width="18.85" height="8.00" fill="#5d91c3"/>
<rect x="731.95" y="451.29" width="18.85" height="8.00" fill="#74add1"/>
<rect x="753.80" y="451.29" width="17.00" height="8.00" fill="#c0e3ef"/>
<text x="775.0" y="455.00" font-size="6.2" fill="#222">SPEG</text>
<rect x="504.50" y="458.80" width="18.80" height="8.00" fill="#4575b4"/>
<rect x="527.90" y="458.80" width="18.85" height="8.00" fill="#bebebe"/>
<rect x="546.45" y="458.80" width="18.85" height="8.00" fill="#e0f3f8"/>
<rect x="565.00" y="458.80" width="18.85" height="8.00" fill="#bebebe"/>
<rect x="583.55" y="458.80" width="18.85" height="8.00" fill="#bebebe"/>
<rect x="602.10" y="458.80" width="18.85" height="8.00" fill="#313695"/>
<rect x="620.65" y="458.80" width="18.85" height="8.00" fill="#ffffbf"/>
<rect x="639.20" y="458.80" width="18.85" height="8.00" fill="#e0f3f8"/>
<rect x="657.75" y="458.80" width="18.85" height="8.00" fill="#e0f3f8"/>
<rect x="676.30" y="458.80" width="18.85" height="8.00" fill="#abd9e9"/>
<rect x="694.85" y="458.80" width="18.85" height="8.00" fill="#bebebe"/>
<rect x="713.40" y="458.80" width="18.85" height="8.00" fill="#bebebe"/>
<rect x="731.95" y="458.80" width="18.85" height="8.00" fill="#74add1"/>
<rect x="753.80" y="458.80" width="17.00" height="8.00" fill="#bfe2ef"/>
<text x="775.0" y="462.54" font-size="6.2" fill="#222">KCNT1</text>
<rect x="504.50" y="466.30" width="18.80" height="8.00" fill="#3b56a5"/>
<rect x="527.90" y="466.30" width="18.85" height="8.00" fill="#90c3dd"/>
<rect x="546.45" y="466.30" width="18.85" height="8.00" fill="#90c3dd"/>
<rect x="565.00" y="466.30" width="18.85" height="8.00" fill="#c6e6f1"/>
<rect x="583.55" y="466.30" width="18.85" height="8.00" fill="#74add1"/>
<rect x="602.10" y="466.30" width="18.85" height="8.00" fill="#313695"/>
<rect x="620.65" y="466.30" width="18.85" height="8.00" fill="#fee090"/>
<rect x="639.20" y="466.30" width="18.85" height="8.00" fill="#abd9e9"/>
<rect x="657.75" y="466.30" width="18.85" height="8.00" fill="#90c3dd"/>
<rect x="676.30" y="466.30" width="18.85" height="8.00" fill="#abd9e9"/>
<rect x="694.85" y="466.30" width="18.85" height="8.00" fill="#313695"/>
<rect x="713.40" y="466.30" width="18.85" height="8.00" fill="#313695"/>
<rect x="731.95" y="466.30" width="18.85" height="8.00" fill="#e0f3f8"/>
<rect x="753.80" y="466.30" width="17.00" height="8.00" fill="#94c9e4"/>
<text x="775.0" y="470.07" font-size="6.2" fill="#222">COL4A4</text>
<rect x="504.50" y="473.80" width="18.80" height="8.00" fill="#3b56a5"/>
<rect x="527.90" y="473.80" width="18.85" height="8.00" fill="#90c3dd"/>
<rect x="546.45" y="473.80" width="18.85" height="8.00" fill="#abd9e9"/>
<rect x="565.00" y="473.80" width="18.85" height="8.00" fill="#e0f3f8"/>
<rect x="583.55" y="473.80" width="18.85" height="8.00" fill="#eef7da"/>
<rect x="602.10" y="473.80" width="18.85" height="8.00" fill="#313695"/>
<rect x="620.65" y="473.80" width="18.85" height="8.00" fill="#e0f3f8"/>
<rect x="639.20" y="473.80" width="18.85" height="8.00" fill="#abd9e9"/>
<rect x="657.75" y="473.80" width="18.85" height="8.00" fill="#5d91c3"/>
<rect x="676.30" y="473.80" width="18.85" height="8.00" fill="#90c3dd"/>
<rect x="694.85" y="473.80" width="18.85" height="8.00" fill="#313695"/>
<rect x="713.40" y="473.80" width="18.85" height="8.00" fill="#313695"/>
<rect x="731.95" y="473.80" width="18.85" height="8.00" fill="#eef7da"/>
<rect x="753.80" y="473.80" width="17.00" height="8.00" fill="#4f87c3"/>
<rect x="775.50" y="472.10" width="33.70" height="9.20" fill="#26268a"/>
<text x="776.4" y="479.5" font-size="7.6" fill="#fff" textLength="28.9" lengthAdjust="spacingAndGlyphs">COL4A3</text>
<text transform="translate(499.0,125.6) rotate(-90)" font-size="9.0" text-anchor="middle" fill="#222">FSHD up</text>
<text transform="translate(499.0,376.2) rotate(-90)" font-size="9.0" text-anchor="middle" fill="#222">FSHD down</text>
<text transform="translate(516.2,486.6) rotate(-90)" font-size="6.6" text-anchor="end" fill="#222">GSE138768 (DUX4)</text>
<text transform="translate(537.1,486.6) rotate(-90)" font-size="6.9" text-anchor="end" fill="#222">GSE10760</text>
<text transform="translate(556.1,486.6) rotate(-90)" font-size="6.9" text-anchor="end" fill="#222">GSE15090</text>
<text transform="translate(575.0,486.6) rotate(-90)" font-size="6.9" text-anchor="end" fill="#222">GSE26061</text>
<text transform="translate(594.0,486.6) rotate(-90)" font-size="6.9" text-anchor="end" fill="#222">GSE26145</text>
<text transform="translate(613.0,486.6) rotate(-90)" font-size="6.9" text-anchor="end" fill="#222">GSE26852</text>
<text transform="translate(631.9,486.6) rotate(-90)" font-size="6.9" text-anchor="end" fill="#222">GSE36398</text>
<text transform="translate(650.9,486.6) rotate(-90)" font-size="6.9" text-anchor="end" fill="#222">GSE56787</text>
<text transform="translate(669.9,486.6) rotate(-90)" font-size="6.9" text-anchor="end" fill="#222">GSE56787celllines</text>
<text transform="translate(688.9,486.6) rotate(-90)" font-size="6.9" text-anchor="end" fill="#222">GSE115650</text>
<text transform="translate(707.8,486.6) rotate(-90)" font-size="6.9" text-anchor="end" fill="#222">GSE123468_12</text>
<text transform="translate(726.8,486.6) rotate(-90)" font-size="6.9" text-anchor="end" fill="#222">GSE123468_16</text>
<text transform="translate(745.8,486.6) rotate(-90)" font-size="6.9" text-anchor="end" fill="#222">EGAD00001008337</text>
<text transform="translate(764.6,486.6) rotate(-90)" font-size="6.6" text-anchor="end" fill="#ff2020" font-weight="bold">Random Effects MA</text>
<rect x="507.00" y="557.80" width="5.80" height="5.80" fill="#4b0055"/>
<text x="514.5" y="563.3" font-size="7.1" fill="#111">HG−U133A+B</text>
<rect x="507.00" y="565.20" width="5.80" height="5.80" fill="#45307a"/>
<text x="514.5" y="570.7" font-size="7.1" fill="#111">HG−U133_Plus_2</text>
<rect x="575.00" y="557.80" width="5.80" height="5.80" fill="#1d4e89"/>
<text x="582.5" y="563.3" font-size="7.1" fill="#111">HuEx10stv2_Hs_ENSG</text>
<rect x="575.00" y="565.20" width="5.80" height="5.80" fill="#006f99"/>
<text x="582.5" y="570.7" font-size="7.1" fill="#111">HuEx−1_0−st</text>
<rect x="661.00" y="557.80" width="5.80" height="5.80" fill="#008b99"/>
<text x="668.5" y="563.3" font-size="7.1" fill="#111">HumanHT−12 V3.0</text>
<rect x="661.00" y="565.20" width="5.80" height="5.80" fill="#00a88c"/>
<text x="668.5" y="570.7" font-size="7.1" fill="#111">HuGene−1_0−st</text>
<rect x="733.50" y="557.80" width="5.80" height="5.80" fill="#00c07c"/>
<text x="741.0" y="563.3" font-size="7.1" fill="#111">HiSeq 2500</text>
<rect x="733.50" y="565.20" width="5.80" height="5.80" fill="#6dcd59"/>
<text x="741.0" y="570.7" font-size="7.1" fill="#111">NextSeq 500</text>
</g>
<g id="forest">
<text x="3.2" y="469.2" font-size="10.4" font-weight="bold" fill="#000">c)</text>
<rect x="0.00" y="479.00" width="493.60" height="20.30" fill="#4e81bd"/>
<text x="15.4" y="492.8" font-size="10.4" font-weight="bold" fill="#fff" textLength="218.6" lengthAdjust="spacingAndGlyphs">Random−Effects Meta−Analysis of COL4A3*</text>
<text x="2.6" y="511.2" font-size="10.4" font-weight="bold" fill="#000" textLength="167.4" lengthAdjust="spacingAndGlyphs">ENSEMBL−ID: ENSG00000169031</text>
<text x="2.6" y="526.3" font-size="10.4" font-weight="bold" fill="#000" textLength="87.2" lengthAdjust="spacingAndGlyphs">ENTREZ−ID: 1285</text>
<text x="495.3" y="534.9" font-size="7.5" text-anchor="end" font-weight="bold" fill="#000" textLength="121.9" lengthAdjust="spacingAndGlyphs">*in 1935 list of Schätzl et al. (2023)</text>
<line x1="0.0" y1="536.9" x2="498.5" y2="536.9" stroke="#000" stroke-width="0.9"/>
<text x="162.0" y="546.4" font-size="9.0" text-anchor="middle" font-weight="bold" fill="#000" textLength="106.3" lengthAdjust="spacingAndGlyphs">Mean (SD) on log2−scale</text>
<line x1="92.0" y1="548.1" x2="232.4" y2="548.1" stroke="#000" stroke-width="0.8"/>
<text x="6.8" y="558.8" font-size="9.0" font-weight="bold" fill="#000">Dataset</text>
<text x="95.4" y="558.7" font-size="8.9" font-weight="bold" fill="#000">FSHD</text>
<text x="158.4" y="558.7" font-size="8.9" font-weight="bold" fill="#000">CTRL</text>
<text x="394.9" y="558.4" font-size="9.0" font-weight="bold" fill="#000" textLength="94.6" lengthAdjust="spacingAndGlyphs">STD log2−FC (95% CI)</text>
<rect x="0.00" y="563.60" width="497.60" height="12.60" fill="#efefef"/>
<rect x="0.00" y="587.50" width="497.60" height="11.80" fill="#efefef"/>
<rect x="0.00" y="611.20" width="497.60" height="12.80" fill="#efefef"/>
<rect x="0.00" y="637.00" width="497.60" height="12.80" fill="#efefef"/>
<rect x="0.00" y="662.60" width="497.60" height="12.80" fill="#efefef"/>
<rect x="0.00" y="688.20" width="497.60" height="12.40" fill="#efefef"/>
<rect x="0.00" y="713.40" width="497.60" height="12.80" fill="#efefef"/>
<rect x="0.00" y="739.00" width="497.60" height="12.80" fill="#efefef"/>
<rect x="0.00" y="764.60" width="497.60" height="12.80" fill="#efefef"/>
<rect x="0.00" y="791.20" width="497.60" height="11.20" fill="#efefef"/>
<line x1="0.0" y1="563.2" x2="498.5" y2="563.2" stroke="#000" stroke-width="0.9"/>
<line x1="0.0" y1="790.6" x2="498.5" y2="790.6" stroke="#000" stroke-width="0.9"/>
<line x1="0.0" y1="585.9" x2="497.6" y2="585.9" stroke="#777" stroke-width="0.9" stroke-dasharray="1.6 1.9"/>
<line x1="375.0" y1="564.0" x2="375.0" y2="827.0" stroke="#666" stroke-width="0.9" stroke-dasharray="1.8 2.6"/>
<text x="3.8" y="583.6" font-size="7.5" fill="#000">Not included in meta−analysis</text>
<text x="3.8" y="608.1" font-size="8.9" font-weight="bold" fill="#000">Microarray</text>
<text x="3.8" y="710.7" font-size="8.9" font-weight="bold" fill="#000">RNA−Seq</text>
<text x="6.4" y="573.9" font-size="8.9" fill="#111">GSE138768 (DUX4)</text>
<text x="95.2" y="573.9" font-size="8.9" fill="#111">−1.2 (0.537)</text>
<text x="158.4" y="573.9" font-size="8.9" fill="#111">−0.00437 (0.566)</text>
<line x1="320.7" y1="570.8" x2="371.7" y2="570.8" stroke="#1f78b8" stroke-width="1.1"/>
<rect x="344.89" y="569.49" width="2.62" height="2.62" fill="#1f78b8"/>
<text x="394.9" y="574.0" font-size="9.05" fill="#1f78b8">−1.89 (−3.56 to −0.216)</text>
<text x="6.4" y="620.7" font-size="8.9" fill="#111">GSE10760</text>
<text x="95.2" y="620.7" font-size="8.9" fill="#111">6.91 (0.255)</text>
<text x="158.4" y="620.7" font-size="8.9" fill="#111">7.17 (0.191)</text>
<line x1="347.7" y1="617.6" x2="367.5" y2="617.6" stroke="#1f78b8" stroke-width="1.1"/>
<rect x="356.99" y="616.96" width="1.28" height="1.28" fill="#1f78b8"/>
<text x="394.9" y="620.8" font-size="9.05" fill="#1f78b8">−1.14 (−1.79 to −0.489)</text>
<text x="6.4" y="633.6" font-size="8.9" fill="#111">GSE15090</text>
<text x="95.2" y="633.6" font-size="8.9" fill="#111">6.43 (0.531)</text>
<text x="158.4" y="633.6" font-size="8.9" fill="#111">6.95 (0.45)</text>
<line x1="340.1" y1="630.5" x2="380.5" y2="630.5" stroke="#111" stroke-width="1.1"/>
<rect x="358.79" y="629.01" width="2.98" height="2.98" fill="#111"/>
<text x="394.9" y="633.7" font-size="9.05" fill="#111">−0.966 (−2.29 to 0.358)</text>
<text x="6.4" y="646.5" font-size="8.9" fill="#111">GSE26061</text>
<text x="95.2" y="646.5" font-size="8.9" fill="#111">4.34 (0.0857)</text>
<text x="158.4" y="646.5" font-size="8.9" fill="#111">4.5 (0.427)</text>
<line x1="349.5" y1="643.4" x2="385.9" y2="643.4" stroke="#111" stroke-width="1.1"/>
<rect x="366.41" y="642.03" width="2.74" height="2.74" fill="#111"/>
<text x="394.9" y="646.6" font-size="9.05" fill="#111">−0.474 (−1.67 to 0.718)</text>
<text x="6.4" y="659.3" font-size="8.9" fill="#111">GSE26145</text>
<text x="95.2" y="659.3" font-size="8.9" fill="#111">5.09 (0.277)</text>
<text x="158.4" y="659.3" font-size="8.9" fill="#111">5.17 (0.17)</text>
<line x1="351.8" y1="656.2" x2="389.1" y2="656.2" stroke="#111" stroke-width="1.1"/>
<rect x="369.10" y="654.83" width="2.74" height="2.74" fill="#111"/>
<text x="394.9" y="659.4" font-size="9.05" fill="#111">−0.297 (−1.52 to 0.927)</text>
<text x="6.4" y="672.1" font-size="8.9" fill="#111">GSE26852</text>
<text x="95.2" y="672.1" font-size="8.9" fill="#111">7.32 (0.191)</text>
<text x="158.4" y="672.1" font-size="8.9" fill="#111">8.62 (0.353)</text>
<line x1="278.5" y1="669.0" x2="343.9" y2="669.0" stroke="#1f78b8" stroke-width="1.1"/>
<rect x="308.43" y="666.29" width="5.42" height="5.42" fill="#1f78b8"/>
<text x="394.9" y="672.2" font-size="9.05" fill="#1f78b8">−4.19 (−6.33 to −2.04)</text>
<text x="6.4" y="684.9" font-size="8.9" fill="#111">GSE36398</text>
<text x="95.2" y="684.9" font-size="8.9" fill="#111">7.85 (0.2)</text>
<text x="158.4" y="684.9" font-size="8.9" fill="#111">7.92 (0.182)</text>
<line x1="357.5" y1="681.8" x2="381.7" y2="681.8" stroke="#111" stroke-width="1.1"/>
<rect x="368.86" y="681.10" width="1.40" height="1.40" fill="#111"/>
<text x="394.9" y="685.0" font-size="9.05" fill="#111">−0.357 (−1.15 to 0.438)</text>
<text x="6.4" y="722.9" font-size="8.9" fill="#111">GSE56787</text>
<text x="95.2" y="722.9" font-size="8.9" fill="#111">0.119 (0.792)</text>
<text x="158.4" y="722.9" font-size="8.9" fill="#111">0.939 (0.763)</text>
<line x1="345.4" y1="719.8" x2="373.6" y2="719.8" stroke="#1f78b8" stroke-width="1.1"/>
<rect x="358.33" y="718.67" width="2.25" height="2.25" fill="#1f78b8"/>
<text x="394.9" y="723.0" font-size="9.05" fill="#1f78b8">−1.02 (−1.94 to −0.0933)</text>
<text x="6.4" y="735.6" font-size="8.9" fill="#111">GSE56787celllines</text>
<text x="95.2" y="735.6" font-size="8.9" fill="#111">−2.53 (1.05)</text>
<text x="158.4" y="735.6" font-size="8.9" fill="#111">−0.807 (1.09)</text>
<line x1="332.5" y1="732.5" x2="371.6" y2="732.5" stroke="#1f78b8" stroke-width="1.1"/>
<rect x="350.25" y="730.76" width="3.47" height="3.47" fill="#1f78b8"/>
<text x="394.9" y="735.7" font-size="9.05" fill="#1f78b8">−1.51 (−2.79 to −0.224)</text>
<text x="6.4" y="748.5" font-size="8.9" fill="#111">GSE115650</text>
<text x="95.2" y="748.5" font-size="8.9" fill="#111">−1.25 (1.85)</text>
<text x="158.4" y="748.5" font-size="8.9" fill="#111">0.473 (1.22)</text>
<line x1="347.7" y1="745.4" x2="369.3" y2="745.4" stroke="#1f78b8" stroke-width="1.1"/>
<rect x="357.54" y="744.40" width="2.01" height="2.01" fill="#1f78b8"/>
<text x="394.9" y="748.6" font-size="9.05" fill="#1f78b8">−1.08 (−1.79 to −0.371)</text>
<text x="6.4" y="761.4" font-size="8.9" fill="#111">GSE123468_12</text>
<text x="95.2" y="761.4" font-size="8.9" fill="#111">−0.16 (0.426)</text>
<text x="158.4" y="761.4" font-size="8.9" fill="#111">1.79 (0.323)</text>
<line x1="267.4" y1="758.3" x2="337.5" y2="758.3" stroke="#1f78b8" stroke-width="1.1"/>
<rect x="299.50" y="755.34" width="5.91" height="5.91" fill="#1f78b8"/>
<text x="394.9" y="761.5" font-size="9.05" fill="#1f78b8">−4.76 (−7.06 to −2.46)</text>
<text x="6.4" y="774.2" font-size="8.9" fill="#111">GSE123468_16</text>
<text x="95.2" y="774.2" font-size="8.9" fill="#111">0.968 (0.273)</text>
<text x="158.4" y="774.2" font-size="8.9" fill="#111">2.72 (0.228)</text>
<line x1="232.7" y1="771.1" x2="320.6" y2="771.1" stroke="#1f78b8" stroke-width="1.1"/>
<rect x="272.89" y="767.29" width="7.62" height="7.62" fill="#1f78b8"/>
<text x="394.9" y="774.3" font-size="9.05" fill="#1f78b8">−6.45 (−9.34 to −3.57)</text>
<text x="6.4" y="787.2" font-size="8.9" fill="#111">EGAD00001008337</text>
<text x="95.2" y="787.2" font-size="8.9" fill="#111">5.46 (0.661)</text>
<text x="158.4" y="787.2" font-size="8.9" fill="#111">5.7 (0.702)</text>
<line x1="361.6" y1="784.1" x2="377.6" y2="784.1" stroke="#111" stroke-width="1.1"/>
<rect x="369.06" y="783.52" width="1.15" height="1.15" fill="#111"/>
<text x="394.9" y="787.3" font-size="9.05" fill="#111">−0.352 (−0.876 to 0.171)</text>
<text x="6.4" y="813.3" font-size="8.9" fill="#111">RE Model</text>
<text x="3.8" y="824.9" font-size="8.9" fill="#111">(Q = 43.18, df = 11, p &lt; .001; I² = 88.3%)</text>
<polygon points="338.7,809.9 351.8,803.9 365.0,809.9 351.8,815.9" fill="#1f78b8"/>
<text x="394.9" y="813.1" font-size="9.05" fill="#1f78b8">−1.52 (−2.38 to −0.659)</text>
<line x1="232.5" y1="826.7" x2="388.8" y2="826.7" stroke="#222" stroke-width="0.8"/>
<line x1="253.1" y1="826.7" x2="253.1" y2="829.9" stroke="#222" stroke-width="0.8"/>
<text x="253.1" y="840.4" font-size="8.6" text-anchor="middle" fill="#111">−8</text>
<line x1="283.6" y1="826.7" x2="283.6" y2="829.9" stroke="#222" stroke-width="0.8"/>
<text x="283.6" y="840.4" font-size="8.6" text-anchor="middle" fill="#111">−6</text>
<line x1="314.0" y1="826.7" x2="314.0" y2="829.9" stroke="#222" stroke-width="0.8"/>
<text x="314.0" y="840.4" font-size="8.6" text-anchor="middle" fill="#111">−4</text>
<line x1="344.5" y1="826.7" x2="344.5" y2="829.9" stroke="#222" stroke-width="0.8"/>
<text x="344.5" y="840.4" font-size="8.6" text-anchor="middle" fill="#111">−2</text>
<line x1="375.0" y1="826.7" x2="375.0" y2="829.9" stroke="#222" stroke-width="0.8"/>
<text x="375.0" y="840.4" font-size="8.6" text-anchor="middle" fill="#111">0</text>
<text x="374.6" y="851.6" font-size="9.0" text-anchor="middle" fill="#111">STD log2−FC</text>
<line x1="232.5" y1="856.3" x2="373.2" y2="856.3" stroke="#111" stroke-width="0.8"/>
<line x1="376.8" y1="856.3" x2="414.5" y2="856.3" stroke="#111" stroke-width="0.8"/>
<polygon points="231,856.3 235.5,854.5999999999999 235.5,858.0" fill="#111"/>
<polygon points="416,856.3 411.5,854.5999999999999 411.5,858.0" fill="#111"/>
<text x="372.2" y="867.3" font-size="8.9" text-anchor="end" fill="#111">FSHD down</text>
<text x="378.4" y="867.3" font-size="8.9" fill="#111">FSHD up</text>
<text x="446.5" y="844.9" font-size="8.8" fill="#1f78b8" font-style="italic">*sig. down</text>
<text x="1.6" y="864.9" font-size="7.5" fill="#111">STD = standardized</text>
<text x="1.6" y="873.8" font-size="7.5" fill="#111">STD log2−FC = SMD with heteroscedastic variances (SMDH)</text>
<path d="M505,472.2 L447,472.2 L450,460.6 L418,478.6 L450,496.4 L447,481.2 L505,481.2 Z" fill="#050510"/>
</g>
<g id="go">
<text x="515.3" y="619.8" font-size="10.4" font-weight="bold" fill="#000">d)</text>
<rect x="514.60" y="629.10" width="288.40" height="101.60" fill="#f9ad92"/>
<rect x="514.60" y="735.70" width="288.40" height="101.60" fill="#cde9f5"/>
<text x="521.0" y="651.2" font-size="11.6" font-weight="bold" fill="#111" textLength="64.4" lengthAdjust="spacingAndGlyphs">GO term (↑)</text>
<text x="725.5" y="651.0" font-size="11.2" font-weight="bold" fill="#111" textLength="41.8" lengthAdjust="spacingAndGlyphs">P−value</text>
<text x="520.8" y="665.6" font-size="11.1" fill="#1a1a1a">collagen-containing extracellular matrix</text>
<text x="725.5" y="665.4" font-size="10.6" fill="#1a1a1a">2.531579 e-13</text>
<text x="520.8" y="679.1" font-size="11.1" fill="#1a1a1a">external encapsulating structure</text>
<text x="725.5" y="678.9" font-size="10.6" fill="#1a1a1a">1.528466 e-11</text>
<text x="520.8" y="692.6" font-size="11.1" fill="#1a1a1a">extracellular matrix</text>
<text x="725.5" y="692.4" font-size="10.6" fill="#1a1a1a">1.528466 e-11</text>
<text x="520.8" y="706.1" font-size="11.1" fill="#1a1a1a">cell-substrate junction</text>
<text x="725.5" y="705.9" font-size="10.6" fill="#1a1a1a">1.174668 e-10</text>
<text x="520.8" y="719.6" font-size="11.1" fill="#1a1a1a">focal adhesion</text>
<text x="725.5" y="719.4" font-size="10.6" fill="#1a1a1a">1.508024 e-10</text>
<text x="521.0" y="756.7" font-size="11.6" font-weight="bold" fill="#111" textLength="64.4" lengthAdjust="spacingAndGlyphs">GO term (↓)</text>
<text x="725.5" y="756.5" font-size="11.2" font-weight="bold" fill="#111" textLength="41.8" lengthAdjust="spacingAndGlyphs">P−value</text>
<text x="520.8" y="771.1" font-size="11.1" fill="#1a1a1a">T-tubule</text>
<text x="725.5" y="770.9" font-size="10.6" fill="#1a1a1a">1.911663 e-05</text>
<text x="520.8" y="784.6" font-size="11.1" fill="#1a1a1a">sarcolemma</text>
<text x="725.5" y="784.4" font-size="10.6" fill="#1a1a1a">3.392458 e-04</text>
<text x="520.8" y="798.1" font-size="11.1" fill="#1a1a1a">transmembrane transporter complex</text>
<text x="725.5" y="797.9" font-size="10.6" fill="#1a1a1a">6.176295 e-03</text>
<text x="520.8" y="811.6" font-size="11.1" fill="#1a1a1a">complex of collagen trimers</text>
<text x="725.5" y="811.4" font-size="10.6" fill="#1a1a1a">6.526375 e-03</text>
<text x="520.8" y="825.1" font-size="11.1" fill="#1a1a1a">transporter complex</text>
<text x="725.5" y="824.9" font-size="10.6" fill="#1a1a1a">1.258294 e-02</text>
</g>
</svg>
</body></html>
